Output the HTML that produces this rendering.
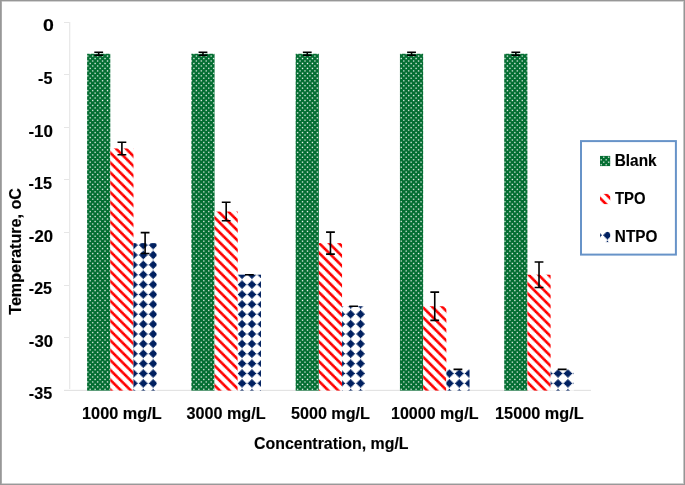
<!DOCTYPE html>
<html><head><meta charset="utf-8"><style>
html,body{margin:0;padding:0;background:#fff;width:685px;height:485px;overflow:hidden}
.f{position:absolute}
svg{position:absolute;left:0;top:0;will-change:transform}
.t{font-family:"Liberation Sans",sans-serif;font-weight:bold;font-size:16px;fill:#000;stroke:#000;stroke-width:0.15px}
</style></head><body>
<svg width="685" height="485" viewBox="0 0 685 485"><defs><pattern id="pd" patternUnits="userSpaceOnUse" width="79" height="79" x="138" y="369"><rect width="79" height="79" fill="#ffffff"/><path fill="#f4f6f8" d="M6 0h1v1h-1zM53 0h1v1h-1zM21 2h1v1h-1zM38 2h1v1h-1zM0 3h1v1h-1zM10 3h1v1h-1zM20 3h1v1h-1zM39 3h1v1h-1zM49 3h1v1h-1zM0 5h1v1h-1zM10 5h1v1h-1zM20 5h1v1h-1zM39 5h1v1h-1zM49 5h1v1h-1zM21 6h1v1h-1zM38 6h1v1h-1zM6 8h1v1h-1zM53 8h1v1h-1zM5 9h1v1h-1zM14 9h2v1h-2zM24 9h2v1h-2zM34 9h2v1h-2zM44 9h2v1h-2zM54 9h1v1h-1zM64 9h1v1h-1zM74 9h1v1h-1zM6 10h1v1h-1zM53 10h1v1h-1zM32 11h1v1h-1zM21 12h1v1h-1zM38 12h1v1h-1zM0 13h1v1h-1zM10 13h1v1h-1zM49 13h1v1h-1zM59 13h1v1h-1zM9 15h1v1h-1zM19 15h2v1h-2zM29 15h2v1h-2zM39 15h2v1h-2zM50 15h1v1h-1zM78 15h1v1h-1zM21 16h1v1h-1zM28 16h1v1h-1zM38 16h1v1h-1zM17 17h1v1h-1zM53 18h1v1h-1zM4 19h1v1h-1zM55 19h1v1h-1zM63 19h1v1h-1zM65 19h1v1h-1zM73 19h1v1h-1zM6 20h1v1h-1zM53 20h1v1h-1zM32 21h1v1h-1zM38 22h1v1h-1zM0 23h1v1h-1zM59 23h1v1h-1zM11 25h1v1h-1zM18 26h1v1h-1zM21 26h1v1h-1zM28 26h1v1h-1zM31 26h1v1h-1zM41 26h1v1h-1zM17 27h1v1h-1zM42 27h1v1h-1zM53 28h1v1h-1zM63 29h1v1h-1zM65 29h1v1h-1zM75 29h1v1h-1zM3 30h1v1h-1zM13 30h1v1h-1zM16 30h1v1h-1zM23 30h1v1h-1zM26 30h1v1h-1zM33 30h1v1h-1zM36 30h1v1h-1zM43 30h1v1h-1zM46 30h1v1h-1zM56 30h1v1h-1zM62 30h1v1h-1zM66 30h1v1h-1zM72 30h1v1h-1zM32 31h1v1h-1zM0 33h1v1h-1zM59 33h1v1h-1zM2 36h1v1h-1zM8 36h1v1h-1zM18 36h1v1h-1zM41 36h1v1h-1zM47 36h1v1h-1zM51 36h1v1h-1zM57 36h1v1h-1zM61 36h1v1h-1zM67 36h1v1h-1zM71 36h1v1h-1zM77 36h1v1h-1zM7 37h1v1h-1zM17 37h1v1h-1zM42 37h1v1h-1zM53 38h1v1h-1zM75 38h1v1h-1zM63 39h1v1h-1zM75 39h1v1h-1zM7 40h1v1h-1zM42 40h1v1h-1zM52 40h1v1h-1zM62 40h1v1h-1zM76 40h1v1h-1zM32 41h1v1h-1zM59 43h1v1h-1zM59 44h1v1h-1zM32 46h1v1h-1zM7 47h1v1h-1zM42 47h1v1h-1zM52 47h1v1h-1zM62 47h1v1h-1zM76 47h1v1h-1zM63 48h1v1h-1zM75 48h1v1h-1zM53 49h1v1h-1zM75 49h1v1h-1zM7 50h1v1h-1zM17 50h1v1h-1zM42 50h1v1h-1zM2 51h1v1h-1zM8 51h1v1h-1zM18 51h1v1h-1zM41 51h1v1h-1zM47 51h1v1h-1zM51 51h1v1h-1zM57 51h1v1h-1zM61 51h1v1h-1zM67 51h1v1h-1zM71 51h1v1h-1zM77 51h1v1h-1zM0 54h1v1h-1zM59 54h1v1h-1zM32 56h1v1h-1zM3 57h1v1h-1zM13 57h1v1h-1zM16 57h1v1h-1zM23 57h1v1h-1zM26 57h1v1h-1zM33 57h1v1h-1zM36 57h1v1h-1zM43 57h1v1h-1zM46 57h1v1h-1zM56 57h1v1h-1zM62 57h1v1h-1zM66 57h1v1h-1zM72 57h1v1h-1zM63 58h1v1h-1zM65 58h1v1h-1zM75 58h1v1h-1zM53 59h1v1h-1zM17 60h1v1h-1zM42 60h1v1h-1zM18 61h1v1h-1zM21 61h1v1h-1zM28 61h1v1h-1zM31 61h1v1h-1zM41 61h1v1h-1zM11 62h1v1h-1zM0 64h1v1h-1zM59 64h1v1h-1zM38 65h1v1h-1zM32 66h1v1h-1zM6 67h1v1h-1zM53 67h1v1h-1zM4 68h1v1h-1zM55 68h1v1h-1zM63 68h1v1h-1zM65 68h1v1h-1zM73 68h1v1h-1zM53 69h1v1h-1zM17 70h1v1h-1zM21 71h1v1h-1zM28 71h1v1h-1zM38 71h1v1h-1zM9 72h1v1h-1zM19 72h2v1h-2zM29 72h2v1h-2zM39 72h2v1h-2zM50 72h1v1h-1zM78 72h1v1h-1zM0 74h1v1h-1zM10 74h1v1h-1zM49 74h1v1h-1zM59 74h1v1h-1zM21 75h1v1h-1zM38 75h1v1h-1zM32 76h1v1h-1zM6 77h1v1h-1zM53 77h1v1h-1zM5 78h1v1h-1zM14 78h2v1h-2zM24 78h2v1h-2zM34 78h2v1h-2zM44 78h2v1h-2zM54 78h1v1h-1zM64 78h1v1h-1zM74 78h1v1h-1z"/><path fill="#eaecf2" d="M75 0h1v1h-1zM17 1h1v1h-1zM42 1h1v1h-1zM28 2h1v1h-1zM31 2h1v1h-1zM19 3h1v1h-1zM29 3h2v1h-2zM40 3h1v1h-1zM59 4h1v1h-1zM19 5h1v1h-1zM29 5h2v1h-2zM40 5h1v1h-1zM28 6h1v1h-1zM31 6h1v1h-1zM17 7h1v1h-1zM42 7h1v1h-1zM75 8h1v1h-1zM17 11h1v1h-1zM42 11h1v1h-1zM28 12h1v1h-1zM20 13h1v1h-1zM39 13h1v1h-1zM0 14h1v1h-1zM59 14h1v1h-1zM1 15h1v1h-1zM48 15h1v1h-1zM58 15h1v1h-1zM60 15h1v1h-1zM68 15h1v1h-1zM70 15h1v1h-1zM18 16h1v1h-1zM31 16h1v1h-1zM41 16h1v1h-1zM7 17h1v1h-1zM42 17h1v1h-1zM63 18h1v1h-1zM75 18h1v1h-1zM14 19h1v1h-1zM24 19h2v1h-2zM34 19h2v1h-2zM45 19h1v1h-1zM17 21h1v1h-1zM21 22h1v1h-1zM10 23h1v1h-1zM49 23h1v1h-1zM0 24h1v1h-1zM59 24h1v1h-1zM38 25h1v1h-1zM8 26h1v1h-1zM51 26h1v1h-1zM61 26h1v1h-1zM77 26h1v1h-1zM7 27h1v1h-1zM52 27h1v1h-1zM63 28h1v1h-1zM75 28h1v1h-1zM4 29h1v1h-1zM55 29h1v1h-1zM73 29h1v1h-1zM6 30h1v1h-1zM17 31h1v1h-1zM21 32h1v1h-1zM38 32h1v1h-1zM49 33h1v1h-1zM0 34h1v1h-1zM59 34h1v1h-1zM38 35h1v1h-1zM12 36h1v1h-1zM22 36h1v1h-1zM27 36h1v1h-1zM37 36h1v1h-1zM52 37h1v1h-1zM62 37h1v1h-1zM76 37h1v1h-1zM63 38h1v1h-1zM65 39h1v1h-1zM73 39h1v1h-1zM3 40h1v1h-1zM46 40h1v1h-1zM56 40h1v1h-1zM66 40h1v1h-1zM72 40h1v1h-1zM21 42h1v1h-1zM38 42h1v1h-1zM0 43h1v1h-1zM0 44h1v1h-1zM21 45h1v1h-1zM38 45h1v1h-1zM3 47h1v1h-1zM46 47h1v1h-1zM56 47h1v1h-1zM66 47h1v1h-1zM72 47h1v1h-1zM65 48h1v1h-1zM73 48h1v1h-1zM63 49h1v1h-1zM52 50h1v1h-1zM62 50h1v1h-1zM76 50h1v1h-1zM12 51h1v1h-1zM22 51h1v1h-1zM27 51h1v1h-1zM37 51h1v1h-1zM38 52h1v1h-1zM0 53h1v1h-1zM59 53h1v1h-1zM49 54h1v1h-1zM21 55h1v1h-1zM38 55h1v1h-1zM17 56h1v1h-1zM6 57h1v1h-1zM4 58h1v1h-1zM55 58h1v1h-1zM73 58h1v1h-1zM63 59h1v1h-1zM75 59h1v1h-1zM7 60h1v1h-1zM52 60h1v1h-1zM8 61h1v1h-1zM51 61h1v1h-1zM61 61h1v1h-1zM77 61h1v1h-1zM38 62h1v1h-1zM0 63h1v1h-1zM59 63h1v1h-1zM10 64h1v1h-1zM49 64h1v1h-1zM21 65h1v1h-1zM17 66h1v1h-1zM14 68h1v1h-1zM24 68h2v1h-2zM34 68h2v1h-2zM45 68h1v1h-1zM63 69h1v1h-1zM75 69h1v1h-1zM7 70h1v1h-1zM42 70h1v1h-1zM18 71h1v1h-1zM31 71h1v1h-1zM41 71h1v1h-1zM1 72h1v1h-1zM48 72h1v1h-1zM58 72h1v1h-1zM60 72h1v1h-1zM68 72h1v1h-1zM70 72h1v1h-1zM0 73h1v1h-1zM59 73h1v1h-1zM20 74h1v1h-1zM39 74h1v1h-1zM28 75h1v1h-1zM17 76h1v1h-1zM42 76h1v1h-1z"/><path fill="#dfe3eb" d="M63 0h1v1h-1zM7 1h1v1h-1zM52 1h1v1h-1zM18 2h1v1h-1zM41 2h1v1h-1zM9 3h1v1h-1zM50 3h1v1h-1zM60 3h1v1h-1zM78 3h1v1h-1zM0 4h1v1h-1zM9 5h1v1h-1zM50 5h1v1h-1zM60 5h1v1h-1zM78 5h1v1h-1zM18 6h1v1h-1zM41 6h1v1h-1zM7 7h1v1h-1zM52 7h1v1h-1zM63 8h1v1h-1zM63 10h1v1h-1zM75 10h1v1h-1zM31 12h1v1h-1zM19 13h1v1h-1zM29 13h2v1h-2zM11 15h1v1h-1zM8 16h1v1h-1zM51 16h1v1h-1zM77 16h1v1h-1zM52 17h1v1h-1zM5 19h1v1h-1zM15 19h1v1h-1zM44 19h1v1h-1zM54 19h1v1h-1zM64 19h1v1h-1zM74 19h1v1h-1zM63 20h1v1h-1zM75 20h1v1h-1zM42 21h1v1h-1zM28 22h1v1h-1zM31 22h1v1h-1zM20 23h1v1h-1zM39 23h1v1h-1zM21 25h1v1h-1zM2 26h1v1h-1zM47 26h1v1h-1zM57 26h1v1h-1zM67 26h1v1h-1zM71 26h1v1h-1zM62 27h1v1h-1zM76 27h1v1h-1zM65 28h1v1h-1zM73 28h1v1h-1zM14 29h1v1h-1zM24 29h1v1h-1zM35 29h1v1h-1zM45 29h1v1h-1zM53 30h1v1h-1zM42 31h1v1h-1zM28 32h1v1h-1zM10 33h1v1h-1zM39 33h1v1h-1zM49 34h1v1h-1zM21 35h1v1h-1zM32 36h1v1h-1zM3 37h1v1h-1zM56 37h1v1h-1zM66 37h1v1h-1zM72 37h1v1h-1zM65 38h1v1h-1zM73 38h1v1h-1zM4 39h1v1h-1zM55 39h1v1h-1zM13 40h1v1h-1zM23 40h1v1h-1zM26 40h1v1h-1zM33 40h1v1h-1zM36 40h1v1h-1zM17 41h1v1h-1zM42 41h1v1h-1zM10 43h1v1h-1zM49 43h1v1h-1zM10 44h1v1h-1zM49 44h1v1h-1zM17 46h1v1h-1zM42 46h1v1h-1zM13 47h1v1h-1zM23 47h1v1h-1zM26 47h1v1h-1zM33 47h1v1h-1zM36 47h1v1h-1zM4 48h1v1h-1zM55 48h1v1h-1zM65 49h1v1h-1zM73 49h1v1h-1zM3 50h1v1h-1zM56 50h1v1h-1zM66 50h1v1h-1zM72 50h1v1h-1zM32 51h1v1h-1zM21 52h1v1h-1zM49 53h1v1h-1zM10 54h1v1h-1zM39 54h1v1h-1zM28 55h1v1h-1zM42 56h1v1h-1zM53 57h1v1h-1zM14 58h1v1h-1zM24 58h1v1h-1zM35 58h1v1h-1zM45 58h1v1h-1zM65 59h1v1h-1zM73 59h1v1h-1zM62 60h1v1h-1zM76 60h1v1h-1zM2 61h1v1h-1zM47 61h1v1h-1zM57 61h1v1h-1zM67 61h1v1h-1zM71 61h1v1h-1zM21 62h1v1h-1zM20 64h1v1h-1zM39 64h1v1h-1zM28 65h1v1h-1zM31 65h1v1h-1zM42 66h1v1h-1zM63 67h1v1h-1zM75 67h1v1h-1zM5 68h1v1h-1zM15 68h1v1h-1zM44 68h1v1h-1zM54 68h1v1h-1zM74 68h1v1h-1zM52 70h1v1h-1zM8 71h1v1h-1zM51 71h1v1h-1zM77 71h1v1h-1zM11 72h1v1h-1zM19 74h1v1h-1zM29 74h2v1h-2zM31 75h1v1h-1zM63 77h1v1h-1zM75 77h1v1h-1z"/><path fill="#d4dae4" d="M65 0h1v1h-1zM76 1h1v1h-1zM8 2h1v1h-1zM51 2h1v1h-1zM1 3h1v1h-1zM58 3h1v1h-1zM68 3h1v1h-1zM70 3h1v1h-1zM1 5h1v1h-1zM58 5h1v1h-1zM68 5h1v1h-1zM70 5h1v1h-1zM8 6h1v1h-1zM51 6h1v1h-1zM76 7h1v1h-1zM65 8h1v1h-1zM7 11h1v1h-1zM52 11h1v1h-1zM18 12h1v1h-1zM41 12h1v1h-1zM9 13h1v1h-1zM40 13h1v1h-1zM50 13h1v1h-1zM49 14h1v1h-1zM38 15h1v1h-1zM61 16h1v1h-1zM67 16h1v1h-1zM71 16h1v1h-1zM62 17h1v1h-1zM76 17h1v1h-1zM65 18h1v1h-1zM73 18h1v1h-1zM7 21h1v1h-1zM52 21h1v1h-1zM18 22h1v1h-1zM29 23h2v1h-2zM10 24h1v1h-1zM49 24h1v1h-1zM12 26h1v1h-1zM22 26h1v1h-1zM37 26h1v1h-1zM66 27h1v1h-1zM72 27h1v1h-1zM55 28h1v1h-1zM15 29h1v1h-1zM25 29h1v1h-1zM34 29h1v1h-1zM75 30h1v1h-1zM31 32h1v1h-1zM20 33h1v1h-1zM10 34h1v1h-1zM28 35h1v1h-1zM17 36h1v1h-1zM13 37h1v1h-1zM46 37h1v1h-1zM4 38h1v1h-1zM55 38h1v1h-1zM14 39h1v1h-1zM45 39h1v1h-1zM16 40h1v1h-1zM43 40h1v1h-1zM28 42h1v1h-1zM31 42h1v1h-1zM20 43h1v1h-1zM39 43h1v1h-1zM20 44h1v1h-1zM39 44h1v1h-1zM28 45h1v1h-1zM31 45h1v1h-1zM16 47h1v1h-1zM43 47h1v1h-1zM14 48h1v1h-1zM45 48h1v1h-1zM4 49h1v1h-1zM55 49h1v1h-1zM13 50h1v1h-1zM46 50h1v1h-1zM17 51h1v1h-1zM28 52h1v1h-1zM10 53h1v1h-1zM20 54h1v1h-1zM31 55h1v1h-1zM75 57h1v1h-1zM15 58h1v1h-1zM25 58h1v1h-1zM34 58h1v1h-1zM55 59h1v1h-1zM66 60h1v1h-1zM72 60h1v1h-1zM12 61h1v1h-1zM22 61h1v1h-1zM37 61h1v1h-1zM10 63h1v1h-1zM49 63h1v1h-1zM29 64h2v1h-2zM18 65h1v1h-1zM7 66h1v1h-1zM52 66h1v1h-1zM64 68h1v1h-1zM65 69h1v1h-1zM73 69h1v1h-1zM62 70h1v1h-1zM76 70h1v1h-1zM61 71h1v1h-1zM67 71h1v1h-1zM71 71h1v1h-1zM38 72h1v1h-1zM49 73h1v1h-1zM9 74h1v1h-1zM40 74h1v1h-1zM50 74h1v1h-1zM18 75h1v1h-1zM41 75h1v1h-1zM7 76h1v1h-1zM52 76h1v1h-1z"/><path fill="#cad1de" d="M73 0h1v1h-1zM62 1h1v1h-1zM61 2h1v1h-1zM77 2h1v1h-1zM11 3h1v1h-1zM48 3h1v1h-1zM10 4h1v1h-1zM49 4h1v1h-1zM11 5h1v1h-1zM48 5h1v1h-1zM61 6h1v1h-1zM77 6h1v1h-1zM62 7h1v1h-1zM73 8h1v1h-1zM65 10h1v1h-1zM73 10h1v1h-1zM62 11h1v1h-1zM76 11h1v1h-1zM8 12h1v1h-1zM51 12h1v1h-1zM60 13h1v1h-1zM78 13h1v1h-1zM10 14h1v1h-1zM21 15h1v1h-1zM2 16h1v1h-1zM47 16h1v1h-1zM57 16h1v1h-1zM66 17h1v1h-1zM72 17h1v1h-1zM55 18h1v1h-1zM65 20h1v1h-1zM41 22h1v1h-1zM19 23h1v1h-1zM40 23h1v1h-1zM28 25h1v1h-1zM31 25h1v1h-1zM27 26h1v1h-1zM32 26h1v1h-1zM3 27h1v1h-1zM46 27h1v1h-1zM56 27h1v1h-1zM4 28h1v1h-1zM5 29h1v1h-1zM44 29h1v1h-1zM54 29h1v1h-1zM63 30h1v1h-1zM7 31h1v1h-1zM52 31h1v1h-1zM18 32h1v1h-1zM41 32h1v1h-1zM29 33h2v1h-2zM20 34h1v1h-1zM39 34h1v1h-1zM31 35h1v1h-1zM42 36h1v1h-1zM23 37h1v1h-1zM26 37h1v1h-1zM33 37h1v1h-1zM36 37h1v1h-1zM14 38h1v1h-1zM45 38h1v1h-1zM24 39h2v1h-2zM35 39h1v1h-1zM6 40h1v1h-1zM53 40h1v1h-1zM7 41h1v1h-1zM7 46h1v1h-1zM6 47h1v1h-1zM53 47h1v1h-1zM24 48h2v1h-2zM35 48h1v1h-1zM14 49h1v1h-1zM45 49h1v1h-1zM23 50h1v1h-1zM26 50h1v1h-1zM33 50h1v1h-1zM36 50h1v1h-1zM42 51h1v1h-1zM31 52h1v1h-1zM20 53h1v1h-1zM39 53h1v1h-1zM29 54h2v1h-2zM18 55h1v1h-1zM41 55h1v1h-1zM7 56h1v1h-1zM52 56h1v1h-1zM63 57h1v1h-1zM5 58h1v1h-1zM44 58h1v1h-1zM54 58h1v1h-1zM4 59h1v1h-1zM3 60h1v1h-1zM46 60h1v1h-1zM56 60h1v1h-1zM27 61h1v1h-1zM32 61h1v1h-1zM28 62h1v1h-1zM31 62h1v1h-1zM19 64h1v1h-1zM40 64h1v1h-1zM41 65h1v1h-1zM65 67h1v1h-1zM55 69h1v1h-1zM66 70h1v1h-1zM72 70h1v1h-1zM2 71h1v1h-1zM47 71h1v1h-1zM57 71h1v1h-1zM21 72h1v1h-1zM10 73h1v1h-1zM60 74h1v1h-1zM78 74h1v1h-1zM8 75h1v1h-1zM51 75h1v1h-1zM62 76h1v1h-1zM76 76h1v1h-1zM65 77h1v1h-1zM73 77h1v1h-1z"/><path fill="#bfc7d7" d="M4 0h1v1h-1zM55 0h1v1h-1zM66 1h1v1h-1zM72 1h1v1h-1zM57 2h1v1h-1zM67 2h1v1h-1zM71 2h1v1h-1zM57 6h1v1h-1zM67 6h1v1h-1zM71 6h1v1h-1zM66 7h1v1h-1zM72 7h1v1h-1zM4 8h1v1h-1zM55 8h1v1h-1zM61 12h1v1h-1zM77 12h1v1h-1zM1 13h1v1h-1zM58 13h1v1h-1zM68 13h1v1h-1zM70 13h1v1h-1zM39 14h1v1h-1zM12 16h1v1h-1zM22 16h1v1h-1zM37 16h1v1h-1zM3 17h1v1h-1zM56 17h1v1h-1zM4 18h1v1h-1zM73 20h1v1h-1zM62 21h1v1h-1zM76 21h1v1h-1zM8 22h1v1h-1zM51 22h1v1h-1zM9 23h1v1h-1zM50 23h1v1h-1zM20 24h1v1h-1zM39 24h1v1h-1zM13 27h1v1h-1zM36 27h1v1h-1zM14 28h1v1h-1zM45 28h1v1h-1zM64 29h1v1h-1zM74 29h1v1h-1zM19 33h1v1h-1zM40 33h1v1h-1zM16 37h1v1h-1zM43 37h1v1h-1zM24 38h1v1h-1zM35 38h1v1h-1zM15 39h1v1h-1zM34 39h1v1h-1zM44 39h1v1h-1zM52 41h1v1h-1zM18 42h1v1h-1zM41 42h1v1h-1zM29 43h2v1h-2zM29 44h2v1h-2zM18 45h1v1h-1zM41 45h1v1h-1zM52 46h1v1h-1zM15 48h1v1h-1zM34 48h1v1h-1zM44 48h1v1h-1zM24 49h1v1h-1zM35 49h1v1h-1zM16 50h1v1h-1zM43 50h1v1h-1zM19 54h1v1h-1zM40 54h1v1h-1zM64 58h1v1h-1zM74 58h1v1h-1zM14 59h1v1h-1zM45 59h1v1h-1zM13 60h1v1h-1zM36 60h1v1h-1zM20 63h1v1h-1zM39 63h1v1h-1zM9 64h1v1h-1zM50 64h1v1h-1zM8 65h1v1h-1zM51 65h1v1h-1zM62 66h1v1h-1zM76 66h1v1h-1zM73 67h1v1h-1zM4 69h1v1h-1zM3 70h1v1h-1zM56 70h1v1h-1zM12 71h1v1h-1zM22 71h1v1h-1zM37 71h1v1h-1zM39 73h1v1h-1zM1 74h1v1h-1zM58 74h1v1h-1zM68 74h1v1h-1zM70 74h1v1h-1zM61 75h1v1h-1zM77 75h1v1h-1z"/><path fill="#b5bed1" d="M3 1h1v1h-1zM56 1h1v1h-1zM2 2h1v1h-1zM47 2h1v1h-1zM21 3h1v1h-1zM38 3h1v1h-1zM39 4h1v1h-1zM21 5h1v1h-1zM38 5h1v1h-1zM2 6h1v1h-1zM47 6h1v1h-1zM3 7h1v1h-1zM56 7h1v1h-1zM4 10h1v1h-1zM55 10h1v1h-1zM66 11h1v1h-1zM72 11h1v1h-1zM67 12h1v1h-1zM71 12h1v1h-1zM11 13h1v1h-1zM48 13h1v1h-1zM20 14h1v1h-1zM28 15h1v1h-1zM31 15h1v1h-1zM27 16h1v1h-1zM32 16h1v1h-1zM13 17h1v1h-1zM46 17h1v1h-1zM14 18h1v1h-1zM45 18h1v1h-1zM61 22h1v1h-1zM77 22h1v1h-1zM60 23h1v1h-1zM78 23h1v1h-1zM18 25h1v1h-1zM17 26h1v1h-1zM42 26h1v1h-1zM23 27h1v1h-1zM26 27h1v1h-1zM33 27h1v1h-1zM24 28h1v1h-1zM35 28h1v1h-1zM65 30h1v1h-1zM73 30h1v1h-1zM62 31h1v1h-1zM76 31h1v1h-1zM8 32h1v1h-1zM51 32h1v1h-1zM9 33h1v1h-1zM50 33h1v1h-1zM29 34h2v1h-2zM18 35h1v1h-1zM41 35h1v1h-1zM7 36h1v1h-1zM52 36h1v1h-1zM6 37h1v1h-1zM53 37h1v1h-1zM25 38h1v1h-1zM34 38h1v1h-1zM5 39h1v1h-1zM54 39h1v1h-1zM63 40h1v1h-1zM75 40h1v1h-1zM76 41h1v1h-1zM19 43h1v1h-1zM40 43h1v1h-1zM19 44h1v1h-1zM40 44h1v1h-1zM76 46h1v1h-1zM63 47h1v1h-1zM75 47h1v1h-1zM5 48h1v1h-1zM54 48h1v1h-1zM25 49h1v1h-1zM34 49h1v1h-1zM6 50h1v1h-1zM53 50h1v1h-1zM7 51h1v1h-1zM52 51h1v1h-1zM18 52h1v1h-1zM41 52h1v1h-1zM29 53h2v1h-2zM9 54h1v1h-1zM50 54h1v1h-1zM8 55h1v1h-1zM51 55h1v1h-1zM62 56h1v1h-1zM76 56h1v1h-1zM65 57h1v1h-1zM73 57h1v1h-1zM24 59h1v1h-1zM35 59h1v1h-1zM23 60h1v1h-1zM26 60h1v1h-1zM33 60h1v1h-1zM17 61h1v1h-1zM42 61h1v1h-1zM18 62h1v1h-1zM60 64h1v1h-1zM78 64h1v1h-1zM61 65h1v1h-1zM77 65h1v1h-1zM14 69h1v1h-1zM45 69h1v1h-1zM13 70h1v1h-1zM46 70h1v1h-1zM27 71h1v1h-1zM32 71h1v1h-1zM28 72h1v1h-1zM31 72h1v1h-1zM20 73h1v1h-1zM11 74h1v1h-1zM48 74h1v1h-1zM67 75h1v1h-1zM71 75h1v1h-1zM66 76h1v1h-1zM72 76h1v1h-1zM4 77h1v1h-1zM55 77h1v1h-1z"/><path fill="#aab5ca" d="M14 0h1v1h-1zM45 0h1v1h-1zM12 2h1v1h-1zM37 2h1v1h-1zM20 4h1v1h-1zM12 6h1v1h-1zM37 6h1v1h-1zM14 8h1v1h-1zM45 8h1v1h-1zM56 11h1v1h-1zM2 12h1v1h-1zM57 12h1v1h-1zM23 17h1v1h-1zM36 17h1v1h-1zM35 18h1v1h-1zM4 20h1v1h-1zM55 20h1v1h-1zM66 21h1v1h-1zM72 21h1v1h-1zM58 23h1v1h-1zM68 23h1v1h-1zM70 23h1v1h-1zM29 24h2v1h-2zM41 25h1v1h-1zM16 27h1v1h-1zM43 27h1v1h-1zM77 32h1v1h-1zM78 33h1v1h-1zM19 34h1v1h-1zM15 38h1v1h-1zM44 38h1v1h-1zM64 39h1v1h-1zM74 39h1v1h-1zM62 41h1v1h-1zM8 42h1v1h-1zM51 42h1v1h-1zM8 45h1v1h-1zM51 45h1v1h-1zM62 46h1v1h-1zM64 48h1v1h-1zM74 48h1v1h-1zM15 49h1v1h-1zM44 49h1v1h-1zM19 53h1v1h-1zM78 54h1v1h-1zM77 55h1v1h-1zM25 59h1v1h-1zM16 60h1v1h-1zM43 60h1v1h-1zM41 62h1v1h-1zM29 63h2v1h-2zM58 64h1v1h-1zM68 64h1v1h-1zM70 64h1v1h-1zM66 66h1v1h-1zM72 66h1v1h-1zM4 67h1v1h-1zM55 67h1v1h-1zM35 69h1v1h-1zM23 70h1v1h-1zM36 70h1v1h-1zM2 75h1v1h-1zM57 75h1v1h-1zM56 76h1v1h-1z"/><path fill="#9fabc3" d="M13 1h1v1h-1zM46 1h1v1h-1zM22 2h1v1h-1zM27 2h1v1h-1zM28 3h1v1h-1zM31 3h1v1h-1zM29 4h1v1h-1zM28 5h1v1h-1zM31 5h1v1h-1zM22 6h1v1h-1zM27 6h1v1h-1zM13 7h1v1h-1zM46 7h1v1h-1zM14 10h1v1h-1zM45 10h1v1h-1zM3 11h1v1h-1zM47 12h1v1h-1zM21 13h1v1h-1zM38 13h1v1h-1zM29 14h2v1h-2zM18 15h1v1h-1zM41 15h1v1h-1zM17 16h1v1h-1zM42 16h1v1h-1zM26 17h1v1h-1zM24 18h1v1h-1zM67 22h1v1h-1zM71 22h1v1h-1zM1 23h1v1h-1zM48 23h1v1h-1zM7 26h1v1h-1zM52 26h1v1h-1zM6 27h1v1h-1zM25 28h1v1h-1zM34 28h1v1h-1zM4 30h1v1h-1zM55 30h1v1h-1zM66 31h1v1h-1zM72 31h1v1h-1zM61 32h1v1h-1zM60 33h1v1h-1zM68 33h1v1h-1zM40 34h1v1h-1zM8 35h1v1h-1zM51 35h1v1h-1zM62 36h1v1h-1zM76 36h1v1h-1zM63 37h1v1h-1zM75 37h1v1h-1zM5 38h1v1h-1zM54 38h1v1h-1zM65 40h1v1h-1zM73 40h1v1h-1zM9 43h1v1h-1zM50 43h1v1h-1zM9 44h1v1h-1zM50 44h1v1h-1zM65 47h1v1h-1zM73 47h1v1h-1zM5 49h1v1h-1zM54 49h1v1h-1zM63 50h1v1h-1zM75 50h1v1h-1zM62 51h1v1h-1zM76 51h1v1h-1zM8 52h1v1h-1zM51 52h1v1h-1zM40 53h1v1h-1zM60 54h1v1h-1zM68 54h1v1h-1zM61 55h1v1h-1zM66 56h1v1h-1zM72 56h1v1h-1zM4 57h1v1h-1zM55 57h1v1h-1zM34 59h1v1h-1zM6 60h1v1h-1zM7 61h1v1h-1zM52 61h1v1h-1zM19 63h1v1h-1zM1 64h1v1h-1zM48 64h1v1h-1zM67 65h1v1h-1zM71 65h1v1h-1zM24 69h1v1h-1zM26 70h1v1h-1zM33 70h1v1h-1zM17 71h1v1h-1zM42 71h1v1h-1zM18 72h1v1h-1zM41 72h1v1h-1zM29 73h2v1h-2zM21 74h1v1h-1zM38 74h1v1h-1zM47 75h1v1h-1zM3 76h1v1h-1zM14 77h1v1h-1zM45 77h1v1h-1z"/><path fill="#95a2bd" d="M24 0h1v1h-1zM35 0h1v1h-1zM23 1h1v1h-1zM36 1h1v1h-1zM32 2h1v1h-1zM30 4h1v1h-1zM32 6h1v1h-1zM23 7h1v1h-1zM36 7h1v1h-1zM24 8h1v1h-1zM35 8h1v1h-1zM13 11h1v1h-1zM46 11h1v1h-1zM12 12h1v1h-1zM28 13h1v1h-1zM7 16h1v1h-1zM16 17h1v1h-1zM33 17h1v1h-1zM25 18h1v1h-1zM34 18h1v1h-1zM14 20h1v1h-1zM45 20h1v1h-1zM3 21h1v1h-1zM56 21h1v1h-1zM2 22h1v1h-1zM57 22h1v1h-1zM11 23h1v1h-1zM19 24h1v1h-1zM40 24h1v1h-1zM8 25h1v1h-1zM51 25h1v1h-1zM53 27h1v1h-1zM15 28h1v1h-1zM44 28h1v1h-1zM67 32h1v1h-1zM71 32h1v1h-1zM70 33h1v1h-1zM9 34h1v1h-1zM50 34h1v1h-1zM65 37h1v1h-1zM64 38h1v1h-1zM74 38h1v1h-1zM66 41h1v1h-1zM72 41h1v1h-1zM61 42h1v1h-1zM77 42h1v1h-1zM60 43h1v1h-1zM78 43h1v1h-1zM60 44h1v1h-1zM78 44h1v1h-1zM61 45h1v1h-1zM77 45h1v1h-1zM66 46h1v1h-1zM72 46h1v1h-1zM64 49h1v1h-1zM74 49h1v1h-1zM65 50h1v1h-1zM9 53h1v1h-1zM50 53h1v1h-1zM70 54h1v1h-1zM67 55h1v1h-1zM71 55h1v1h-1zM15 59h1v1h-1zM44 59h1v1h-1zM53 60h1v1h-1zM8 62h1v1h-1zM51 62h1v1h-1zM40 63h1v1h-1zM11 64h1v1h-1zM2 65h1v1h-1zM57 65h1v1h-1zM3 66h1v1h-1zM56 66h1v1h-1zM14 67h1v1h-1zM45 67h1v1h-1zM25 69h1v1h-1zM34 69h1v1h-1zM16 70h1v1h-1zM7 71h1v1h-1zM28 74h1v1h-1zM12 75h1v1h-1zM13 76h1v1h-1zM46 76h1v1h-1z"/><path fill="#8a99b6" d="M26 1h1v1h-1zM17 2h1v1h-1zM42 2h1v1h-1zM18 3h1v1h-1zM41 3h1v1h-1zM18 5h1v1h-1zM41 5h1v1h-1zM17 6h1v1h-1zM42 6h1v1h-1zM26 7h1v1h-1zM24 10h1v1h-1zM35 10h1v1h-1zM22 12h1v1h-1zM37 12h1v1h-1zM31 13h1v1h-1zM19 14h1v1h-1zM40 14h1v1h-1zM8 15h1v1h-1zM51 15h1v1h-1zM52 16h1v1h-1zM43 17h1v1h-1zM47 22h1v1h-1zM21 23h1v1h-1zM38 23h1v1h-1zM9 24h1v1h-1zM62 26h1v1h-1zM76 26h1v1h-1zM63 27h1v1h-1zM75 27h1v1h-1zM5 28h1v1h-1zM54 28h1v1h-1zM45 30h1v1h-1zM3 31h1v1h-1zM56 31h1v1h-1zM1 33h1v1h-1zM58 33h1v1h-1zM61 35h1v1h-1zM77 35h1v1h-1zM66 36h1v1h-1zM73 37h1v1h-1zM4 40h1v1h-1zM55 40h1v1h-1zM67 42h1v1h-1zM68 43h1v1h-1zM68 44h1v1h-1zM4 47h1v1h-1zM55 47h1v1h-1zM73 50h1v1h-1zM66 51h1v1h-1zM61 52h1v1h-1zM77 52h1v1h-1zM1 54h1v1h-1zM58 54h1v1h-1zM3 56h1v1h-1zM56 56h1v1h-1zM45 57h1v1h-1zM5 59h1v1h-1zM54 59h1v1h-1zM63 60h1v1h-1zM75 60h1v1h-1zM62 61h1v1h-1zM76 61h1v1h-1zM9 63h1v1h-1zM21 64h1v1h-1zM38 64h1v1h-1zM47 65h1v1h-1zM43 70h1v1h-1zM52 71h1v1h-1zM8 72h1v1h-1zM51 72h1v1h-1zM19 73h1v1h-1zM40 73h1v1h-1zM31 74h1v1h-1zM22 75h1v1h-1zM37 75h1v1h-1zM24 77h1v1h-1zM35 77h1v1h-1z"/><path fill="#8090b0" d="M25 0h1v1h-1zM34 0h1v1h-1zM33 1h1v1h-1zM7 2h1v1h-1zM8 3h1v1h-1zM19 4h1v1h-1zM40 4h1v1h-1zM8 5h1v1h-1zM7 6h1v1h-1zM33 7h1v1h-1zM25 8h1v1h-1zM34 8h1v1h-1zM23 11h1v1h-1zM36 11h1v1h-1zM27 12h1v1h-1zM32 12h1v1h-1zM18 13h1v1h-1zM76 16h1v1h-1zM6 17h1v1h-1zM53 17h1v1h-1zM15 18h1v1h-1zM44 18h1v1h-1zM35 20h1v1h-1zM13 21h1v1h-1zM46 21h1v1h-1zM12 22h1v1h-1zM28 23h1v1h-1zM50 24h1v1h-1zM77 25h1v1h-1zM65 27h1v1h-1zM14 30h1v1h-1zM2 32h1v1h-1zM57 32h1v1h-1zM11 33h1v1h-1zM48 33h1v1h-1zM60 34h1v1h-1zM78 34h1v1h-1zM72 36h1v1h-1zM55 37h1v1h-1zM56 41h1v1h-1zM71 42h1v1h-1zM70 43h1v1h-1zM70 44h1v1h-1zM67 45h1v1h-1zM71 45h1v1h-1zM56 46h1v1h-1zM55 50h1v1h-1zM72 51h1v1h-1zM60 53h1v1h-1zM78 53h1v1h-1zM11 54h1v1h-1zM48 54h1v1h-1zM2 55h1v1h-1zM57 55h1v1h-1zM14 57h1v1h-1zM65 60h1v1h-1zM77 62h1v1h-1zM50 63h1v1h-1zM28 64h1v1h-1zM12 65h1v1h-1zM13 66h1v1h-1zM46 66h1v1h-1zM35 67h1v1h-1zM15 69h1v1h-1zM44 69h1v1h-1zM6 70h1v1h-1zM53 70h1v1h-1zM76 71h1v1h-1zM18 74h1v1h-1zM27 75h1v1h-1zM32 75h1v1h-1zM23 76h1v1h-1zM36 76h1v1h-1z"/><path fill="#7586a9" d="M15 0h1v1h-1zM16 1h1v1h-1zM43 1h1v1h-1zM52 2h1v1h-1zM51 3h1v1h-1zM51 5h1v1h-1zM52 6h1v1h-1zM16 7h1v1h-1zM43 7h1v1h-1zM15 8h1v1h-1zM25 10h1v1h-1zM26 11h1v1h-1zM17 12h1v1h-1zM42 12h1v1h-1zM41 13h1v1h-1zM9 14h1v1h-1zM50 14h1v1h-1zM77 15h1v1h-1zM62 16h1v1h-1zM63 17h1v1h-1zM75 17h1v1h-1zM5 18h1v1h-1zM24 20h1v1h-1zM36 21h1v1h-1zM22 22h1v1h-1zM37 22h1v1h-1zM31 23h1v1h-1zM78 24h1v1h-1zM61 25h1v1h-1zM66 26h1v1h-1zM72 26h1v1h-1zM73 27h1v1h-1zM64 28h1v1h-1zM74 28h1v1h-1zM13 31h1v1h-1zM46 31h1v1h-1zM47 32h1v1h-1zM21 33h1v1h-1zM38 33h1v1h-1zM68 34h1v1h-1zM67 35h1v1h-1zM71 35h1v1h-1zM56 36h1v1h-1zM4 37h1v1h-1zM14 40h1v1h-1zM45 40h1v1h-1zM3 41h1v1h-1zM57 42h1v1h-1zM1 43h1v1h-1zM58 43h1v1h-1zM1 44h1v1h-1zM58 44h1v1h-1zM57 45h1v1h-1zM3 46h1v1h-1zM14 47h1v1h-1zM45 47h1v1h-1zM4 50h1v1h-1zM56 51h1v1h-1zM67 52h1v1h-1zM71 52h1v1h-1zM68 53h1v1h-1zM21 54h1v1h-1zM38 54h1v1h-1zM47 55h1v1h-1zM13 56h1v1h-1zM46 56h1v1h-1zM64 59h1v1h-1zM74 59h1v1h-1zM73 60h1v1h-1zM66 61h1v1h-1zM72 61h1v1h-1zM61 62h1v1h-1zM78 63h1v1h-1zM31 64h1v1h-1zM22 65h1v1h-1zM37 65h1v1h-1zM36 66h1v1h-1zM24 67h1v1h-1zM5 69h1v1h-1zM63 70h1v1h-1zM75 70h1v1h-1zM62 71h1v1h-1zM77 72h1v1h-1zM9 73h1v1h-1zM50 73h1v1h-1zM41 74h1v1h-1zM17 75h1v1h-1zM42 75h1v1h-1zM26 76h1v1h-1zM25 77h1v1h-1z"/><path fill="#6a7da2" d="M44 0h1v1h-1zM6 1h1v1h-1zM53 1h1v1h-1zM62 2h1v1h-1zM76 2h1v1h-1zM77 3h1v1h-1zM9 4h1v1h-1zM77 5h1v1h-1zM62 6h1v1h-1zM76 6h1v1h-1zM6 7h1v1h-1zM53 7h1v1h-1zM44 8h1v1h-1zM34 10h1v1h-1zM33 11h1v1h-1zM7 12h1v1h-1zM8 13h1v1h-1zM51 13h1v1h-1zM61 15h1v1h-1zM66 16h1v1h-1zM72 16h1v1h-1zM65 17h1v1h-1zM73 17h1v1h-1zM54 18h1v1h-1zM23 21h1v1h-1zM27 22h1v1h-1zM32 22h1v1h-1zM18 23h1v1h-1zM41 23h1v1h-1zM60 24h1v1h-1zM67 25h1v1h-1zM4 27h1v1h-1zM55 27h1v1h-1zM24 30h1v1h-1zM35 30h1v1h-1zM12 32h1v1h-1zM28 33h1v1h-1zM70 34h1v1h-1zM3 36h1v1h-1zM14 37h1v1h-1zM45 37h1v1h-1zM2 42h1v1h-1zM11 43h1v1h-1zM48 43h1v1h-1zM48 44h1v1h-1zM2 45h1v1h-1zM14 50h1v1h-1zM45 50h1v1h-1zM3 51h1v1h-1zM70 53h1v1h-1zM28 54h1v1h-1zM12 55h1v1h-1zM24 57h1v1h-1zM35 57h1v1h-1zM4 60h1v1h-1zM55 60h1v1h-1zM67 62h1v1h-1zM60 63h1v1h-1zM18 64h1v1h-1zM41 64h1v1h-1zM27 65h1v1h-1zM32 65h1v1h-1zM23 66h1v1h-1zM54 69h1v1h-1zM65 70h1v1h-1zM73 70h1v1h-1zM66 71h1v1h-1zM72 71h1v1h-1zM61 72h1v1h-1zM8 74h1v1h-1zM51 74h1v1h-1zM7 75h1v1h-1zM33 76h1v1h-1zM34 77h1v1h-1z"/><path fill="#60749c" d="M5 0h1v1h-1zM63 1h1v1h-1zM75 1h1v1h-1zM66 2h1v1h-1zM61 3h1v1h-1zM50 4h1v1h-1zM61 5h1v1h-1zM66 6h1v1h-1zM63 7h1v1h-1zM75 7h1v1h-1zM5 8h1v1h-1zM15 10h1v1h-1zM16 11h1v1h-1zM43 11h1v1h-1zM52 12h1v1h-1zM78 14h1v1h-1zM67 15h1v1h-1zM55 17h1v1h-1zM64 18h1v1h-1zM74 18h1v1h-1zM25 20h1v1h-1zM34 20h1v1h-1zM26 21h1v1h-1zM17 22h1v1h-1zM42 22h1v1h-1zM8 23h1v1h-1zM68 24h1v1h-1zM71 25h1v1h-1zM3 26h1v1h-1zM56 26h1v1h-1zM45 27h1v1h-1zM36 31h1v1h-1zM22 32h1v1h-1zM37 32h1v1h-1zM31 33h1v1h-1zM1 34h1v1h-1zM58 34h1v1h-1zM57 35h1v1h-1zM24 40h1v1h-1zM35 40h1v1h-1zM13 41h1v1h-1zM46 41h1v1h-1zM47 42h1v1h-1zM21 43h1v1h-1zM38 43h1v1h-1zM11 44h1v1h-1zM21 44h1v1h-1zM38 44h1v1h-1zM47 45h1v1h-1zM13 46h1v1h-1zM46 46h1v1h-1zM24 47h1v1h-1zM35 47h1v1h-1zM57 52h1v1h-1zM1 53h1v1h-1zM58 53h1v1h-1zM31 54h1v1h-1zM22 55h1v1h-1zM37 55h1v1h-1zM36 56h1v1h-1zM45 60h1v1h-1zM3 61h1v1h-1zM56 61h1v1h-1zM71 62h1v1h-1zM68 63h1v1h-1zM8 64h1v1h-1zM17 65h1v1h-1zM42 65h1v1h-1zM26 66h1v1h-1zM25 67h1v1h-1zM34 67h1v1h-1zM64 69h1v1h-1zM74 69h1v1h-1zM55 70h1v1h-1zM67 72h1v1h-1zM60 73h1v1h-1zM78 73h1v1h-1zM52 75h1v1h-1zM16 76h1v1h-1zM43 76h1v1h-1zM15 77h1v1h-1z"/><path fill="#556a95" d="M54 0h1v1h-1zM65 1h1v1h-1zM73 1h1v1h-1zM72 2h1v1h-1zM67 3h1v1h-1zM67 5h1v1h-1zM72 6h1v1h-1zM65 7h1v1h-1zM73 7h1v1h-1zM54 8h1v1h-1zM44 10h1v1h-1zM6 11h1v1h-1zM53 11h1v1h-1zM62 12h1v1h-1zM76 12h1v1h-1zM61 13h1v1h-1zM77 13h1v1h-1zM60 14h1v1h-1zM71 15h1v1h-1zM3 16h1v1h-1zM56 16h1v1h-1zM4 17h1v1h-1zM33 21h1v1h-1zM7 22h1v1h-1zM52 22h1v1h-1zM51 23h1v1h-1zM70 24h1v1h-1zM14 27h1v1h-1zM25 30h1v1h-1zM34 30h1v1h-1zM23 31h1v1h-1zM18 33h1v1h-1zM41 33h1v1h-1zM2 35h1v1h-1zM13 36h1v1h-1zM46 36h1v1h-1zM24 37h1v1h-1zM35 37h1v1h-1zM12 42h1v1h-1zM28 43h1v1h-1zM31 43h1v1h-1zM28 44h1v1h-1zM31 44h1v1h-1zM12 45h1v1h-1zM24 50h1v1h-1zM35 50h1v1h-1zM13 51h1v1h-1zM46 51h1v1h-1zM2 52h1v1h-1zM18 54h1v1h-1zM41 54h1v1h-1zM23 56h1v1h-1zM25 57h1v1h-1zM34 57h1v1h-1zM14 60h1v1h-1zM70 63h1v1h-1zM51 64h1v1h-1zM7 65h1v1h-1zM52 65h1v1h-1zM33 66h1v1h-1zM4 70h1v1h-1zM3 71h1v1h-1zM56 71h1v1h-1zM71 72h1v1h-1zM61 74h1v1h-1zM77 74h1v1h-1zM62 75h1v1h-1zM76 75h1v1h-1zM6 76h1v1h-1zM53 76h1v1h-1zM44 77h1v1h-1z"/><path fill="#4a618e" d="M64 0h1v1h-1zM74 0h1v1h-1zM4 1h1v1h-1zM55 1h1v1h-1zM3 2h1v1h-1zM56 2h1v1h-1zM71 3h1v1h-1zM60 4h1v1h-1zM78 4h1v1h-1zM71 5h1v1h-1zM3 6h1v1h-1zM56 6h1v1h-1zM4 7h1v1h-1zM55 7h1v1h-1zM64 8h1v1h-1zM74 8h1v1h-1zM5 10h1v1h-1zM63 11h1v1h-1zM75 11h1v1h-1zM66 12h1v1h-1zM72 12h1v1h-1zM67 13h1v1h-1zM68 14h1v1h-1zM46 16h1v1h-1zM14 17h1v1h-1zM45 17h1v1h-1zM15 20h1v1h-1zM44 20h1v1h-1zM16 21h1v1h-1zM62 22h1v1h-1zM76 22h1v1h-1zM61 23h1v1h-1zM77 23h1v1h-1zM58 24h1v1h-1zM2 25h1v1h-1zM57 25h1v1h-1zM13 26h1v1h-1zM46 26h1v1h-1zM24 27h1v1h-1zM35 27h1v1h-1zM26 31h1v1h-1zM17 32h1v1h-1zM27 32h1v1h-1zM32 32h1v1h-1zM42 32h1v1h-1zM8 33h1v1h-1zM51 33h1v1h-1zM11 34h1v1h-1zM38 34h1v1h-1zM48 34h1v1h-1zM47 35h1v1h-1zM25 40h1v1h-1zM34 40h1v1h-1zM23 41h1v1h-1zM36 41h1v1h-1zM37 42h1v1h-1zM18 43h1v1h-1zM41 43h1v1h-1zM18 44h1v1h-1zM41 44h1v1h-1zM37 45h1v1h-1zM23 46h1v1h-1zM36 46h1v1h-1zM25 47h1v1h-1zM34 47h1v1h-1zM47 52h1v1h-1zM11 53h1v1h-1zM38 53h1v1h-1zM48 53h1v1h-1zM8 54h1v1h-1zM51 54h1v1h-1zM17 55h1v1h-1zM27 55h1v1h-1zM32 55h1v1h-1zM42 55h1v1h-1zM26 56h1v1h-1zM24 60h1v1h-1zM35 60h1v1h-1zM13 61h1v1h-1zM46 61h1v1h-1zM2 62h1v1h-1zM57 62h1v1h-1zM58 63h1v1h-1zM61 64h1v1h-1zM77 64h1v1h-1zM62 65h1v1h-1zM76 65h1v1h-1zM16 66h1v1h-1zM15 67h1v1h-1zM44 67h1v1h-1zM14 70h1v1h-1zM45 70h1v1h-1zM46 71h1v1h-1zM68 73h1v1h-1zM67 74h1v1h-1zM66 75h1v1h-1zM72 75h1v1h-1zM63 76h1v1h-1zM75 76h1v1h-1zM5 77h1v1h-1z"/><path fill="#405888" d="M14 1h1v1h-1zM45 1h1v1h-1zM46 2h1v1h-1zM57 3h1v1h-1zM57 5h1v1h-1zM46 6h1v1h-1zM14 7h1v1h-1zM45 7h1v1h-1zM54 10h1v1h-1zM65 11h1v1h-1zM73 11h1v1h-1zM3 12h1v1h-1zM56 12h1v1h-1zM71 13h1v1h-1zM70 14h1v1h-1zM2 15h1v1h-1zM57 15h1v1h-1zM13 16h1v1h-1zM24 17h1v1h-1zM35 17h1v1h-1zM43 21h1v1h-1zM66 22h1v1h-1zM72 22h1v1h-1zM67 23h1v1h-1zM1 24h1v1h-1zM25 27h1v1h-1zM15 30h1v1h-1zM33 31h1v1h-1zM7 32h1v1h-1zM52 32h1v1h-1zM61 33h1v1h-1zM77 33h1v1h-1zM21 34h1v1h-1zM28 34h1v1h-1zM31 34h1v1h-1zM12 35h1v1h-1zM23 36h1v1h-1zM36 36h1v1h-1zM25 37h1v1h-1zM34 37h1v1h-1zM22 42h1v1h-1zM8 43h1v1h-1zM51 43h1v1h-1zM8 44h1v1h-1zM51 44h1v1h-1zM22 45h1v1h-1zM25 50h1v1h-1zM34 50h1v1h-1zM23 51h1v1h-1zM36 51h1v1h-1zM12 52h1v1h-1zM21 53h1v1h-1zM28 53h1v1h-1zM31 53h1v1h-1zM61 54h1v1h-1zM77 54h1v1h-1zM7 55h1v1h-1zM52 55h1v1h-1zM33 56h1v1h-1zM15 57h1v1h-1zM25 60h1v1h-1zM1 63h1v1h-1zM67 64h1v1h-1zM66 65h1v1h-1zM72 65h1v1h-1zM43 66h1v1h-1zM24 70h1v1h-1zM35 70h1v1h-1zM13 71h1v1h-1zM2 72h1v1h-1zM57 72h1v1h-1zM70 73h1v1h-1zM71 74h1v1h-1zM3 75h1v1h-1zM56 75h1v1h-1zM65 76h1v1h-1zM73 76h1v1h-1zM54 77h1v1h-1z"/><path fill="#354e81" d="M24 1h1v1h-1zM35 1h1v1h-1zM13 2h1v1h-1zM2 3h1v1h-1zM68 4h1v1h-1zM2 5h1v1h-1zM13 6h1v1h-1zM24 7h1v1h-1zM35 7h1v1h-1zM74 10h1v1h-1zM4 11h1v1h-1zM55 11h1v1h-1zM46 12h1v1h-1zM2 13h1v1h-1zM57 13h1v1h-1zM58 14h1v1h-1zM36 16h1v1h-1zM25 17h1v1h-1zM5 20h1v1h-1zM6 21h1v1h-1zM53 21h1v1h-1zM63 21h1v1h-1zM75 21h1v1h-1zM3 22h1v1h-1zM56 22h1v1h-1zM71 23h1v1h-1zM11 24h1v1h-1zM48 24h1v1h-1zM47 25h1v1h-1zM23 26h1v1h-1zM36 26h1v1h-1zM34 27h1v1h-1zM44 30h1v1h-1zM16 31h1v1h-1zM62 32h1v1h-1zM76 32h1v1h-1zM67 33h1v1h-1zM18 34h1v1h-1zM41 34h1v1h-1zM37 35h1v1h-1zM15 37h1v1h-1zM15 40h1v1h-1zM44 40h1v1h-1zM26 41h1v1h-1zM17 42h1v1h-1zM27 42h1v1h-1zM32 42h1v1h-1zM61 43h1v1h-1zM77 43h1v1h-1zM61 44h1v1h-1zM77 44h1v1h-1zM17 45h1v1h-1zM27 45h1v1h-1zM32 45h1v1h-1zM26 46h1v1h-1zM15 47h1v1h-1zM44 47h1v1h-1zM15 50h1v1h-1zM37 52h1v1h-1zM18 53h1v1h-1zM41 53h1v1h-1zM67 54h1v1h-1zM62 55h1v1h-1zM76 55h1v1h-1zM16 56h1v1h-1zM44 57h1v1h-1zM34 60h1v1h-1zM23 61h1v1h-1zM36 61h1v1h-1zM47 62h1v1h-1zM11 63h1v1h-1zM48 63h1v1h-1zM71 64h1v1h-1zM3 65h1v1h-1zM56 65h1v1h-1zM6 66h1v1h-1zM53 66h1v1h-1zM63 66h1v1h-1zM75 66h1v1h-1zM5 67h1v1h-1zM25 70h1v1h-1zM36 71h1v1h-1zM58 73h1v1h-1zM2 74h1v1h-1zM57 74h1v1h-1zM46 75h1v1h-1zM4 76h1v1h-1zM55 76h1v1h-1zM74 77h1v1h-1z"/><path fill="#2a457a" d="M25 1h1v1h-1zM34 1h1v1h-1zM23 2h1v1h-1zM36 2h1v1h-1zM47 3h1v1h-1zM70 4h1v1h-1zM47 5h1v1h-1zM23 6h1v1h-1zM36 6h1v1h-1zM25 7h1v1h-1zM34 7h1v1h-1zM64 10h1v1h-1zM14 11h1v1h-1zM24 11h1v1h-1zM35 11h1v1h-1zM45 11h1v1h-1zM13 12h1v1h-1zM1 14h1v1h-1zM12 15h1v1h-1zM47 15h1v1h-1zM23 16h1v1h-1zM34 17h1v1h-1zM54 20h1v1h-1zM4 21h1v1h-1zM55 21h1v1h-1zM65 21h1v1h-1zM73 21h1v1h-1zM13 22h1v1h-1zM46 22h1v1h-1zM2 23h1v1h-1zM57 23h1v1h-1zM21 24h1v1h-1zM28 24h1v1h-1zM31 24h1v1h-1zM38 24h1v1h-1zM12 25h1v1h-1zM15 27h1v1h-1zM44 27h1v1h-1zM5 30h1v1h-1zM43 31h1v1h-1zM56 32h1v1h-1zM66 32h1v1h-1zM72 32h1v1h-1zM57 33h1v1h-1zM71 33h1v1h-1zM8 34h1v1h-1zM51 34h1v1h-1zM77 34h1v1h-1zM22 35h1v1h-1zM26 36h1v1h-1zM44 37h1v1h-1zM33 41h1v1h-1zM7 42h1v1h-1zM42 42h1v1h-1zM52 42h1v1h-1zM76 42h1v1h-1zM67 43h1v1h-1zM71 43h1v1h-1zM67 44h1v1h-1zM71 44h1v1h-1zM7 45h1v1h-1zM42 45h1v1h-1zM52 45h1v1h-1zM76 45h1v1h-1zM33 46h1v1h-1zM44 50h1v1h-1zM26 51h1v1h-1zM22 52h1v1h-1zM8 53h1v1h-1zM51 53h1v1h-1zM77 53h1v1h-1zM57 54h1v1h-1zM71 54h1v1h-1zM56 55h1v1h-1zM66 55h1v1h-1zM72 55h1v1h-1zM43 56h1v1h-1zM5 57h1v1h-1zM15 60h1v1h-1zM44 60h1v1h-1zM12 62h1v1h-1zM21 63h1v1h-1zM28 63h1v1h-1zM31 63h1v1h-1zM38 63h1v1h-1zM2 64h1v1h-1zM57 64h1v1h-1zM13 65h1v1h-1zM46 65h1v1h-1zM4 66h1v1h-1zM55 66h1v1h-1zM65 66h1v1h-1zM73 66h1v1h-1zM54 67h1v1h-1zM34 70h1v1h-1zM23 71h1v1h-1zM12 72h1v1h-1zM47 72h1v1h-1zM1 73h1v1h-1zM13 75h1v1h-1zM14 76h1v1h-1zM24 76h1v1h-1zM35 76h1v1h-1zM45 76h1v1h-1zM64 77h1v1h-1z"/><path fill="#203c74" d="M15 1h1v1h-1zM44 1h1v1h-1zM26 2h1v1h-1zM12 3h1v1h-1zM12 5h1v1h-1zM26 6h1v1h-1zM15 7h1v1h-1zM44 7h1v1h-1zM25 11h1v1h-1zM34 11h1v1h-1zM23 12h1v1h-1zM36 12h1v1h-1zM12 13h1v1h-1zM47 13h1v1h-1zM26 16h1v1h-1zM33 16h1v1h-1zM15 17h1v1h-1zM44 17h1v1h-1zM14 21h1v1h-1zM35 21h1v1h-1zM45 21h1v1h-1zM23 22h1v1h-1zM36 22h1v1h-1zM47 23h1v1h-1zM8 24h1v1h-1zM18 24h1v1h-1zM41 24h1v1h-1zM51 24h1v1h-1zM26 26h1v1h-1zM33 26h1v1h-1zM54 30h1v1h-1zM6 31h1v1h-1zM53 31h1v1h-1zM63 31h1v1h-1zM75 31h1v1h-1zM3 32h1v1h-1zM13 32h1v1h-1zM46 32h1v1h-1zM2 33h1v1h-1zM61 34h1v1h-1zM67 34h1v1h-1zM71 34h1v1h-1zM27 35h1v1h-1zM32 35h1v1h-1zM33 36h1v1h-1zM5 37h1v1h-1zM54 37h1v1h-1zM5 40h1v1h-1zM54 40h1v1h-1zM62 42h1v1h-1zM66 42h1v1h-1zM72 42h1v1h-1zM2 43h1v1h-1zM57 43h1v1h-1zM2 44h1v1h-1zM57 44h1v1h-1zM62 45h1v1h-1zM66 45h1v1h-1zM72 45h1v1h-1zM5 47h1v1h-1zM54 47h1v1h-1zM5 50h1v1h-1zM54 50h1v1h-1zM33 51h1v1h-1zM27 52h1v1h-1zM32 52h1v1h-1zM61 53h1v1h-1zM67 53h1v1h-1zM71 53h1v1h-1zM2 54h1v1h-1zM3 55h1v1h-1zM13 55h1v1h-1zM46 55h1v1h-1zM6 56h1v1h-1zM53 56h1v1h-1zM63 56h1v1h-1zM75 56h1v1h-1zM54 57h1v1h-1zM26 61h1v1h-1zM33 61h1v1h-1zM8 63h1v1h-1zM18 63h1v1h-1zM41 63h1v1h-1zM51 63h1v1h-1zM47 64h1v1h-1zM23 65h1v1h-1zM36 65h1v1h-1zM14 66h1v1h-1zM35 66h1v1h-1zM45 66h1v1h-1zM15 70h1v1h-1zM44 70h1v1h-1zM26 71h1v1h-1zM33 71h1v1h-1zM12 74h1v1h-1zM47 74h1v1h-1zM23 75h1v1h-1zM36 75h1v1h-1zM25 76h1v1h-1zM34 76h1v1h-1z"/><path fill="#15336d" d="M5 1h1v1h-1zM33 2h1v1h-1zM37 3h1v1h-1zM1 4h1v1h-1zM58 4h1v1h-1zM37 5h1v1h-1zM33 6h1v1h-1zM5 7h1v1h-1zM15 11h1v1h-1zM44 11h1v1h-1zM26 12h1v1h-1zM33 12h1v1h-1zM11 14h1v1h-1zM18 14h1v1h-1zM21 14h1v1h-1zM28 14h1v1h-1zM31 14h1v1h-1zM38 14h1v1h-1zM41 14h1v1h-1zM48 14h1v1h-1zM37 15h1v1h-1zM5 17h1v1h-1zM54 17h1v1h-1zM64 20h1v1h-1zM74 20h1v1h-1zM24 21h2v1h-2zM34 21h1v1h-1zM26 22h1v1h-1zM33 22h1v1h-1zM12 23h1v1h-1zM61 24h1v1h-1zM67 24h1v1h-1zM71 24h1v1h-1zM77 24h1v1h-1zM22 25h1v1h-1zM37 25h1v1h-1zM5 27h1v1h-1zM54 27h1v1h-1zM4 31h1v1h-1zM14 31h1v1h-1zM45 31h1v1h-1zM55 31h1v1h-1zM65 31h1v1h-1zM73 31h1v1h-1zM23 32h1v1h-1zM36 32h1v1h-1zM12 33h1v1h-1zM47 33h1v1h-1zM2 34h1v1h-1zM57 34h1v1h-1zM7 35h1v1h-1zM17 35h1v1h-1zM42 35h1v1h-1zM52 35h1v1h-1zM62 35h1v1h-1zM66 35h1v1h-1zM72 35h1v1h-1zM76 35h1v1h-1zM16 36h1v1h-1zM16 41h1v1h-1zM43 41h1v1h-1zM3 42h1v1h-1zM13 42h1v1h-1zM46 42h1v1h-1zM56 42h1v1h-1zM12 43h1v1h-1zM47 43h1v1h-1zM12 44h1v1h-1zM47 44h1v1h-1zM3 45h1v1h-1zM13 45h1v1h-1zM46 45h1v1h-1zM56 45h1v1h-1zM16 46h1v1h-1zM43 46h1v1h-1zM16 51h1v1h-1zM7 52h1v1h-1zM17 52h1v1h-1zM42 52h1v1h-1zM52 52h1v1h-1zM62 52h1v1h-1zM66 52h1v1h-1zM72 52h1v1h-1zM76 52h1v1h-1zM2 53h1v1h-1zM57 53h1v1h-1zM12 54h1v1h-1zM47 54h1v1h-1zM23 55h1v1h-1zM36 55h1v1h-1zM4 56h1v1h-1zM14 56h1v1h-1zM45 56h1v1h-1zM55 56h1v1h-1zM65 56h1v1h-1zM73 56h1v1h-1zM5 60h1v1h-1zM54 60h1v1h-1zM22 62h1v1h-1zM37 62h1v1h-1zM61 63h1v1h-1zM67 63h1v1h-1zM71 63h1v1h-1zM77 63h1v1h-1zM12 64h1v1h-1zM26 65h1v1h-1zM33 65h1v1h-1zM24 66h2v1h-2zM34 66h1v1h-1zM64 67h1v1h-1zM74 67h1v1h-1zM5 70h1v1h-1zM54 70h1v1h-1zM37 72h1v1h-1zM11 73h1v1h-1zM18 73h1v1h-1zM21 73h1v1h-1zM28 73h1v1h-1zM31 73h1v1h-1zM38 73h1v1h-1zM41 73h1v1h-1zM48 73h1v1h-1zM26 75h1v1h-1zM33 75h1v1h-1zM15 76h1v1h-1zM44 76h1v1h-1z"/><path fill="#0b2967" d="M54 1h1v1h-1zM74 1h1v1h-1zM16 2h1v1h-1zM43 2h1v1h-1zM22 3h1v1h-1zM22 5h1v1h-1zM16 6h1v1h-1zM43 6h1v1h-1zM54 7h1v1h-1zM74 7h1v1h-1zM5 11h1v1h-1zM54 11h1v1h-1zM16 12h1v1h-1zM43 12h1v1h-1zM22 13h1v1h-1zM37 13h1v1h-1zM2 14h1v1h-1zM8 14h1v1h-1zM51 14h1v1h-1zM57 14h1v1h-1zM61 14h1v1h-1zM67 14h1v1h-1zM71 14h1v1h-1zM77 14h1v1h-1zM22 15h1v1h-1zM16 16h1v1h-1zM43 16h1v1h-1zM64 17h1v1h-1zM74 17h1v1h-1zM5 21h1v1h-1zM15 21h1v1h-1zM44 21h1v1h-1zM54 21h1v1h-1zM16 22h1v1h-1zM43 22h1v1h-1zM22 23h1v1h-1zM37 23h1v1h-1zM2 24h1v1h-1zM12 24h1v1h-1zM47 24h1v1h-1zM57 24h1v1h-1zM16 26h1v1h-1zM43 26h1v1h-1zM64 27h1v1h-1zM74 27h1v1h-1zM64 30h1v1h-1zM74 30h1v1h-1zM15 31h1v1h-1zM24 31h2v1h-2zM34 31h2v1h-2zM44 31h1v1h-1zM16 32h1v1h-1zM26 32h1v1h-1zM33 32h1v1h-1zM22 33h1v1h-1zM37 33h1v1h-1zM12 34h1v1h-1zM37 34h1v1h-1zM47 34h1v1h-1zM3 35h1v1h-1zM13 35h1v1h-1zM23 35h1v1h-1zM36 35h1v1h-1zM46 35h1v1h-1zM56 35h1v1h-1zM43 36h1v1h-1zM64 37h1v1h-1zM74 37h1v1h-1zM64 40h1v1h-1zM74 40h1v1h-1zM6 41h1v1h-1zM53 41h1v1h-1zM63 41h1v1h-1zM75 41h1v1h-1zM23 42h1v1h-1zM26 42h1v1h-1zM33 42h1v1h-1zM36 42h1v1h-1zM22 43h1v1h-1zM37 43h1v1h-1zM22 44h1v1h-1zM37 44h1v1h-1zM23 45h1v1h-1zM26 45h1v1h-1zM33 45h1v1h-1zM36 45h1v1h-1zM6 46h1v1h-1zM53 46h1v1h-1zM63 46h1v1h-1zM75 46h1v1h-1zM64 47h1v1h-1zM74 47h1v1h-1zM64 50h1v1h-1zM74 50h1v1h-1zM43 51h1v1h-1zM3 52h1v1h-1zM13 52h1v1h-1zM23 52h1v1h-1zM36 52h1v1h-1zM46 52h1v1h-1zM56 52h1v1h-1zM12 53h1v1h-1zM37 53h1v1h-1zM47 53h1v1h-1zM22 54h1v1h-1zM37 54h1v1h-1zM16 55h1v1h-1zM26 55h1v1h-1zM33 55h1v1h-1zM15 56h1v1h-1zM24 56h2v1h-2zM34 56h2v1h-2zM44 56h1v1h-1zM64 57h1v1h-1zM74 57h1v1h-1zM64 60h1v1h-1zM74 60h1v1h-1zM16 61h1v1h-1zM43 61h1v1h-1zM2 63h1v1h-1zM12 63h1v1h-1zM47 63h1v1h-1zM57 63h1v1h-1zM22 64h1v1h-1zM37 64h1v1h-1zM16 65h1v1h-1zM43 65h1v1h-1zM5 66h1v1h-1zM15 66h1v1h-1zM44 66h1v1h-1zM54 66h1v1h-1zM64 70h1v1h-1zM74 70h1v1h-1zM16 71h1v1h-1zM43 71h1v1h-1zM22 72h1v1h-1zM2 73h1v1h-1zM8 73h1v1h-1zM51 73h1v1h-1zM57 73h1v1h-1zM61 73h1v1h-1zM67 73h1v1h-1zM71 73h1v1h-1zM77 73h1v1h-1zM22 74h1v1h-1zM37 74h1v1h-1zM16 75h1v1h-1zM43 75h1v1h-1zM5 76h1v1h-1zM54 76h1v1h-1z"/><path fill="#002060" d="M64 1h1v1h-1zM4 2h3v1h-3zM14 2h2v1h-2zM24 2h2v1h-2zM34 2h2v1h-2zM44 2h2v1h-2zM53 2h3v1h-3zM63 2h3v1h-3zM73 2h3v1h-3zM3 3h5v1h-5zM13 3h5v1h-5zM23 3h5v1h-5zM32 3h5v1h-5zM42 3h5v1h-5zM52 3h5v1h-5zM62 3h5v1h-5zM72 3h5v1h-5zM2 4h7v1h-7zM11 4h8v1h-8zM21 4h8v1h-8zM31 4h8v1h-8zM41 4h8v1h-8zM51 4h7v1h-7zM61 4h7v1h-7zM71 4h7v1h-7zM3 5h5v1h-5zM13 5h5v1h-5zM23 5h5v1h-5zM32 5h5v1h-5zM42 5h5v1h-5zM52 5h5v1h-5zM62 5h5v1h-5zM72 5h5v1h-5zM4 6h3v1h-3zM14 6h2v1h-2zM24 6h2v1h-2zM34 6h2v1h-2zM44 6h2v1h-2zM53 6h3v1h-3zM63 6h3v1h-3zM73 6h3v1h-3zM64 7h1v1h-1zM64 11h1v1h-1zM74 11h1v1h-1zM4 12h3v1h-3zM14 12h2v1h-2zM24 12h2v1h-2zM34 12h2v1h-2zM44 12h2v1h-2zM53 12h3v1h-3zM63 12h3v1h-3zM73 12h3v1h-3zM3 13h5v1h-5zM13 13h5v1h-5zM23 13h5v1h-5zM32 13h5v1h-5zM42 13h5v1h-5zM52 13h5v1h-5zM62 13h5v1h-5zM72 13h5v1h-5zM3 14h5v1h-5zM12 14h6v1h-6zM22 14h6v1h-6zM32 14h6v1h-6zM42 14h6v1h-6zM52 14h5v1h-5zM62 14h5v1h-5zM72 14h5v1h-5zM3 15h5v1h-5zM13 15h5v1h-5zM23 15h5v1h-5zM32 15h5v1h-5zM42 15h5v1h-5zM52 15h5v1h-5zM62 15h5v1h-5zM72 15h5v1h-5zM4 16h3v1h-3zM14 16h2v1h-2zM24 16h2v1h-2zM34 16h2v1h-2zM44 16h2v1h-2zM53 16h3v1h-3zM63 16h3v1h-3zM73 16h3v1h-3zM64 21h1v1h-1zM74 21h1v1h-1zM4 22h3v1h-3zM14 22h2v1h-2zM24 22h2v1h-2zM34 22h2v1h-2zM44 22h2v1h-2zM53 22h3v1h-3zM63 22h3v1h-3zM73 22h3v1h-3zM3 23h5v1h-5zM13 23h5v1h-5zM23 23h5v1h-5zM32 23h5v1h-5zM42 23h5v1h-5zM52 23h5v1h-5zM62 23h5v1h-5zM72 23h5v1h-5zM3 24h5v1h-5zM13 24h5v1h-5zM22 24h6v1h-6zM32 24h6v1h-6zM42 24h5v1h-5zM52 24h5v1h-5zM62 24h5v1h-5zM72 24h5v1h-5zM3 25h5v1h-5zM13 25h5v1h-5zM23 25h5v1h-5zM32 25h5v1h-5zM42 25h5v1h-5zM52 25h5v1h-5zM62 25h5v1h-5zM72 25h5v1h-5zM4 26h3v1h-3zM14 26h2v1h-2zM24 26h2v1h-2zM34 26h2v1h-2zM44 26h2v1h-2zM53 26h3v1h-3zM63 26h3v1h-3zM73 26h3v1h-3zM5 31h1v1h-1zM54 31h1v1h-1zM64 31h1v1h-1zM74 31h1v1h-1zM4 32h3v1h-3zM14 32h2v1h-2zM24 32h2v1h-2zM34 32h2v1h-2zM43 32h3v1h-3zM53 32h3v1h-3zM63 32h3v1h-3zM73 32h3v1h-3zM3 33h5v1h-5zM13 33h5v1h-5zM23 33h5v1h-5zM32 33h5v1h-5zM42 33h5v1h-5zM52 33h5v1h-5zM62 33h5v1h-5zM72 33h5v1h-5zM3 34h5v1h-5zM13 34h5v1h-5zM22 34h6v1h-6zM32 34h5v1h-5zM42 34h5v1h-5zM52 34h5v1h-5zM62 34h5v1h-5zM72 34h5v1h-5zM4 35h3v1h-3zM14 35h3v1h-3zM24 35h3v1h-3zM33 35h3v1h-3zM43 35h3v1h-3zM53 35h3v1h-3zM63 35h3v1h-3zM73 35h3v1h-3zM4 36h3v1h-3zM14 36h2v1h-2zM24 36h2v1h-2zM34 36h2v1h-2zM44 36h2v1h-2zM53 36h3v1h-3zM63 36h3v1h-3zM73 36h3v1h-3zM4 41h2v1h-2zM14 41h2v1h-2zM24 41h2v1h-2zM34 41h2v1h-2zM44 41h2v1h-2zM54 41h2v1h-2zM64 41h2v1h-2zM73 41h2v1h-2zM4 42h3v1h-3zM14 42h3v1h-3zM24 42h2v1h-2zM34 42h2v1h-2zM43 42h3v1h-3zM53 42h3v1h-3zM63 42h3v1h-3zM73 42h3v1h-3zM3 43h5v1h-5zM13 43h5v1h-5zM23 43h5v1h-5zM32 43h5v1h-5zM42 43h5v1h-5zM52 43h5v1h-5zM62 43h5v1h-5zM72 43h5v1h-5zM3 44h5v1h-5zM13 44h5v1h-5zM23 44h5v1h-5zM32 44h5v1h-5zM42 44h5v1h-5zM52 44h5v1h-5zM62 44h5v1h-5zM72 44h5v1h-5zM4 45h3v1h-3zM14 45h3v1h-3zM24 45h2v1h-2zM34 45h2v1h-2zM43 45h3v1h-3zM53 45h3v1h-3zM63 45h3v1h-3zM73 45h3v1h-3zM4 46h2v1h-2zM14 46h2v1h-2zM24 46h2v1h-2zM34 46h2v1h-2zM44 46h2v1h-2zM54 46h2v1h-2zM64 46h2v1h-2zM73 46h2v1h-2zM4 51h3v1h-3zM14 51h2v1h-2zM24 51h2v1h-2zM34 51h2v1h-2zM44 51h2v1h-2zM53 51h3v1h-3zM63 51h3v1h-3zM73 51h3v1h-3zM4 52h3v1h-3zM14 52h3v1h-3zM24 52h3v1h-3zM33 52h3v1h-3zM43 52h3v1h-3zM53 52h3v1h-3zM63 52h3v1h-3zM73 52h3v1h-3zM3 53h5v1h-5zM13 53h5v1h-5zM22 53h6v1h-6zM32 53h5v1h-5zM42 53h5v1h-5zM52 53h5v1h-5zM62 53h5v1h-5zM72 53h5v1h-5zM3 54h5v1h-5zM13 54h5v1h-5zM23 54h5v1h-5zM32 54h5v1h-5zM42 54h5v1h-5zM52 54h5v1h-5zM62 54h5v1h-5zM72 54h5v1h-5zM4 55h3v1h-3zM14 55h2v1h-2zM24 55h2v1h-2zM34 55h2v1h-2zM43 55h3v1h-3zM53 55h3v1h-3zM63 55h3v1h-3zM73 55h3v1h-3zM5 56h1v1h-1zM54 56h1v1h-1zM64 56h1v1h-1zM74 56h1v1h-1zM4 61h3v1h-3zM14 61h2v1h-2zM24 61h2v1h-2zM34 61h2v1h-2zM44 61h2v1h-2zM53 61h3v1h-3zM63 61h3v1h-3zM73 61h3v1h-3zM3 62h5v1h-5zM13 62h5v1h-5zM23 62h5v1h-5zM32 62h5v1h-5zM42 62h5v1h-5zM52 62h5v1h-5zM62 62h5v1h-5zM72 62h5v1h-5zM3 63h5v1h-5zM13 63h5v1h-5zM22 63h6v1h-6zM32 63h6v1h-6zM42 63h5v1h-5zM52 63h5v1h-5zM62 63h5v1h-5zM72 63h5v1h-5zM3 64h5v1h-5zM13 64h5v1h-5zM23 64h5v1h-5zM32 64h5v1h-5zM42 64h5v1h-5zM52 64h5v1h-5zM62 64h5v1h-5zM72 64h5v1h-5zM4 65h3v1h-3zM14 65h2v1h-2zM24 65h2v1h-2zM34 65h2v1h-2zM44 65h2v1h-2zM53 65h3v1h-3zM63 65h3v1h-3zM73 65h3v1h-3zM64 66h1v1h-1zM74 66h1v1h-1zM4 71h3v1h-3zM14 71h2v1h-2zM24 71h2v1h-2zM34 71h2v1h-2zM44 71h2v1h-2zM53 71h3v1h-3zM63 71h3v1h-3zM73 71h3v1h-3zM3 72h5v1h-5zM13 72h5v1h-5zM23 72h5v1h-5zM32 72h5v1h-5zM42 72h5v1h-5zM52 72h5v1h-5zM62 72h5v1h-5zM72 72h5v1h-5zM3 73h5v1h-5zM12 73h6v1h-6zM22 73h6v1h-6zM32 73h6v1h-6zM42 73h6v1h-6zM52 73h5v1h-5zM62 73h5v1h-5zM72 73h5v1h-5zM3 74h5v1h-5zM13 74h5v1h-5zM23 74h5v1h-5zM32 74h5v1h-5zM42 74h5v1h-5zM52 74h5v1h-5zM62 74h5v1h-5zM72 74h5v1h-5zM4 75h3v1h-3zM14 75h2v1h-2zM24 75h2v1h-2zM34 75h2v1h-2zM44 75h2v1h-2zM53 75h3v1h-3zM63 75h3v1h-3zM73 75h3v1h-3zM64 76h1v1h-1zM74 76h1v1h-1z"/></pattern><pattern id="ps" patternUnits="userSpaceOnUse" width="79" height="79" x="138" y="368"><rect width="79" height="79" fill="#ffffff"/><path fill="#fff4f4" d="M3 0h1v1h-1zM7 0h1v1h-1zM4 1h1v1h-1zM14 1h1v1h-1zM24 1h1v1h-1zM29 2h1v1h-1zM34 2h1v1h-1zM39 2h1v1h-1zM49 3h1v1h-1zM55 3h1v1h-1zM59 3h1v1h-1zM70 4h1v1h-1zM8 5h1v1h-1zM19 6h1v1h-1zM23 6h1v1h-1zM39 7h1v1h-1zM44 7h1v1h-1zM49 7h1v1h-1zM54 8h1v1h-1zM64 8h1v1h-1zM74 8h1v1h-1zM65 9h1v1h-1zM71 9h1v1h-1zM75 9h1v1h-1zM7 10h1v1h-1zM13 10h1v1h-1zM24 11h1v1h-1zM5 12h1v1h-1zM15 12h1v1h-1zM25 12h1v1h-1zM64 12h1v1h-1zM74 12h1v1h-1zM0 13h1v1h-1zM10 13h1v1h-1zM55 13h1v1h-1zM59 13h1v1h-1zM69 13h1v1h-1zM70 14h1v1h-1zM8 15h1v1h-1zM19 16h1v1h-1zM23 16h1v1h-1zM29 16h1v1h-1zM10 17h1v1h-1zM20 17h1v1h-1zM30 17h1v1h-1zM40 17h1v1h-1zM44 17h1v1h-1zM5 18h1v1h-1zM15 18h1v1h-1zM25 18h1v1h-1zM35 18h1v1h-1zM45 18h1v1h-1zM55 18h1v1h-1zM74 18h1v1h-1zM71 19h1v1h-1zM75 19h1v1h-1zM7 20h1v1h-1zM13 20h1v1h-1zM24 21h1v1h-1zM28 21h1v1h-1zM25 22h1v1h-1zM35 22h1v1h-1zM45 22h1v1h-1zM55 23h1v1h-1zM60 23h1v1h-1zM1 24h1v1h-1zM70 24h1v1h-1zM12 25h1v1h-1zM23 26h1v1h-1zM29 26h1v1h-1zM40 27h1v1h-1zM44 27h1v1h-1zM1 28h1v1h-1zM11 28h1v1h-1zM21 28h1v1h-1zM60 28h1v1h-1zM70 28h1v1h-1zM6 29h1v1h-1zM16 29h1v1h-1zM71 29h1v1h-1zM75 29h1v1h-1zM7 30h1v1h-1zM13 30h1v1h-1zM28 31h1v1h-1zM34 31h1v1h-1zM45 32h1v1h-1zM16 33h1v1h-1zM26 33h1v1h-1zM36 33h1v1h-1zM46 33h1v1h-1zM1 34h1v1h-1zM11 34h1v1h-1zM21 34h1v1h-1zM31 34h1v1h-1zM12 35h1v1h-1zM23 36h1v1h-1zM29 36h1v1h-1zM40 37h1v1h-1zM44 37h1v1h-1zM50 37h1v1h-1zM41 38h1v1h-1zM51 38h1v1h-1zM61 38h1v1h-1zM65 38h1v1h-1zM26 39h1v1h-1zM36 39h1v1h-1zM46 39h1v1h-1zM56 39h1v1h-1zM66 39h1v1h-1zM76 39h1v1h-1zM13 40h1v1h-1zM17 40h1v1h-1zM28 41h1v1h-1zM34 41h1v1h-1zM45 42h1v1h-1zM46 43h1v1h-1zM56 43h1v1h-1zM66 43h1v1h-1zM2 44h1v1h-1zM12 45h1v1h-1zM22 45h1v1h-1zM29 46h1v1h-1zM33 46h1v1h-1zM44 47h1v1h-1zM50 47h1v1h-1zM61 48h1v1h-1zM65 48h1v1h-1zM2 49h1v1h-1zM12 49h1v1h-1zM22 49h1v1h-1zM32 49h1v1h-1zM42 49h1v1h-1zM52 49h1v1h-1zM13 50h1v1h-1zM17 50h1v1h-1zM27 50h1v1h-1zM37 50h1v1h-1zM28 51h1v1h-1zM34 51h1v1h-1zM49 52h1v1h-1zM66 53h1v1h-1zM2 54h1v1h-1zM37 54h1v1h-1zM47 54h1v1h-1zM57 54h1v1h-1zM67 54h1v1h-1zM77 54h1v1h-1zM32 55h1v1h-1zM42 55h1v1h-1zM52 55h1v1h-1zM62 55h1v1h-1zM33 56h1v1h-1zM44 57h1v1h-1zM50 57h1v1h-1zM61 58h1v1h-1zM65 58h1v1h-1zM71 58h1v1h-1zM3 59h1v1h-1zM62 59h1v1h-1zM72 59h1v1h-1zM8 60h1v1h-1zM13 60h1v1h-1zM18 60h1v1h-1zM57 60h1v1h-1zM67 60h1v1h-1zM77 60h1v1h-1zM28 61h1v1h-1zM34 61h1v1h-1zM38 61h1v1h-1zM49 62h1v1h-1zM66 63h1v1h-1zM2 64h1v1h-1zM8 64h1v1h-1zM77 64h1v1h-1zM23 65h1v1h-1zM33 66h1v1h-1zM43 66h1v1h-1zM53 66h1v1h-1zM50 67h1v1h-1zM54 67h1v1h-1zM65 68h1v1h-1zM71 68h1v1h-1zM3 69h1v1h-1zM7 69h1v1h-1zM4 70h1v1h-1zM23 70h1v1h-1zM33 70h1v1h-1zM43 70h1v1h-1zM53 70h1v1h-1zM63 70h1v1h-1zM73 70h1v1h-1zM34 71h1v1h-1zM38 71h1v1h-1zM48 71h1v1h-1zM58 71h1v1h-1zM49 72h1v1h-1zM55 72h1v1h-1zM66 73h1v1h-1zM70 73h1v1h-1zM2 74h1v1h-1zM8 74h1v1h-1zM9 75h1v1h-1zM19 75h1v1h-1zM23 75h1v1h-1zM68 75h1v1h-1zM78 75h1v1h-1zM4 76h1v1h-1zM14 76h1v1h-1zM53 76h1v1h-1zM63 76h1v1h-1zM73 76h1v1h-1zM50 77h1v1h-1zM54 77h1v1h-1zM65 78h1v1h-1zM71 78h1v1h-1z"/><path fill="#ffeaea" d="M72 0h1v1h-1zM28 1h1v1h-1zM63 1h1v1h-1zM73 1h1v1h-1zM0 3h1v1h-1zM69 3h1v1h-1zM1 4h1v1h-1zM66 4h1v1h-1zM12 5h1v1h-1zM77 5h1v1h-1zM9 6h1v1h-1zM78 6h1v1h-1zM5 8h1v1h-1zM15 8h1v1h-1zM50 8h1v1h-1zM6 9h1v1h-1zM3 10h1v1h-1zM17 10h1v1h-1zM4 11h1v1h-1zM14 11h1v1h-1zM28 11h1v1h-1zM44 12h1v1h-1zM49 12h1v1h-1zM54 12h1v1h-1zM20 13h1v1h-1zM30 13h1v1h-1zM40 13h1v1h-1zM1 14h1v1h-1zM11 14h1v1h-1zM66 14h1v1h-1zM12 15h1v1h-1zM9 16h1v1h-1zM33 16h1v1h-1zM0 17h1v1h-1zM59 17h1v1h-1zM69 17h1v1h-1zM50 18h1v1h-1zM6 19h1v1h-1zM16 19h1v1h-1zM3 20h1v1h-1zM17 20h1v1h-1zM14 21h1v1h-1zM5 22h1v1h-1zM15 22h1v1h-1zM49 22h1v1h-1zM11 24h1v1h-1zM21 24h1v1h-1zM66 24h1v1h-1zM8 25h1v1h-1zM22 25h1v1h-1zM19 26h1v1h-1zM33 26h1v1h-1zM20 27h1v1h-1zM30 27h1v1h-1zM65 28h1v1h-1zM26 29h1v1h-1zM36 29h1v1h-1zM46 29h1v1h-1zM17 30h1v1h-1zM27 30h1v1h-1zM24 31h1v1h-1zM38 31h1v1h-1zM25 32h1v1h-1zM35 32h1v1h-1zM49 32h1v1h-1zM6 33h1v1h-1zM65 33h1v1h-1zM75 33h1v1h-1zM41 34h1v1h-1zM51 34h1v1h-1zM61 34h1v1h-1zM71 34h1v1h-1zM8 35h1v1h-1zM22 35h1v1h-1zM32 35h1v1h-1zM19 36h1v1h-1zM33 36h1v1h-1zM30 37h1v1h-1zM11 38h1v1h-1zM21 38h1v1h-1zM31 38h1v1h-1zM71 39h1v1h-1zM27 40h1v1h-1zM37 40h1v1h-1zM24 41h1v1h-1zM38 41h1v1h-1zM35 42h1v1h-1zM49 42h1v1h-1zM26 43h1v1h-1zM36 43h1v1h-1zM70 43h1v1h-1zM8 45h1v1h-1zM32 45h1v1h-1zM42 45h1v1h-1zM52 45h1v1h-1zM43 46h1v1h-1zM40 47h1v1h-1zM54 47h1v1h-1zM41 48h1v1h-1zM51 48h1v1h-1zM7 49h1v1h-1zM47 50h1v1h-1zM57 50h1v1h-1zM67 50h1v1h-1zM24 51h1v1h-1zM38 51h1v1h-1zM48 51h1v1h-1zM45 52h1v1h-1zM46 53h1v1h-1zM56 53h1v1h-1zM70 53h1v1h-1zM7 54h1v1h-1zM17 54h1v1h-1zM27 54h1v1h-1zM3 55h1v1h-1zM8 55h1v1h-1zM13 55h1v1h-1zM72 55h1v1h-1zM29 56h1v1h-1zM43 56h1v1h-1zM53 56h1v1h-1zM40 57h1v1h-1zM54 57h1v1h-1zM51 58h1v1h-1zM7 59h1v1h-1zM32 59h1v1h-1zM42 59h1v1h-1zM52 59h1v1h-1zM48 61h1v1h-1zM58 61h1v1h-1zM45 62h1v1h-1zM59 62h1v1h-1zM56 63h1v1h-1zM70 63h1v1h-1zM47 64h1v1h-1zM57 64h1v1h-1zM67 64h1v1h-1zM29 66h1v1h-1zM63 66h1v1h-1zM73 66h1v1h-1zM64 67h1v1h-1zM61 68h1v1h-1zM75 68h1v1h-1zM62 69h1v1h-1zM72 69h1v1h-1zM28 70h1v1h-1zM9 71h1v1h-1zM19 71h1v1h-1zM68 71h1v1h-1zM78 71h1v1h-1zM45 72h1v1h-1zM59 72h1v1h-1zM69 72h1v1h-1zM12 74h1v1h-1zM67 74h1v1h-1zM77 74h1v1h-1zM28 75h1v1h-1zM38 75h1v1h-1zM48 75h1v1h-1zM58 75h1v1h-1zM24 76h1v1h-1zM29 76h1v1h-1zM34 76h1v1h-1zM64 77h1v1h-1zM74 77h1v1h-1zM61 78h1v1h-1zM75 78h1v1h-1z"/><path fill="#ffdfdf" d="M17 0h1v1h-1zM62 0h1v1h-1zM33 1h1v1h-1zM43 1h1v1h-1zM53 1h1v1h-1zM24 2h1v1h-1zM49 2h1v1h-1zM10 3h1v1h-1zM20 3h1v1h-1zM45 3h1v1h-1zM11 4h1v1h-1zM56 4h1v1h-1zM22 5h1v1h-1zM67 5h1v1h-1zM33 6h1v1h-1zM58 6h1v1h-1zM68 6h1v1h-1zM29 7h1v1h-1zM25 8h1v1h-1zM35 8h1v1h-1zM45 8h1v1h-1zM16 9h1v1h-1zM61 9h1v1h-1zM72 10h1v1h-1zM38 11h1v1h-1zM73 11h1v1h-1zM34 12h1v1h-1zM45 13h1v1h-1zM50 13h1v1h-1zM60 13h1v1h-1zM21 14h1v1h-1zM22 15h1v1h-1zM77 15h1v1h-1zM78 16h1v1h-1zM39 17h1v1h-1zM49 17h1v1h-1zM54 17h1v1h-1zM65 18h1v1h-1zM26 19h1v1h-1zM36 19h1v1h-1zM61 19h1v1h-1zM27 20h1v1h-1zM72 20h1v1h-1zM4 21h1v1h-1zM38 21h1v1h-1zM64 22h1v1h-1zM74 22h1v1h-1zM45 23h1v1h-1zM70 23h1v1h-1zM31 24h1v1h-1zM41 24h1v1h-1zM32 25h1v1h-1zM77 25h1v1h-1zM9 26h1v1h-1zM43 26h1v1h-1zM0 27h1v1h-1zM10 27h1v1h-1zM54 27h1v1h-1zM50 28h1v1h-1zM56 29h1v1h-1zM61 29h1v1h-1zM66 29h1v1h-1zM3 30h1v1h-1zM37 30h1v1h-1zM14 31h1v1h-1zM15 32h1v1h-1zM55 33h1v1h-1zM70 33h1v1h-1zM2 34h1v1h-1zM66 34h1v1h-1zM42 35h1v1h-1zM43 36h1v1h-1zM20 37h1v1h-1zM54 37h1v1h-1zM1 38h1v1h-1zM60 38h1v1h-1zM70 38h1v1h-1zM7 39h1v1h-1zM3 40h1v1h-1zM47 40h1v1h-1zM57 40h1v1h-1zM14 41h1v1h-1zM48 41h1v1h-1zM25 42h1v1h-1zM59 42h1v1h-1zM6 43h1v1h-1zM16 43h1v1h-1zM12 44h1v1h-1zM66 44h1v1h-1zM62 45h1v1h-1zM72 45h1v1h-1zM19 46h1v1h-1zM53 46h1v1h-1zM30 47h1v1h-1zM21 48h1v1h-1zM31 48h1v1h-1zM75 48h1v1h-1zM71 49h1v1h-1zM3 50h1v1h-1zM8 50h1v1h-1zM18 50h1v1h-1zM77 50h1v1h-1zM58 51h1v1h-1zM35 52h1v1h-1zM59 52h1v1h-1zM36 53h1v1h-1zM12 54h1v1h-1zM76 54h1v1h-1zM23 55h1v1h-1zM19 56h1v1h-1zM63 56h1v1h-1zM64 57h1v1h-1zM41 58h1v1h-1zM75 58h1v1h-1zM12 59h1v1h-1zM22 59h1v1h-1zM28 60h1v1h-1zM24 61h1v1h-1zM68 61h1v1h-1zM78 61h1v1h-1zM35 62h1v1h-1zM69 62h1v1h-1zM1 63h1v1h-1zM46 63h1v1h-1zM12 64h1v1h-1zM27 64h1v1h-1zM37 64h1v1h-1zM8 65h1v1h-1zM33 65h1v1h-1zM4 66h1v1h-1zM14 66h1v1h-1zM40 67h1v1h-1zM74 67h1v1h-1zM51 68h1v1h-1zM17 69h1v1h-1zM42 69h1v1h-1zM52 69h1v1h-1zM13 70h1v1h-1zM24 71h1v1h-1zM29 71h1v1h-1zM39 71h1v1h-1zM0 72h1v1h-1zM1 73h1v1h-1zM56 73h1v1h-1zM57 74h1v1h-1zM18 75h1v1h-1zM33 75h1v1h-1zM44 76h1v1h-1zM5 77h1v1h-1zM40 77h1v1h-1zM6 78h1v1h-1z"/><path fill="#ffd4d4" d="M27 0h1v1h-1zM52 0h1v1h-1zM23 1h1v1h-1zM38 1h1v1h-1zM30 3h1v1h-1zM35 3h1v1h-1zM40 3h1v1h-1zM21 4h1v1h-1zM57 5h1v1h-1zM38 6h1v1h-1zM48 6h1v1h-1zM54 7h1v1h-1zM40 8h1v1h-1zM55 8h1v1h-1zM26 9h1v1h-1zM51 9h1v1h-1zM27 10h1v1h-1zM62 10h1v1h-1zM53 11h1v1h-1zM63 11h1v1h-1zM31 14h1v1h-1zM56 14h1v1h-1zM32 15h1v1h-1zM67 15h1v1h-1zM43 16h1v1h-1zM68 16h1v1h-1zM40 18h1v1h-1zM46 19h1v1h-1zM37 20h1v1h-1zM73 21h1v1h-1zM44 22h1v1h-1zM54 22h1v1h-1zM59 22h1v1h-1zM51 24h1v1h-1zM56 24h1v1h-1zM61 24h1v1h-1zM42 25h1v1h-1zM78 26h1v1h-1zM59 27h1v1h-1zM69 27h1v1h-1zM75 28h1v1h-1zM76 29h1v1h-1zM47 30h1v1h-1zM72 30h1v1h-1zM4 31h1v1h-1zM48 31h1v1h-1zM5 32h1v1h-1zM59 32h1v1h-1zM74 32h1v1h-1zM52 35h1v1h-1zM62 35h1v1h-1zM77 35h1v1h-1zM9 36h1v1h-1zM53 36h1v1h-1zM10 37h1v1h-1zM64 37h1v1h-1zM75 38h1v1h-1zM61 39h1v1h-1zM67 40h1v1h-1zM58 41h1v1h-1zM15 42h1v1h-1zM1 43h1v1h-1zM65 43h1v1h-1zM75 43h1v1h-1zM3 45h1v1h-1zM13 45h1v1h-1zM77 45h1v1h-1zM9 46h1v1h-1zM63 46h1v1h-1zM20 47h1v1h-1zM64 47h1v1h-1zM1 48h1v1h-1zM11 48h1v1h-1zM17 49h1v1h-1zM14 51h1v1h-1zM68 51h1v1h-1zM25 52h1v1h-1zM69 52h1v1h-1zM1 53h1v1h-1zM16 53h1v1h-1zM26 53h1v1h-1zM4 56h1v1h-1zM73 56h1v1h-1zM30 57h1v1h-1zM74 57h1v1h-1zM6 58h1v1h-1zM31 58h1v1h-1zM2 59h1v1h-1zM17 59h1v1h-1zM3 60h1v1h-1zM9 61h1v1h-1zM19 61h1v1h-1zM0 62h1v1h-1zM36 63h1v1h-1zM7 64h1v1h-1zM17 64h1v1h-1zM22 64h1v1h-1zM19 66h1v1h-1zM24 66h1v1h-1zM34 66h1v1h-1zM5 67h1v1h-1zM30 67h1v1h-1zM6 68h1v1h-1zM41 68h1v1h-1zM32 69h1v1h-1zM38 70h1v1h-1zM10 72h1v1h-1zM35 72h1v1h-1zM11 73h1v1h-1zM46 73h1v1h-1zM22 74h1v1h-1zM37 74h1v1h-1zM47 74h1v1h-1zM19 76h1v1h-1zM15 77h1v1h-1zM25 77h1v1h-1zM16 78h1v1h-1zM51 78h1v1h-1z"/><path fill="#ffcaca" d="M42 0h1v1h-1zM13 1h1v1h-1zM59 2h1v1h-1zM50 3h1v1h-1zM31 4h1v1h-1zM46 4h1v1h-1zM32 5h1v1h-1zM47 5h1v1h-1zM18 6h1v1h-1zM28 6h1v1h-1zM43 6h1v1h-1zM19 7h1v1h-1zM65 8h1v1h-1zM36 9h1v1h-1zM37 10h1v1h-1zM52 10h1v1h-1zM33 11h1v1h-1zM43 11h1v1h-1zM48 11h1v1h-1zM24 12h1v1h-1zM59 12h1v1h-1zM35 13h1v1h-1zM70 13h1v1h-1zM41 14h1v1h-1zM46 14h1v1h-1zM51 14h1v1h-1zM42 15h1v1h-1zM57 15h1v1h-1zM48 16h1v1h-1zM58 16h1v1h-1zM29 17h1v1h-1zM64 17h1v1h-1zM75 18h1v1h-1zM51 19h1v1h-1zM56 19h1v1h-1zM66 19h1v1h-1zM47 20h1v1h-1zM62 20h1v1h-1zM48 21h1v1h-1zM63 21h1v1h-1zM34 22h1v1h-1zM2 24h1v1h-1zM71 24h1v1h-1zM52 25h1v1h-1zM67 25h1v1h-1zM53 26h1v1h-1zM68 26h1v1h-1zM39 27h1v1h-1zM49 27h1v1h-1zM64 27h1v1h-1zM40 28h1v1h-1zM7 29h1v1h-1zM57 30h1v1h-1zM58 31h1v1h-1zM73 31h1v1h-1zM64 32h1v1h-1zM69 32h1v1h-1zM1 33h1v1h-1zM45 33h1v1h-1zM12 34h1v1h-1zM56 34h1v1h-1zM67 35h1v1h-1zM72 35h1v1h-1zM63 36h1v1h-1zM78 36h1v1h-1zM0 37h1v1h-1zM69 37h1v1h-1zM50 38h1v1h-1zM17 39h1v1h-1zM8 40h1v1h-1zM72 40h1v1h-1zM77 40h1v1h-1zM4 41h1v1h-1zM68 41h1v1h-1zM5 42h1v1h-1zM69 42h1v1h-1zM55 43h1v1h-1zM56 44h1v1h-1zM23 45h1v1h-1zM73 46h1v1h-1zM10 47h1v1h-1zM74 47h1v1h-1zM6 48h1v1h-1zM70 48h1v1h-1zM61 49h1v1h-1zM28 50h1v1h-1zM72 50h1v1h-1zM78 51h1v1h-1zM0 52h1v1h-1zM15 52h1v1h-1zM6 53h1v1h-1zM11 53h1v1h-1zM22 54h1v1h-1zM66 54h1v1h-1zM33 55h1v1h-1zM77 55h1v1h-1zM9 56h1v1h-1zM14 56h1v1h-1zM5 57h1v1h-1zM20 57h1v1h-1zM21 58h1v1h-1zM71 59h1v1h-1zM38 60h1v1h-1zM14 61h1v1h-1zM29 61h1v1h-1zM10 62h1v1h-1zM25 62h1v1h-1zM11 63h1v1h-1zM26 63h1v1h-1zM76 64h1v1h-1zM77 65h1v1h-1zM44 66h1v1h-1zM15 67h1v1h-1zM16 68h1v1h-1zM31 68h1v1h-1zM12 69h1v1h-1zM22 69h1v1h-1zM27 69h1v1h-1zM3 70h1v1h-1zM14 71h1v1h-1zM49 71h1v1h-1zM20 72h1v1h-1zM30 72h1v1h-1zM21 73h1v1h-1zM36 73h1v1h-1zM27 74h1v1h-1zM8 75h1v1h-1zM43 75h1v1h-1zM54 76h1v1h-1zM30 77h1v1h-1zM35 77h1v1h-1zM26 78h1v1h-1zM41 78h1v1h-1z"/><path fill="#ffbfbf" d="M32 0h1v1h-1zM37 0h1v1h-1zM48 1h1v1h-1zM14 2h1v1h-1zM25 3h1v1h-1zM60 3h1v1h-1zM36 4h1v1h-1zM41 4h1v1h-1zM37 5h1v1h-1zM42 5h1v1h-1zM64 7h1v1h-1zM30 8h1v1h-1zM41 9h1v1h-1zM46 9h1v1h-1zM42 10h1v1h-1zM47 10h1v1h-1zM23 11h1v1h-1zM61 14h1v1h-1zM47 15h1v1h-1zM52 15h1v1h-1zM38 16h1v1h-1zM53 16h1v1h-1zM30 18h1v1h-1zM76 19h1v1h-1zM52 20h1v1h-1zM57 20h1v1h-1zM53 21h1v1h-1zM58 21h1v1h-1zM69 22h1v1h-1zM1 23h1v1h-1zM35 23h1v1h-1zM46 24h1v1h-1zM57 25h1v1h-1zM62 25h1v1h-1zM58 26h1v1h-1zM63 26h1v1h-1zM6 28h1v1h-1zM51 29h1v1h-1zM62 30h1v1h-1zM67 30h1v1h-1zM77 30h1v1h-1zM63 31h1v1h-1zM68 31h1v1h-1zM44 32h1v1h-1zM54 32h1v1h-1zM3 35h1v1h-1zM68 36h1v1h-1zM73 36h1v1h-1zM59 37h1v1h-1zM74 37h1v1h-1zM6 38h1v1h-1zM51 39h1v1h-1zM18 40h1v1h-1zM73 41h1v1h-1zM78 41h1v1h-1zM0 42h1v1h-1zM74 42h1v1h-1zM11 43h1v1h-1zM22 44h1v1h-1zM67 45h1v1h-1zM4 46h1v1h-1zM78 46h1v1h-1zM0 47h1v1h-1zM5 47h1v1h-1zM60 48h1v1h-1zM27 49h1v1h-1zM4 51h1v1h-1zM9 51h1v1h-1zM19 51h1v1h-1zM5 52h1v1h-1zM10 52h1v1h-1zM65 53h1v1h-1zM75 53h1v1h-1zM24 56h1v1h-1zM34 56h1v1h-1zM10 57h1v1h-1zM15 57h1v1h-1zM1 58h1v1h-1zM11 58h1v1h-1zM16 58h1v1h-1zM27 59h1v1h-1zM72 60h1v1h-1zM4 61h1v1h-1zM39 61h1v1h-1zM15 62h1v1h-1zM20 62h1v1h-1zM16 63h1v1h-1zM21 63h1v1h-1zM32 64h1v1h-1zM43 65h1v1h-1zM9 66h1v1h-1zM20 67h1v1h-1zM25 67h1v1h-1zM21 68h1v1h-1zM26 68h1v1h-1zM2 69h1v1h-1zM25 72h1v1h-1zM40 72h1v1h-1zM26 73h1v1h-1zM31 73h1v1h-1zM17 74h1v1h-1zM32 74h1v1h-1zM45 77h1v1h-1zM55 77h1v1h-1zM31 78h1v1h-1zM36 78h1v1h-1z"/><path fill="#ffb5b5" d="M12 0h1v1h-1zM22 0h1v1h-1zM3 1h1v1h-1zM70 3h1v1h-1zM51 4h1v1h-1zM27 5h1v1h-1zM8 6h1v1h-1zM53 6h1v1h-1zM75 8h1v1h-1zM31 9h1v1h-1zM56 9h1v1h-1zM66 9h1v1h-1zM32 10h1v1h-1zM13 11h1v1h-1zM58 11h1v1h-1zM14 12h1v1h-1zM69 12h1v1h-1zM1 13h1v1h-1zM25 13h1v1h-1zM36 14h1v1h-1zM71 14h1v1h-1zM37 15h1v1h-1zM28 16h1v1h-1zM63 16h1v1h-1zM19 17h1v1h-1zM41 19h1v1h-1zM67 20h1v1h-1zM43 21h1v1h-1zM24 22h1v1h-1zM12 24h1v1h-1zM47 25h1v1h-1zM72 25h1v1h-1zM48 26h1v1h-1zM29 27h1v1h-1zM74 27h1v1h-1zM30 28h1v1h-1zM17 29h1v1h-1zM8 30h1v1h-1zM52 30h1v1h-1zM53 31h1v1h-1zM0 32h1v1h-1zM34 32h1v1h-1zM11 33h1v1h-1zM35 33h1v1h-1zM22 34h1v1h-1zM46 34h1v1h-1zM13 35h1v1h-1zM57 35h1v1h-1zM58 36h1v1h-1zM5 37h1v1h-1zM49 37h1v1h-1zM40 38h1v1h-1zM28 40h1v1h-1zM62 40h1v1h-1zM9 41h1v1h-1zM64 42h1v1h-1zM45 43h1v1h-1zM33 45h1v1h-1zM14 46h1v1h-1zM68 46h1v1h-1zM69 47h1v1h-1zM16 48h1v1h-1zM50 48h1v1h-1zM51 49h1v1h-1zM38 50h1v1h-1zM62 50h1v1h-1zM29 51h1v1h-1zM73 51h1v1h-1zM74 52h1v1h-1zM21 53h1v1h-1zM32 54h1v1h-1zM56 54h1v1h-1zM67 55h1v1h-1zM78 56h1v1h-1zM25 57h1v1h-1zM26 58h1v1h-1zM70 58h1v1h-1zM61 59h1v1h-1zM49 61h1v1h-1zM30 62h1v1h-1zM6 63h1v1h-1zM66 64h1v1h-1zM54 66h1v1h-1zM10 67h1v1h-1zM35 67h1v1h-1zM11 68h1v1h-1zM37 69h1v1h-1zM71 69h1v1h-1zM48 70h1v1h-1zM72 70h1v1h-1zM4 71h1v1h-1zM59 71h1v1h-1zM15 72h1v1h-1zM50 72h1v1h-1zM16 73h1v1h-1zM7 74h1v1h-1zM42 74h1v1h-1zM53 75h1v1h-1zM77 75h1v1h-1zM9 76h1v1h-1zM20 77h1v1h-1zM46 78h1v1h-1z"/><path fill="#ffaaaa" d="M2 0h1v1h-1zM47 0h1v1h-1zM58 1h1v1h-1zM4 2h1v1h-1zM69 2h1v1h-1zM15 3h1v1h-1zM26 4h1v1h-1zM61 4h1v1h-1zM17 5h1v1h-1zM52 5h1v1h-1zM63 6h1v1h-1zM9 7h1v1h-1zM74 7h1v1h-1zM20 8h1v1h-1zM76 9h1v1h-1zM22 10h1v1h-1zM57 10h1v1h-1zM2 14h1v1h-1zM62 15h1v1h-1zM18 16h1v1h-1zM74 17h1v1h-1zM6 18h1v1h-1zM7 19h1v1h-1zM42 20h1v1h-1zM77 20h1v1h-1zM23 21h1v1h-1zM33 21h1v1h-1zM68 21h1v1h-1zM0 22h1v1h-1zM11 23h1v1h-1zM25 23h1v1h-1zM36 24h1v1h-1zM3 25h1v1h-1zM38 26h1v1h-1zM73 26h1v1h-1zM41 29h1v1h-1zM18 30h1v1h-1zM43 31h1v1h-1zM78 31h1v1h-1zM23 35h1v1h-1zM4 36h1v1h-1zM39 37h1v1h-1zM16 38h1v1h-1zM27 39h1v1h-1zM52 40h1v1h-1zM19 41h1v1h-1zM63 41h1v1h-1zM10 42h1v1h-1zM54 42h1v1h-1zM21 43h1v1h-1zM32 44h1v1h-1zM46 44h1v1h-1zM57 45h1v1h-1zM24 46h1v1h-1zM15 47h1v1h-1zM59 47h1v1h-1zM39 51h1v1h-1zM20 52h1v1h-1zM55 53h1v1h-1zM43 55h1v1h-1zM44 56h1v1h-1zM0 57h1v1h-1zM60 58h1v1h-1zM37 59h1v1h-1zM48 60h1v1h-1zM62 60h1v1h-1zM73 61h1v1h-1zM5 62h1v1h-1zM40 62h1v1h-1zM31 63h1v1h-1zM75 63h1v1h-1zM42 64h1v1h-1zM53 65h1v1h-1zM67 65h1v1h-1zM78 66h1v1h-1zM45 67h1v1h-1zM1 68h1v1h-1zM36 68h1v1h-1zM60 72h1v1h-1zM41 73h1v1h-1zM76 74h1v1h-1zM64 76h1v1h-1zM65 77h1v1h-1zM21 78h1v1h-1z"/><path fill="#ff9f9f" d="M57 0h1v1h-1zM72 1h1v1h-1zM1 3h1v1h-1zM16 4h1v1h-1zM71 4h1v1h-1zM7 5h1v1h-1zM62 5h1v1h-1zM77 6h1v1h-1zM6 8h1v1h-1zM21 9h1v1h-1zM12 10h1v1h-1zM67 10h1v1h-1zM3 11h1v1h-1zM68 11h1v1h-1zM0 12h1v1h-1zM15 13h1v1h-1zM26 14h1v1h-1zM27 15h1v1h-1zM72 15h1v1h-1zM8 16h1v1h-1zM73 16h1v1h-1zM9 17h1v1h-1zM20 18h1v1h-1zM17 19h1v1h-1zM31 19h1v1h-1zM8 20h1v1h-1zM32 20h1v1h-1zM78 21h1v1h-1zM14 22h1v1h-1zM22 24h1v1h-1zM13 25h1v1h-1zM37 25h1v1h-1zM4 26h1v1h-1zM28 26h1v1h-1zM5 27h1v1h-1zM19 27h1v1h-1zM16 28h1v1h-1zM27 29h1v1h-1zM42 30h1v1h-1zM9 31h1v1h-1zM10 32h1v1h-1zM24 32h1v1h-1zM21 33h1v1h-1zM25 33h1v1h-1zM36 34h1v1h-1zM33 35h1v1h-1zM47 35h1v1h-1zM14 36h1v1h-1zM48 36h1v1h-1zM15 37h1v1h-1zM29 37h1v1h-1zM30 38h1v1h-1zM41 39h1v1h-1zM38 40h1v1h-1zM29 41h1v1h-1zM53 41h1v1h-1zM20 42h1v1h-1zM44 42h1v1h-1zM35 43h1v1h-1zM43 45h1v1h-1zM34 46h1v1h-1zM58 46h1v1h-1zM25 47h1v1h-1zM49 47h1v1h-1zM26 48h1v1h-1zM40 48h1v1h-1zM37 49h1v1h-1zM48 50h1v1h-1zM63 51h1v1h-1zM30 52h1v1h-1zM64 52h1v1h-1zM31 53h1v1h-1zM45 53h1v1h-1zM42 54h1v1h-1zM46 54h1v1h-1zM57 55h1v1h-1zM54 56h1v1h-1zM68 56h1v1h-1zM35 57h1v1h-1zM69 57h1v1h-1zM36 58h1v1h-1zM51 59h1v1h-1zM59 61h1v1h-1zM50 62h1v1h-1zM74 62h1v1h-1zM41 63h1v1h-1zM65 63h1v1h-1zM56 64h1v1h-1zM64 66h1v1h-1zM0 67h1v1h-1zM55 67h1v1h-1zM46 68h1v1h-1zM70 68h1v1h-1zM47 69h1v1h-1zM61 69h1v1h-1zM58 70h1v1h-1zM73 71h1v1h-1zM5 72h1v1h-1zM6 73h1v1h-1zM51 73h1v1h-1zM52 74h1v1h-1zM66 74h1v1h-1zM67 75h1v1h-1zM78 76h1v1h-1zM10 77h1v1h-1zM75 77h1v1h-1zM11 78h1v1h-1zM56 78h1v1h-1z"/><path fill="#ff9595" d="M71 0h1v1h-1zM68 1h1v1h-1zM0 2h1v1h-1zM5 3h1v1h-1zM2 4h1v1h-1zM6 4h1v1h-1zM76 5h1v1h-1zM73 6h1v1h-1zM78 7h1v1h-1zM10 8h1v1h-1zM7 9h1v1h-1zM11 9h1v1h-1zM77 10h1v1h-1zM4 12h1v1h-1zM11 13h1v1h-1zM12 14h1v1h-1zM16 14h1v1h-1zM3 15h1v1h-1zM17 15h1v1h-1zM5 17h1v1h-1zM16 18h1v1h-1zM21 19h1v1h-1zM22 20h1v1h-1zM13 21h1v1h-1zM10 22h1v1h-1zM15 23h1v1h-1zM21 23h1v1h-1zM26 24h1v1h-1zM23 25h1v1h-1zM27 25h1v1h-1zM18 26h1v1h-1zM15 27h1v1h-1zM20 28h1v1h-1zM31 29h1v1h-1zM28 30h1v1h-1zM19 31h1v1h-1zM33 31h1v1h-1zM32 34h1v1h-1zM37 35h1v1h-1zM24 36h1v1h-1zM38 36h1v1h-1zM26 38h1v1h-1zM37 39h1v1h-1zM42 40h1v1h-1zM39 41h1v1h-1zM43 41h1v1h-1zM34 42h1v1h-1zM31 43h1v1h-1zM36 44h1v1h-1zM42 44h1v1h-1zM47 45h1v1h-1zM44 46h1v1h-1zM48 46h1v1h-1zM35 47h1v1h-1zM39 47h1v1h-1zM36 48h1v1h-1zM41 49h1v1h-1zM52 50h1v1h-1zM49 51h1v1h-1zM40 52h1v1h-1zM54 52h1v1h-1zM53 55h1v1h-1zM58 56h1v1h-1zM45 57h1v1h-1zM59 57h1v1h-1zM50 58h1v1h-1zM47 59h1v1h-1zM58 60h1v1h-1zM63 61h1v1h-1zM60 62h1v1h-1zM64 62h1v1h-1zM55 63h1v1h-1zM52 64h1v1h-1zM57 65h1v1h-1zM68 66h1v1h-1zM65 67h1v1h-1zM69 67h1v1h-1zM56 68h1v1h-1zM60 68h1v1h-1zM62 70h1v1h-1zM69 71h1v1h-1zM70 72h1v1h-1zM74 72h1v1h-1zM61 73h1v1h-1zM75 73h1v1h-1zM63 75h1v1h-1zM74 76h1v1h-1zM0 77h1v1h-1zM1 78h1v1h-1zM66 78h1v1h-1z"/><path fill="#ff8a8a" d="M61 0h1v1h-1zM67 0h1v1h-1zM62 1h1v1h-1zM73 2h1v1h-1zM11 3h1v1h-1zM66 5h1v1h-1zM72 5h1v1h-1zM67 6h1v1h-1zM5 7h1v1h-1zM16 8h1v1h-1zM17 9h1v1h-1zM2 10h1v1h-1zM72 11h1v1h-1zM78 11h1v1h-1zM10 12h1v1h-1zM5 13h1v1h-1zM22 14h1v1h-1zM7 15h1v1h-1zM13 15h1v1h-1zM4 16h1v1h-1zM77 16h1v1h-1zM78 17h1v1h-1zM10 18h1v1h-1zM27 19h1v1h-1zM18 20h1v1h-1zM3 21h1v1h-1zM9 21h1v1h-1zM4 22h1v1h-1zM32 24h1v1h-1zM14 26h1v1h-1zM9 27h1v1h-1zM26 28h1v1h-1zM37 29h1v1h-1zM32 30h1v1h-1zM38 30h1v1h-1zM23 31h1v1h-1zM14 32h1v1h-1zM20 32h1v1h-1zM31 33h1v1h-1zM26 34h1v1h-1zM43 35h1v1h-1zM28 36h1v1h-1zM34 36h1v1h-1zM19 37h1v1h-1zM25 37h1v1h-1zM20 38h1v1h-1zM31 39h1v1h-1zM48 40h1v1h-1zM24 42h1v1h-1zM30 42h1v1h-1zM25 43h1v1h-1zM53 45h1v1h-1zM54 46h1v1h-1zM30 48h1v1h-1zM47 49h1v1h-1zM53 51h1v1h-1zM59 51h1v1h-1zM44 52h1v1h-1zM50 52h1v1h-1zM35 53h1v1h-1zM41 53h1v1h-1zM47 55h1v1h-1zM64 56h1v1h-1zM49 57h1v1h-1zM55 57h1v1h-1zM40 58h1v1h-1zM46 58h1v1h-1zM41 59h1v1h-1zM52 60h1v1h-1zM69 61h1v1h-1zM45 63h1v1h-1zM51 63h1v1h-1zM46 64h1v1h-1zM63 65h1v1h-1zM74 66h1v1h-1zM75 67h1v1h-1zM51 69h1v1h-1zM57 69h1v1h-1zM68 70h1v1h-1zM1 72h1v1h-1zM65 73h1v1h-1zM71 73h1v1h-1zM56 74h1v1h-1zM62 74h1v1h-1zM57 75h1v1h-1zM68 76h1v1h-1zM6 77h1v1h-1zM70 78h1v1h-1zM76 78h1v1h-1z"/><path fill="#ff8080" d="M77 0h1v1h-1zM78 1h1v1h-1zM74 3h1v1h-1zM12 4h1v1h-1zM75 4h1v1h-1zM3 5h1v1h-1zM4 6h1v1h-1zM68 7h1v1h-1zM0 8h1v1h-1zM1 9h1v1h-1zM8 10h1v1h-1zM71 10h1v1h-1zM9 11h1v1h-1zM73 12h1v1h-1zM21 13h1v1h-1zM6 14h1v1h-1zM23 15h1v1h-1zM76 15h1v1h-1zM14 16h1v1h-1zM15 17h1v1h-1zM26 18h1v1h-1zM11 19h1v1h-1zM12 20h1v1h-1zM28 20h1v1h-1zM19 21h1v1h-1zM20 22h1v1h-1zM16 24h1v1h-1zM17 25h1v1h-1zM33 25h1v1h-1zM8 26h1v1h-1zM24 26h1v1h-1zM25 27h1v1h-1zM10 28h1v1h-1zM21 29h1v1h-1zM22 30h1v1h-1zM13 31h1v1h-1zM29 31h1v1h-1zM30 32h1v1h-1zM15 33h1v1h-1zM42 34h1v1h-1zM27 35h1v1h-1zM44 36h1v1h-1zM35 37h1v1h-1zM36 38h1v1h-1zM47 39h1v1h-1zM32 40h1v1h-1zM33 41h1v1h-1zM49 41h1v1h-1zM40 42h1v1h-1zM41 43h1v1h-1zM37 45h1v1h-1zM38 46h1v1h-1zM29 47h1v1h-1zM45 47h1v1h-1zM46 48h1v1h-1zM31 49h1v1h-1zM42 50h1v1h-1zM58 50h1v1h-1zM43 51h1v1h-1zM34 52h1v1h-1zM51 53h1v1h-1zM36 54h1v1h-1zM52 54h1v1h-1zM63 55h1v1h-1zM48 56h1v1h-1zM65 57h1v1h-1zM56 58h1v1h-1zM57 59h1v1h-1zM68 60h1v1h-1zM53 61h1v1h-1zM54 62h1v1h-1zM70 62h1v1h-1zM61 63h1v1h-1zM62 64h1v1h-1zM47 65h1v1h-1zM58 66h1v1h-1zM59 67h1v1h-1zM50 68h1v1h-1zM66 68h1v1h-1zM67 69h1v1h-1zM52 70h1v1h-1zM0 71h1v1h-1zM63 71h1v1h-1zM64 72h1v1h-1zM55 73h1v1h-1zM72 74h1v1h-1zM73 75h1v1h-1zM5 76h1v1h-1zM69 77h1v1h-1zM7 78h1v1h-1z"/><path fill="#ff7575" d="M51 0h1v1h-1zM52 1h1v1h-1zM10 2h1v1h-1zM63 2h1v1h-1zM21 3h1v1h-1zM22 4h1v1h-1zM65 4h1v1h-1zM13 5h1v1h-1zM56 5h1v1h-1zM57 6h1v1h-1zM15 7h1v1h-1zM26 8h1v1h-1zM27 9h1v1h-1zM18 10h1v1h-1zM61 10h1v1h-1zM62 11h1v1h-1zM32 14h1v1h-1zM67 16h1v1h-1zM0 18h1v1h-1zM37 19h1v1h-1zM2 20h1v1h-1zM38 20h1v1h-1zM72 21h1v1h-1zM73 22h1v1h-1zM5 23h1v1h-1zM31 23h1v1h-1zM42 24h1v1h-1zM7 25h1v1h-1zM43 25h1v1h-1zM34 26h1v1h-1zM77 26h1v1h-1zM78 27h1v1h-1zM36 28h1v1h-1zM48 30h1v1h-1zM3 31h1v1h-1zM39 31h1v1h-1zM4 32h1v1h-1zM53 35h1v1h-1zM18 36h1v1h-1zM9 37h1v1h-1zM10 38h1v1h-1zM21 39h1v1h-1zM58 40h1v1h-1zM23 41h1v1h-1zM59 41h1v1h-1zM14 42h1v1h-1zM15 43h1v1h-1zM26 44h1v1h-1zM52 44h1v1h-1zM63 45h1v1h-1zM28 46h1v1h-1zM64 46h1v1h-1zM19 47h1v1h-1zM55 47h1v1h-1zM20 48h1v1h-1zM57 49h1v1h-1zM69 51h1v1h-1zM24 52h1v1h-1zM60 52h1v1h-1zM25 53h1v1h-1zM37 55h1v1h-1zM74 56h1v1h-1zM39 57h1v1h-1zM75 57h1v1h-1zM30 58h1v1h-1zM31 59h1v1h-1zM42 60h1v1h-1zM0 61h1v1h-1zM1 62h1v1h-1zM44 62h1v1h-1zM35 63h1v1h-1zM36 64h1v1h-1zM73 65h1v1h-1zM5 66h1v1h-1zM6 67h1v1h-1zM40 68h1v1h-1zM76 68h1v1h-1zM41 69h1v1h-1zM11 72h1v1h-1zM2 73h1v1h-1zM45 73h1v1h-1zM46 74h1v1h-1zM58 76h1v1h-1zM16 77h1v1h-1zM17 78h1v1h-1zM60 78h1v1h-1z"/><path fill="#ff6a6a" d="M8 0h1v1h-1zM41 0h1v1h-1zM9 1h1v1h-1zM64 3h1v1h-1zM46 5h1v1h-1zM14 6h1v1h-1zM69 8h1v1h-1zM37 9h1v1h-1zM70 9h1v1h-1zM28 10h1v1h-1zM51 10h1v1h-1zM19 11h1v1h-1zM20 12h1v1h-1zM63 12h1v1h-1zM31 13h1v1h-1zM74 13h1v1h-1zM75 14h1v1h-1zM33 15h1v1h-1zM66 15h1v1h-1zM24 16h1v1h-1zM57 16h1v1h-1zM25 17h1v1h-1zM68 17h1v1h-1zM36 18h1v1h-1zM1 19h1v1h-1zM71 20h1v1h-1zM29 21h1v1h-1zM62 21h1v1h-1zM30 22h1v1h-1zM6 24h1v1h-1zM53 25h1v1h-1zM67 26h1v1h-1zM35 27h1v1h-1zM11 29h1v1h-1zM47 29h1v1h-1zM12 30h1v1h-1zM58 30h1v1h-1zM49 31h1v1h-1zM40 32h1v1h-1zM73 32h1v1h-1zM5 33h1v1h-1zM41 33h1v1h-1zM16 34h1v1h-1zM52 34h1v1h-1zM17 35h1v1h-1zM8 36h1v1h-1zM54 36h1v1h-1zM45 37h1v1h-1zM78 37h1v1h-1zM46 38h1v1h-1zM22 40h1v1h-1zM13 41h1v1h-1zM4 42h1v1h-1zM50 42h1v1h-1zM51 43h1v1h-1zM27 45h1v1h-1zM74 46h1v1h-1zM9 47h1v1h-1zM65 47h1v1h-1zM56 48h1v1h-1zM21 49h1v1h-1zM32 50h1v1h-1zM68 50h1v1h-1zM33 51h1v1h-1zM70 52h1v1h-1zM15 53h1v1h-1zM61 53h1v1h-1zM26 54h1v1h-1zM62 54h1v1h-1zM73 55h1v1h-1zM38 56h1v1h-1zM29 57h1v1h-1zM20 58h1v1h-1zM66 58h1v1h-1zM67 59h1v1h-1zM43 61h1v1h-1zM34 62h1v1h-1zM25 63h1v1h-1zM71 63h1v1h-1zM72 64h1v1h-1zM48 66h1v1h-1zM16 67h1v1h-1zM49 67h1v1h-1zM7 68h1v1h-1zM30 68h1v1h-1zM77 69h1v1h-1zM42 70h1v1h-1zM78 70h1v1h-1zM10 71h1v1h-1zM53 71h1v1h-1zM54 72h1v1h-1zM12 73h1v1h-1zM3 74h1v1h-1zM36 74h1v1h-1zM4 75h1v1h-1zM47 75h1v1h-1zM15 76h1v1h-1zM59 77h1v1h-1zM50 78h1v1h-1z"/><path fill="#ff6060" d="M18 0h1v1h-1zM42 1h1v1h-1zM20 2h1v1h-1zM53 2h1v1h-1zM31 3h1v1h-1zM32 4h1v1h-1zM55 4h1v1h-1zM23 5h1v1h-1zM47 6h1v1h-1zM58 7h1v1h-1zM36 8h1v1h-1zM60 9h1v1h-1zM38 10h1v1h-1zM52 11h1v1h-1zM42 14h1v1h-1zM43 15h1v1h-1zM56 15h1v1h-1zM47 19h1v1h-1zM48 20h1v1h-1zM61 20h1v1h-1zM39 21h1v1h-1zM63 22h1v1h-1zM41 23h1v1h-1zM74 23h1v1h-1zM52 24h1v1h-1zM76 25h1v1h-1zM44 26h1v1h-1zM68 27h1v1h-1zM0 28h1v1h-1zM2 30h1v1h-1zM59 31h1v1h-1zM72 31h1v1h-1zM63 35h1v1h-1zM64 36h1v1h-1zM77 36h1v1h-1zM11 39h1v1h-1zM57 39h1v1h-1zM68 40h1v1h-1zM3 41h1v1h-1zM69 41h1v1h-1zM60 42h1v1h-1zM5 43h1v1h-1zM16 44h1v1h-1zM62 44h1v1h-1zM73 45h1v1h-1zM18 46h1v1h-1zM75 47h1v1h-1zM10 48h1v1h-1zM0 51h1v1h-1zM23 51h1v1h-1zM1 52h1v1h-1zM14 52h1v1h-1zM5 56h1v1h-1zM6 57h1v1h-1zM19 57h1v1h-1zM76 58h1v1h-1zM21 59h1v1h-1zM32 60h1v1h-1zM78 60h1v1h-1zM10 61h1v1h-1zM11 62h1v1h-1zM24 62h1v1h-1zM2 63h1v1h-1zM26 64h1v1h-1zM4 65h1v1h-1zM37 65h1v1h-1zM15 66h1v1h-1zM39 67h1v1h-1zM17 68h1v1h-1zM31 69h1v1h-1zM21 72h1v1h-1zM44 72h1v1h-1zM22 73h1v1h-1zM35 73h1v1h-1zM26 77h1v1h-1zM27 78h1v1h-1zM40 78h1v1h-1z"/><path fill="#ff5555" d="M28 0h1v1h-1zM31 0h1v1h-1zM19 1h1v1h-1zM54 3h1v1h-1zM42 4h1v1h-1zM45 4h1v1h-1zM33 5h1v1h-1zM36 5h1v1h-1zM24 6h1v1h-1zM25 7h1v1h-1zM59 8h1v1h-1zM47 9h1v1h-1zM50 9h1v1h-1zM41 10h1v1h-1zM48 10h1v1h-1zM29 11h1v1h-1zM42 11h1v1h-1zM30 12h1v1h-1zM53 12h1v1h-1zM41 13h1v1h-1zM64 13h1v1h-1zM52 14h1v1h-1zM65 14h1v1h-1zM46 15h1v1h-1zM53 15h1v1h-1zM34 16h1v1h-1zM47 16h1v1h-1zM35 17h1v1h-1zM58 17h1v1h-1zM69 18h1v1h-1zM70 19h1v1h-1zM51 20h1v1h-1zM58 20h1v1h-1zM49 21h1v1h-1zM52 21h1v1h-1zM40 22h1v1h-1zM75 24h1v1h-1zM63 25h1v1h-1zM66 25h1v1h-1zM54 26h1v1h-1zM57 26h1v1h-1zM45 27h1v1h-1zM46 28h1v1h-1zM1 29h1v1h-1zM57 29h1v1h-1zM68 30h1v1h-1zM71 30h1v1h-1zM62 31h1v1h-1zM69 31h1v1h-1zM50 32h1v1h-1zM63 32h1v1h-1zM51 33h1v1h-1zM74 33h1v1h-1zM6 34h1v1h-1zM62 34h1v1h-1zM7 35h1v1h-1zM73 35h1v1h-1zM67 36h1v1h-1zM74 36h1v1h-1zM55 37h1v1h-1zM68 37h1v1h-1zM0 38h1v1h-1zM56 38h1v1h-1zM12 40h1v1h-1zM0 41h1v1h-1zM72 41h1v1h-1zM70 42h1v1h-1zM73 42h1v1h-1zM61 43h1v1h-1zM17 45h1v1h-1zM5 46h1v1h-1zM8 46h1v1h-1zM6 47h1v1h-1zM78 47h1v1h-1zM66 48h1v1h-1zM67 49h1v1h-1zM22 50h1v1h-1zM78 50h1v1h-1zM10 51h1v1h-1zM4 52h1v1h-1zM11 52h1v1h-1zM5 53h1v1h-1zM71 53h1v1h-1zM16 54h1v1h-1zM72 54h1v1h-1zM4 55h1v1h-1zM27 55h1v1h-1zM15 56h1v1h-1zM28 56h1v1h-1zM9 57h1v1h-1zM16 57h1v1h-1zM7 58h1v1h-1zM10 58h1v1h-1zM77 59h1v1h-1zM33 61h1v1h-1zM14 62h1v1h-1zM21 62h1v1h-1zM12 63h1v1h-1zM15 63h1v1h-1zM3 64h1v1h-1zM38 66h1v1h-1zM26 67h1v1h-1zM29 67h1v1h-1zM20 68h1v1h-1zM27 68h1v1h-1zM8 69h1v1h-1zM21 69h1v1h-1zM9 70h1v1h-1zM32 70h1v1h-1zM20 71h1v1h-1zM43 71h1v1h-1zM31 72h1v1h-1zM25 73h1v1h-1zM32 73h1v1h-1zM13 74h1v1h-1zM26 74h1v1h-1zM14 75h1v1h-1zM37 75h1v1h-1zM48 76h1v1h-1zM49 77h1v1h-1zM30 78h1v1h-1zM37 78h1v1h-1z"/><path fill="#ff4a4a" d="M21 0h1v1h-1zM38 0h1v1h-1zM32 1h1v1h-1zM30 2h1v1h-1zM41 3h1v1h-1zM35 4h1v1h-1zM52 4h1v1h-1zM26 5h1v1h-1zM43 5h1v1h-1zM37 6h1v1h-1zM48 7h1v1h-1zM40 9h1v1h-1zM31 10h1v1h-1zM58 10h1v1h-1zM55 14h1v1h-1zM36 15h1v1h-1zM63 15h1v1h-1zM44 16h1v1h-1zM46 18h1v1h-1zM57 19h1v1h-1zM41 20h1v1h-1zM68 20h1v1h-1zM42 21h1v1h-1zM59 21h1v1h-1zM53 22h1v1h-1zM62 24h1v1h-1zM56 25h1v1h-1zM73 25h1v1h-1zM47 26h1v1h-1zM64 26h1v1h-1zM58 27h1v1h-1zM69 28h1v1h-1zM61 30h1v1h-1zM0 31h1v1h-1zM52 31h1v1h-1zM60 32h1v1h-1zM76 35h1v1h-1zM5 36h1v1h-1zM57 36h1v1h-1zM65 37h1v1h-1zM75 37h1v1h-1zM67 39h1v1h-1zM78 40h1v1h-1zM10 41h1v1h-1zM62 41h1v1h-1zM1 42h1v1h-1zM63 42h1v1h-1zM74 43h1v1h-1zM6 44h1v1h-1zM4 45h1v1h-1zM15 46h1v1h-1zM77 46h1v1h-1zM68 47h1v1h-1zM0 48h1v1h-1zM11 49h1v1h-1zM3 51h1v1h-1zM13 51h1v1h-1zM21 52h1v1h-1zM73 52h1v1h-1zM2 53h1v1h-1zM18 56h1v1h-1zM26 57h1v1h-1zM78 57h1v1h-1zM17 58h1v1h-1zM11 59h1v1h-1zM9 60h1v1h-1zM20 61h1v1h-1zM4 62h1v1h-1zM31 62h1v1h-1zM5 63h1v1h-1zM22 63h1v1h-1zM16 64h1v1h-1zM27 65h1v1h-1zM25 66h1v1h-1zM19 67h1v1h-1zM10 68h1v1h-1zM37 68h1v1h-1zM34 72h1v1h-1zM15 73h1v1h-1zM42 73h1v1h-1zM23 74h1v1h-1zM25 76h1v1h-1zM36 77h1v1h-1zM20 78h1v1h-1zM47 78h1v1h-1z"/><path fill="#ff4040" d="M48 0h1v1h-1zM29 1h1v1h-1zM43 2h1v1h-1zM44 3h1v1h-1zM25 4h1v1h-1zM53 5h1v1h-1zM34 6h1v1h-1zM35 7h1v1h-1zM46 8h1v1h-1zM49 8h1v1h-1zM30 9h1v1h-1zM57 9h1v1h-1zM21 10h1v1h-1zM32 11h1v1h-1zM39 11h1v1h-1zM49 11h1v1h-1zM40 12h1v1h-1zM51 13h1v1h-1zM54 13h1v1h-1zM35 14h1v1h-1zM45 14h1v1h-1zM62 14h1v1h-1zM26 15h1v1h-1zM37 16h1v1h-1zM54 16h1v1h-1zM64 16h1v1h-1zM45 17h1v1h-1zM48 17h1v1h-1zM59 18h1v1h-1zM50 19h1v1h-1zM60 19h1v1h-1zM67 19h1v1h-1zM31 20h1v1h-1zM69 21h1v1h-1zM50 22h1v1h-1zM51 23h1v1h-1zM64 23h1v1h-1zM65 24h1v1h-1zM46 25h1v1h-1zM74 26h1v1h-1zM48 27h1v1h-1zM55 27h1v1h-1zM56 28h1v1h-1zM67 29h1v1h-1zM70 29h1v1h-1zM51 30h1v1h-1zM78 30h1v1h-1zM42 31h1v1h-1zM53 32h1v1h-1zM70 32h1v1h-1zM61 33h1v1h-1zM64 33h1v1h-1zM72 34h1v1h-1zM75 34h1v1h-1zM4 35h1v1h-1zM66 35h1v1h-1zM47 36h1v1h-1zM6 37h1v1h-1zM58 37h1v1h-1zM66 38h1v1h-1zM69 38h1v1h-1zM1 39h1v1h-1zM2 40h1v1h-1zM52 41h1v1h-1zM11 42h1v1h-1zM71 43h1v1h-1zM72 44h1v1h-1zM7 45h1v1h-1zM67 46h1v1h-1zM16 47h1v1h-1zM69 48h1v1h-1zM76 48h1v1h-1zM77 49h1v1h-1zM9 50h1v1h-1zM12 50h1v1h-1zM20 51h1v1h-1zM72 51h1v1h-1zM63 52h1v1h-1zM12 53h1v1h-1zM74 53h1v1h-1zM3 54h1v1h-1zM6 54h1v1h-1zM17 55h1v1h-1zM8 56h1v1h-1zM25 56h1v1h-1zM68 57h1v1h-1zM0 58h1v1h-1zM27 58h1v1h-1zM8 59h1v1h-1zM22 60h1v1h-1zM23 61h1v1h-1zM73 62h1v1h-1zM32 63h1v1h-1zM13 64h1v1h-1zM14 65h1v1h-1zM28 66h1v1h-1zM9 67h1v1h-1zM36 67h1v1h-1zM11 69h1v1h-1zM18 69h1v1h-1zM19 70h1v1h-1zM30 71h1v1h-1zM33 71h1v1h-1zM14 72h1v1h-1zM24 72h1v1h-1zM41 72h1v1h-1zM5 73h1v1h-1zM16 74h1v1h-1zM33 74h1v1h-1zM24 75h1v1h-1zM27 75h1v1h-1zM38 76h1v1h-1zM29 77h1v1h-1zM39 77h1v1h-1zM46 77h1v1h-1zM10 78h1v1h-1z"/><path fill="#ff3535" d="M11 0h1v1h-1zM58 0h1v1h-1zM22 1h1v1h-1zM34 3h1v1h-1zM51 3h1v1h-1zM15 4h1v1h-1zM62 4h1v1h-1zM16 5h1v1h-1zM63 5h1v1h-1zM27 6h1v1h-1zM44 6h1v1h-1zM38 7h1v1h-1zM20 9h1v1h-1zM67 9h1v1h-1zM68 10h1v1h-1zM59 11h1v1h-1zM43 12h1v1h-1zM25 14h1v1h-1zM73 15h1v1h-1zM27 16h1v1h-1zM74 16h1v1h-1zM56 18h1v1h-1zM40 19h1v1h-1zM21 20h1v1h-1zM78 20h1v1h-1zM0 21h1v1h-1zM32 21h1v1h-1zM43 22h1v1h-1zM55 24h1v1h-1zM72 24h1v1h-1zM4 25h1v1h-1zM36 25h1v1h-1zM5 26h1v1h-1zM37 26h1v1h-1zM65 27h1v1h-1zM75 27h1v1h-1zM59 28h1v1h-1zM9 30h1v1h-1zM41 30h1v1h-1zM10 31h1v1h-1zM1 32h1v1h-1zM11 32h1v1h-1zM46 35h1v1h-1zM56 35h1v1h-1zM15 36h1v1h-1zM16 37h1v1h-1zM48 37h1v1h-1zM77 39h1v1h-1zM9 40h1v1h-1zM61 40h1v1h-1zM71 40h1v1h-1zM20 41h1v1h-1zM42 41h1v1h-1zM21 42h1v1h-1zM53 42h1v1h-1zM64 43h1v1h-1zM14 45h1v1h-1zM25 46h1v1h-1zM57 46h1v1h-1zM26 47h1v1h-1zM58 47h1v1h-1zM7 48h1v1h-1zM17 48h1v1h-1zM1 49h1v1h-1zM30 51h1v1h-1zM62 51h1v1h-1zM31 52h1v1h-1zM22 53h1v1h-1zM32 53h1v1h-1zM14 55h1v1h-1zM67 56h1v1h-1zM77 56h1v1h-1zM36 57h1v1h-1zM37 58h1v1h-1zM69 58h1v1h-1zM19 60h1v1h-1zM3 61h1v1h-1zM13 61h1v1h-1zM30 61h1v1h-1zM41 62h1v1h-1zM63 62h1v1h-1zM42 63h1v1h-1zM74 63h1v1h-1zM6 64h1v1h-1zM23 64h1v1h-1zM35 66h1v1h-1zM46 67h1v1h-1zM78 67h1v1h-1zM0 68h1v1h-1zM47 68h1v1h-1zM28 69h1v1h-1zM38 69h1v1h-1zM22 70h1v1h-1zM4 72h1v1h-1zM52 73h1v1h-1zM6 74h1v1h-1zM43 74h1v1h-1zM53 74h1v1h-1zM35 76h1v1h-1zM19 77h1v1h-1zM57 78h1v1h-1z"/><path fill="#ff2a2a" d="M68 0h1v1h-1zM39 1h1v1h-1zM49 1h1v1h-1zM33 2h1v1h-1zM40 2h1v1h-1zM14 3h1v1h-1zM24 3h1v1h-1zM5 4h1v1h-1zM72 4h1v1h-1zM74 4h1v1h-1zM6 5h1v1h-1zM73 5h1v1h-1zM54 6h1v1h-1zM64 6h1v1h-1zM45 7h1v1h-1zM29 8h1v1h-1zM39 8h1v1h-1zM56 8h1v1h-1zM10 9h1v1h-1zM11 10h1v1h-1zM78 10h1v1h-1zM0 11h1v1h-1zM22 11h1v1h-1zM69 11h1v1h-1zM50 12h1v1h-1zM44 13h1v1h-1zM61 13h1v1h-1zM15 14h1v1h-1zM72 14h1v1h-1zM4 15h1v1h-1zM16 15h1v1h-1zM5 16h1v1h-1zM38 17h1v1h-1zM55 17h1v1h-1zM49 18h1v1h-1zM20 19h1v1h-1zM30 19h1v1h-1zM77 19h1v1h-1zM9 20h1v1h-1zM10 21h1v1h-1zM22 21h1v1h-1zM60 22h1v1h-1zM70 22h1v1h-1zM54 23h1v1h-1zM61 23h1v1h-1zM35 24h1v1h-1zM45 24h1v1h-1zM14 25h1v1h-1zM16 25h1v1h-1zM26 25h1v1h-1zM15 26h1v1h-1zM27 26h1v1h-1zM6 27h1v1h-1zM38 27h1v1h-1zM66 28h1v1h-1zM60 29h1v1h-1zM77 29h1v1h-1zM31 30h1v1h-1zM20 31h1v1h-1zM32 31h1v1h-1zM21 32h1v1h-1zM43 32h1v1h-1zM71 33h1v1h-1zM65 34h1v1h-1zM14 35h1v1h-1zM36 35h1v1h-1zM25 36h1v1h-1zM37 36h1v1h-1zM26 37h1v1h-1zM59 38h1v1h-1zM76 38h1v1h-1zM70 39h1v1h-1zM19 40h1v1h-1zM41 40h1v1h-1zM51 40h1v1h-1zM30 41h1v1h-1zM31 42h1v1h-1zM43 42h1v1h-1zM2 43h1v1h-1zM12 43h1v1h-1zM3 44h1v1h-1zM75 44h1v1h-1zM56 45h1v1h-1zM66 45h1v1h-1zM76 45h1v1h-1zM37 46h1v1h-1zM47 46h1v1h-1zM36 47h1v1h-1zM48 47h1v1h-1zM27 48h1v1h-1zM37 48h1v1h-1zM59 48h1v1h-1zM8 49h1v1h-1zM2 50h1v1h-1zM19 50h1v1h-1zM52 51h1v1h-1zM41 52h1v1h-1zM53 52h1v1h-1zM42 53h1v1h-1zM64 53h1v1h-1zM13 54h1v1h-1zM75 54h1v1h-1zM7 55h1v1h-1zM35 56h1v1h-1zM57 56h1v1h-1zM46 57h1v1h-1zM58 57h1v1h-1zM47 58h1v1h-1zM1 59h1v1h-1zM18 59h1v1h-1zM12 60h1v1h-1zM72 61h1v1h-1zM51 62h1v1h-1zM52 63h1v1h-1zM64 63h1v1h-1zM33 64h1v1h-1zM43 64h1v1h-1zM17 65h1v1h-1zM24 65h1v1h-1zM8 66h1v1h-1zM18 66h1v1h-1zM58 67h1v1h-1zM68 67h1v1h-1zM57 68h1v1h-1zM69 68h1v1h-1zM1 69h1v1h-1zM48 69h1v1h-1zM58 69h1v1h-1zM29 70h1v1h-1zM23 71h1v1h-1zM40 71h1v1h-1zM51 72h1v1h-1zM73 72h1v1h-1zM62 73h1v1h-1zM74 73h1v1h-1zM63 74h1v1h-1zM17 75h1v1h-1zM34 75h1v1h-1zM28 76h1v1h-1zM9 77h1v1h-1zM56 77h1v1h-1zM78 77h1v1h-1zM0 78h1v1h-1zM67 78h1v1h-1z"/><path fill="#ff2020" d="M1 0h1v1h-1zM9 0h1v1h-1zM78 0h1v1h-1zM12 1h1v1h-1zM59 1h1v1h-1zM69 1h1v1h-1zM4 3h1v1h-1zM61 3h1v1h-1zM73 3h1v1h-1zM64 4h1v1h-1zM4 5h1v1h-1zM5 6h1v1h-1zM17 6h1v1h-1zM74 6h1v1h-1zM9 8h1v1h-1zM19 8h1v1h-1zM0 9h1v1h-1zM69 9h1v1h-1zM77 9h1v1h-1zM1 10h1v1h-1zM9 10h1v1h-1zM10 11h1v1h-1zM33 12h1v1h-1zM34 13h1v1h-1zM3 14h1v1h-1zM5 14h1v1h-1zM74 14h1v1h-1zM6 15h1v1h-1zM14 15h1v1h-1zM15 16h1v1h-1zM17 16h1v1h-1zM25 16h1v1h-1zM65 17h1v1h-1zM75 17h1v1h-1zM66 18h1v1h-1zM10 19h1v1h-1zM11 20h1v1h-1zM19 20h1v1h-1zM20 21h1v1h-1zM30 21h1v1h-1zM1 22h1v1h-1zM11 22h1v1h-1zM33 22h1v1h-1zM3 24h1v1h-1zM15 24h1v1h-1zM25 24h1v1h-1zM6 25h1v1h-1zM17 26h1v1h-1zM25 26h1v1h-1zM16 27h1v1h-1zM26 27h1v1h-1zM30 29h1v1h-1zM40 29h1v1h-1zM50 29h1v1h-1zM11 30h1v1h-1zM19 30h1v1h-1zM21 30h1v1h-1zM22 31h1v1h-1zM30 31h1v1h-1zM31 32h1v1h-1zM33 32h1v1h-1zM54 33h1v1h-1zM3 34h1v1h-1zM16 35h1v1h-1zM26 35h1v1h-1zM27 36h1v1h-1zM35 36h1v1h-1zM36 37h1v1h-1zM38 37h1v1h-1zM46 37h1v1h-1zM7 38h1v1h-1zM17 38h1v1h-1zM31 40h1v1h-1zM32 41h1v1h-1zM40 41h1v1h-1zM41 42h1v1h-1zM22 43h1v1h-1zM32 43h1v1h-1zM42 43h1v1h-1zM54 43h1v1h-1zM24 45h1v1h-1zM36 45h1v1h-1zM46 45h1v1h-1zM27 46h1v1h-1zM35 46h1v1h-1zM38 47h1v1h-1zM46 47h1v1h-1zM47 48h1v1h-1zM70 49h1v1h-1zM61 50h1v1h-1zM71 50h1v1h-1zM32 51h1v1h-1zM40 51h1v1h-1zM42 51h1v1h-1zM43 52h1v1h-1zM51 52h1v1h-1zM52 53h1v1h-1zM54 53h1v1h-1zM62 53h1v1h-1zM24 55h1v1h-1zM37 56h1v1h-1zM47 56h1v1h-1zM48 57h1v1h-1zM56 57h1v1h-1zM57 58h1v1h-1zM59 58h1v1h-1zM67 58h1v1h-1zM28 59h1v1h-1zM38 59h1v1h-1zM48 59h1v1h-1zM40 61h1v1h-1zM52 61h1v1h-1zM62 61h1v1h-1zM53 62h1v1h-1zM62 63h1v1h-1zM53 64h1v1h-1zM63 64h1v1h-1zM75 64h1v1h-1zM45 66h1v1h-1zM57 66h1v1h-1zM67 66h1v1h-1zM77 66h1v1h-1zM48 67h1v1h-1zM56 67h1v1h-1zM59 68h1v1h-1zM67 68h1v1h-1zM68 69h1v1h-1zM12 70h1v1h-1zM3 71h1v1h-1zM13 71h1v1h-1zM53 72h1v1h-1zM61 72h1v1h-1zM63 72h1v1h-1zM64 73h1v1h-1zM72 73h1v1h-1zM4 74h1v1h-1zM73 74h1v1h-1zM75 74h1v1h-1zM44 75h1v1h-1zM45 76h1v1h-1zM58 77h1v1h-1zM68 77h1v1h-1zM69 78h1v1h-1zM77 78h1v1h-1z"/><path fill="#ff1515" d="M19 0h1v1h-1zM70 0h1v1h-1zM0 1h1v1h-1zM10 1h1v1h-1zM20 1h1v1h-1zM23 2h1v1h-1zM50 2h1v1h-1zM53 3h1v1h-1zM63 3h1v1h-1zM3 4h1v1h-1zM54 4h1v1h-1zM14 5h1v1h-1zM75 5h1v1h-1zM7 6h1v1h-1zM15 6h1v1h-1zM25 6h1v1h-1zM28 7h1v1h-1zM58 8h1v1h-1zM66 8h1v1h-1zM68 8h1v1h-1zM78 8h1v1h-1zM8 9h1v1h-1zM59 9h1v1h-1zM19 10h1v1h-1zM70 10h1v1h-1zM12 11h1v1h-1zM20 11h1v1h-1zM30 11h1v1h-1zM60 12h1v1h-1zM70 12h1v1h-1zM4 13h1v1h-1zM14 13h1v1h-1zM24 13h1v1h-1zM73 13h1v1h-1zM64 14h1v1h-1zM24 15h1v1h-1zM75 15h1v1h-1zM35 16h1v1h-1zM6 17h1v1h-1zM16 17h1v1h-1zM26 17h1v1h-1zM28 17h1v1h-1zM39 18h1v1h-1zM0 19h1v1h-1zM8 19h1v1h-1zM69 19h1v1h-1zM1 20h1v1h-1zM12 21h1v1h-1zM40 21h1v1h-1zM21 22h1v1h-1zM31 22h1v1h-1zM41 22h1v1h-1zM44 23h1v1h-1zM71 23h1v1h-1zM5 24h1v1h-1zM74 24h1v1h-1zM24 25h1v1h-1zM75 25h1v1h-1zM35 26h1v1h-1zM28 27h1v1h-1zM36 27h1v1h-1zM46 27h1v1h-1zM49 28h1v1h-1zM0 29h1v1h-1zM8 29h1v1h-1zM10 29h1v1h-1zM20 29h1v1h-1zM1 30h1v1h-1zM29 30h1v1h-1zM12 31h1v1h-1zM40 31h1v1h-1zM41 32h1v1h-1zM51 32h1v1h-1zM2 33h1v1h-1zM12 33h1v1h-1zM22 33h1v1h-1zM25 34h1v1h-1zM35 34h1v1h-1zM45 34h1v1h-1zM55 34h1v1h-1zM6 35h1v1h-1zM24 35h1v1h-1zM17 36h1v1h-1zM45 36h1v1h-1zM28 37h1v1h-1zM56 37h1v1h-1zM27 38h1v1h-1zM37 38h1v1h-1zM47 38h1v1h-1zM49 38h1v1h-1zM8 39h1v1h-1zM60 39h1v1h-1zM11 40h1v1h-1zM21 40h1v1h-1zM29 40h1v1h-1zM22 41h1v1h-1zM33 42h1v1h-1zM51 42h1v1h-1zM61 42h1v1h-1zM52 43h1v1h-1zM62 43h1v1h-1zM65 44h1v1h-1zM16 45h1v1h-1zM26 45h1v1h-1zM17 46h1v1h-1zM45 46h1v1h-1zM56 47h1v1h-1zM49 48h1v1h-1zM57 48h1v1h-1zM67 48h1v1h-1zM29 50h1v1h-1zM31 50h1v1h-1zM41 50h1v1h-1zM51 50h1v1h-1zM22 51h1v1h-1zM33 52h1v1h-1zM61 52h1v1h-1zM72 53h1v1h-1zM23 54h1v1h-1zM33 54h1v1h-1zM43 54h1v1h-1zM53 54h1v1h-1zM56 55h1v1h-1zM66 55h1v1h-1zM76 55h1v1h-1zM27 56h1v1h-1zM45 56h1v1h-1zM38 57h1v1h-1zM66 57h1v1h-1zM49 58h1v1h-1zM77 58h1v1h-1zM58 59h1v1h-1zM68 59h1v1h-1zM70 59h1v1h-1zM2 60h1v1h-1zM29 60h1v1h-1zM32 61h1v1h-1zM42 61h1v1h-1zM50 61h1v1h-1zM43 62h1v1h-1zM61 62h1v1h-1zM54 63h1v1h-1zM72 63h1v1h-1zM4 64h1v1h-1zM73 64h1v1h-1zM7 65h1v1h-1zM37 66h1v1h-1zM47 66h1v1h-1zM38 67h1v1h-1zM66 67h1v1h-1zM77 68h1v1h-1zM9 69h1v1h-1zM70 69h1v1h-1zM78 69h1v1h-1zM39 70h1v1h-1zM50 71h1v1h-1zM52 71h1v1h-1zM62 71h1v1h-1zM72 71h1v1h-1zM43 72h1v1h-1zM3 73h1v1h-1zM54 73h1v1h-1zM14 74h1v1h-1zM7 75h1v1h-1zM54 75h1v1h-1zM64 75h1v1h-1zM74 75h1v1h-1zM8 76h1v1h-1zM18 76h1v1h-1zM48 77h1v1h-1zM66 77h1v1h-1zM59 78h1v1h-1z"/><path fill="#ff0b0b" d="M29 0h1v1h-1zM2 1h1v1h-1zM30 1h1v1h-1zM40 1h1v1h-1zM3 2h1v1h-1zM13 2h1v1h-1zM33 3h1v1h-1zM43 3h1v1h-1zM71 3h1v1h-1zM13 4h1v1h-1zM44 4h1v1h-1zM24 5h1v1h-1zM65 5h1v1h-1zM35 6h1v1h-1zM45 6h1v1h-1zM55 7h1v1h-1zM65 7h1v1h-1zM38 8h1v1h-1zM48 8h1v1h-1zM49 9h1v1h-1zM29 10h1v1h-1zM2 11h1v1h-1zM40 11h1v1h-1zM50 11h1v1h-1zM1 12h1v1h-1zM11 12h1v1h-1zM21 12h1v1h-1zM23 12h1v1h-1zM31 12h1v1h-1zM41 12h1v1h-1zM43 13h1v1h-1zM53 13h1v1h-1zM63 13h1v1h-1zM71 13h1v1h-1zM13 14h1v1h-1zM54 14h1v1h-1zM34 15h1v1h-1zM65 15h1v1h-1zM7 16h1v1h-1zM45 16h1v1h-1zM36 17h1v1h-1zM46 17h1v1h-1zM56 17h1v1h-1zM9 18h1v1h-1zM19 18h1v1h-1zM29 18h1v1h-1zM58 18h1v1h-1zM68 18h1v1h-1zM78 18h1v1h-1zM49 19h1v1h-1zM59 19h1v1h-1zM29 20h1v1h-1zM70 20h1v1h-1zM50 21h1v1h-1zM23 22h1v1h-1zM51 22h1v1h-1zM61 22h1v1h-1zM13 24h1v1h-1zM54 24h1v1h-1zM64 24h1v1h-1zM34 25h1v1h-1zM65 25h1v1h-1zM7 26h1v1h-1zM45 26h1v1h-1zM56 27h1v1h-1zM66 27h1v1h-1zM7 28h1v1h-1zM17 28h1v1h-1zM27 28h1v1h-1zM37 28h1v1h-1zM76 28h1v1h-1zM59 29h1v1h-1zM69 29h1v1h-1zM70 30h1v1h-1zM50 31h1v1h-1zM23 32h1v1h-1zM61 32h1v1h-1zM32 33h1v1h-1zM42 33h1v1h-1zM44 33h1v1h-1zM52 33h1v1h-1zM62 33h1v1h-1zM72 33h1v1h-1zM5 34h1v1h-1zM13 34h1v1h-1zM15 34h1v1h-1zM64 34h1v1h-1zM74 34h1v1h-1zM34 35h1v1h-1zM75 35h1v1h-1zM7 36h1v1h-1zM66 37h1v1h-1zM57 38h1v1h-1zM67 38h1v1h-1zM77 38h1v1h-1zM0 39h1v1h-1zM10 39h1v1h-1zM20 39h1v1h-1zM30 39h1v1h-1zM40 39h1v1h-1zM50 39h1v1h-1zM1 40h1v1h-1zM70 40h1v1h-1zM12 41h1v1h-1zM50 41h1v1h-1zM23 42h1v1h-1zM71 42h1v1h-1zM3 43h1v1h-1zM44 43h1v1h-1zM72 43h1v1h-1zM13 44h1v1h-1zM6 45h1v1h-1zM34 45h1v1h-1zM75 45h1v1h-1zM7 46h1v1h-1zM28 47h1v1h-1zM66 47h1v1h-1zM8 48h1v1h-1zM77 48h1v1h-1zM18 49h1v1h-1zM28 49h1v1h-1zM38 49h1v1h-1zM48 49h1v1h-1zM58 49h1v1h-1zM68 49h1v1h-1zM1 50h1v1h-1zM11 50h1v1h-1zM21 50h1v1h-1zM12 51h1v1h-1zM50 51h1v1h-1zM23 52h1v1h-1zM71 52h1v1h-1zM3 53h1v1h-1zM44 53h1v1h-1zM4 54h1v1h-1zM14 54h1v1h-1zM63 54h1v1h-1zM65 54h1v1h-1zM73 54h1v1h-1zM6 55h1v1h-1zM16 55h1v1h-1zM26 55h1v1h-1zM34 55h1v1h-1zM36 55h1v1h-1zM46 55h1v1h-1zM7 56h1v1h-1zM17 56h1v1h-1zM55 56h1v1h-1zM28 57h1v1h-1zM8 58h1v1h-1zM9 59h1v1h-1zM19 59h1v1h-1zM78 59h1v1h-1zM41 60h1v1h-1zM51 60h1v1h-1zM61 60h1v1h-1zM71 60h1v1h-1zM12 61h1v1h-1zM22 61h1v1h-1zM33 62h1v1h-1zM71 62h1v1h-1zM3 63h1v1h-1zM13 63h1v1h-1zM44 63h1v1h-1zM14 64h1v1h-1zM24 64h1v1h-1zM65 64h1v1h-1zM34 65h1v1h-1zM17 66h1v1h-1zM27 66h1v1h-1zM55 66h1v1h-1zM28 67h1v1h-1zM8 68h1v1h-1zM49 68h1v1h-1zM19 69h1v1h-1zM29 69h1v1h-1zM0 70h1v1h-1zM2 70h1v1h-1zM10 70h1v1h-1zM20 70h1v1h-1zM49 70h1v1h-1zM59 70h1v1h-1zM69 70h1v1h-1zM22 71h1v1h-1zM32 71h1v1h-1zM42 71h1v1h-1zM33 72h1v1h-1zM71 72h1v1h-1zM13 73h1v1h-1zM44 73h1v1h-1zM24 74h1v1h-1zM65 74h1v1h-1zM5 75h1v1h-1zM15 75h1v1h-1zM25 75h1v1h-1zM35 75h1v1h-1zM27 76h1v1h-1zM37 76h1v1h-1zM47 76h1v1h-1zM55 76h1v1h-1zM57 76h1v1h-1zM67 76h1v1h-1zM77 76h1v1h-1zM28 77h1v1h-1zM38 77h1v1h-1zM8 78h1v1h-1zM49 78h1v1h-1z"/><path fill="#ff0000" d="M0 0h1v1h-1zM10 0h1v1h-1zM20 0h1v1h-1zM30 0h1v1h-1zM39 0h2v1h-2zM49 0h2v1h-2zM59 0h2v1h-2zM69 0h1v1h-1zM1 1h1v1h-1zM11 1h1v1h-1zM21 1h1v1h-1zM31 1h1v1h-1zM41 1h1v1h-1zM50 1h2v1h-2zM60 1h2v1h-2zM70 1h2v1h-2zM1 2h2v1h-2zM11 2h2v1h-2zM21 2h2v1h-2zM31 2h2v1h-2zM41 2h2v1h-2zM51 2h2v1h-2zM60 2h3v1h-3zM70 2h3v1h-3zM2 3h2v1h-2zM12 3h2v1h-2zM22 3h2v1h-2zM32 3h1v1h-1zM42 3h1v1h-1zM52 3h1v1h-1zM62 3h1v1h-1zM72 3h1v1h-1zM4 4h1v1h-1zM14 4h1v1h-1zM23 4h2v1h-2zM33 4h2v1h-2zM43 4h1v1h-1zM53 4h1v1h-1zM63 4h1v1h-1zM73 4h1v1h-1zM5 5h1v1h-1zM15 5h1v1h-1zM25 5h1v1h-1zM34 5h2v1h-2zM44 5h2v1h-2zM54 5h2v1h-2zM64 5h1v1h-1zM74 5h1v1h-1zM6 6h1v1h-1zM16 6h1v1h-1zM26 6h1v1h-1zM36 6h1v1h-1zM46 6h1v1h-1zM55 6h2v1h-2zM65 6h2v1h-2zM75 6h2v1h-2zM6 7h3v1h-3zM16 7h3v1h-3zM26 7h2v1h-2zM36 7h2v1h-2zM46 7h2v1h-2zM56 7h2v1h-2zM66 7h2v1h-2zM75 7h3v1h-3zM7 8h2v1h-2zM17 8h2v1h-2zM27 8h2v1h-2zM37 8h1v1h-1zM47 8h1v1h-1zM57 8h1v1h-1zM67 8h1v1h-1zM76 8h2v1h-2zM9 9h1v1h-1zM18 9h2v1h-2zM28 9h2v1h-2zM38 9h2v1h-2zM48 9h1v1h-1zM58 9h1v1h-1zM68 9h1v1h-1zM78 9h1v1h-1zM0 10h1v1h-1zM10 10h1v1h-1zM20 10h1v1h-1zM30 10h1v1h-1zM39 10h2v1h-2zM49 10h2v1h-2zM59 10h2v1h-2zM69 10h1v1h-1zM1 11h1v1h-1zM11 11h1v1h-1zM21 11h1v1h-1zM31 11h1v1h-1zM41 11h1v1h-1zM51 11h1v1h-1zM60 11h2v1h-2zM70 11h2v1h-2zM2 12h2v1h-2zM12 12h2v1h-2zM22 12h1v1h-1zM32 12h1v1h-1zM42 12h1v1h-1zM51 12h2v1h-2zM61 12h2v1h-2zM71 12h2v1h-2zM2 13h2v1h-2zM12 13h2v1h-2zM22 13h2v1h-2zM32 13h2v1h-2zM42 13h1v1h-1zM52 13h1v1h-1zM62 13h1v1h-1zM72 13h1v1h-1zM4 14h1v1h-1zM14 14h1v1h-1zM23 14h2v1h-2zM33 14h2v1h-2zM43 14h2v1h-2zM53 14h1v1h-1zM63 14h1v1h-1zM73 14h1v1h-1zM5 15h1v1h-1zM15 15h1v1h-1zM25 15h1v1h-1zM35 15h1v1h-1zM44 15h2v1h-2zM54 15h2v1h-2zM64 15h1v1h-1zM74 15h1v1h-1zM6 16h1v1h-1zM16 16h1v1h-1zM26 16h1v1h-1zM36 16h1v1h-1zM46 16h1v1h-1zM55 16h2v1h-2zM65 16h2v1h-2zM75 16h2v1h-2zM7 17h2v1h-2zM17 17h2v1h-2zM27 17h1v1h-1zM37 17h1v1h-1zM47 17h1v1h-1zM57 17h1v1h-1zM66 17h2v1h-2zM76 17h2v1h-2zM7 18h2v1h-2zM17 18h2v1h-2zM27 18h2v1h-2zM37 18h2v1h-2zM47 18h2v1h-2zM57 18h1v1h-1zM67 18h1v1h-1zM76 18h2v1h-2zM9 19h1v1h-1zM18 19h2v1h-2zM28 19h2v1h-2zM38 19h2v1h-2zM48 19h1v1h-1zM58 19h1v1h-1zM68 19h1v1h-1zM78 19h1v1h-1zM0 20h1v1h-1zM10 20h1v1h-1zM20 20h1v1h-1zM30 20h1v1h-1zM39 20h2v1h-2zM49 20h2v1h-2zM59 20h2v1h-2zM69 20h1v1h-1zM1 21h2v1h-2zM11 21h1v1h-1zM21 21h1v1h-1zM31 21h1v1h-1zM41 21h1v1h-1zM51 21h1v1h-1zM60 21h2v1h-2zM70 21h2v1h-2zM2 22h2v1h-2zM12 22h2v1h-2zM22 22h1v1h-1zM32 22h1v1h-1zM42 22h1v1h-1zM52 22h1v1h-1zM62 22h1v1h-1zM71 22h2v1h-2zM2 23h3v1h-3zM12 23h3v1h-3zM22 23h3v1h-3zM32 23h3v1h-3zM42 23h2v1h-2zM52 23h2v1h-2zM62 23h2v1h-2zM72 23h2v1h-2zM4 24h1v1h-1zM14 24h1v1h-1zM23 24h2v1h-2zM33 24h2v1h-2zM43 24h2v1h-2zM53 24h1v1h-1zM63 24h1v1h-1zM73 24h1v1h-1zM5 25h1v1h-1zM15 25h1v1h-1zM25 25h1v1h-1zM35 25h1v1h-1zM44 25h2v1h-2zM54 25h2v1h-2zM64 25h1v1h-1zM74 25h1v1h-1zM6 26h1v1h-1zM16 26h1v1h-1zM26 26h1v1h-1zM36 26h1v1h-1zM46 26h1v1h-1zM55 26h2v1h-2zM65 26h2v1h-2zM75 26h2v1h-2zM7 27h2v1h-2zM17 27h2v1h-2zM27 27h1v1h-1zM37 27h1v1h-1zM47 27h1v1h-1zM57 27h1v1h-1zM67 27h1v1h-1zM76 27h2v1h-2zM8 28h2v1h-2zM18 28h2v1h-2zM28 28h2v1h-2zM38 28h2v1h-2zM47 28h2v1h-2zM57 28h2v1h-2zM67 28h2v1h-2zM77 28h2v1h-2zM9 29h1v1h-1zM18 29h2v1h-2zM28 29h2v1h-2zM38 29h2v1h-2zM48 29h2v1h-2zM58 29h1v1h-1zM68 29h1v1h-1zM78 29h1v1h-1zM0 30h1v1h-1zM10 30h1v1h-1zM20 30h1v1h-1zM30 30h1v1h-1zM39 30h2v1h-2zM49 30h2v1h-2zM59 30h2v1h-2zM69 30h1v1h-1zM1 31h2v1h-2zM11 31h1v1h-1zM21 31h1v1h-1zM31 31h1v1h-1zM41 31h1v1h-1zM51 31h1v1h-1zM60 31h2v1h-2zM70 31h2v1h-2zM2 32h2v1h-2zM12 32h2v1h-2zM22 32h1v1h-1zM32 32h1v1h-1zM42 32h1v1h-1zM52 32h1v1h-1zM62 32h1v1h-1zM71 32h2v1h-2zM3 33h2v1h-2zM13 33h2v1h-2zM23 33h2v1h-2zM33 33h2v1h-2zM43 33h1v1h-1zM53 33h1v1h-1zM63 33h1v1h-1zM73 33h1v1h-1zM4 34h1v1h-1zM14 34h1v1h-1zM23 34h2v1h-2zM33 34h2v1h-2zM43 34h2v1h-2zM53 34h2v1h-2zM63 34h1v1h-1zM73 34h1v1h-1zM5 35h1v1h-1zM15 35h1v1h-1zM25 35h1v1h-1zM35 35h1v1h-1zM44 35h2v1h-2zM54 35h2v1h-2zM64 35h2v1h-2zM74 35h1v1h-1zM6 36h1v1h-1zM16 36h1v1h-1zM26 36h1v1h-1zM36 36h1v1h-1zM46 36h1v1h-1zM55 36h2v1h-2zM65 36h2v1h-2zM75 36h2v1h-2zM7 37h2v1h-2zM17 37h2v1h-2zM27 37h1v1h-1zM37 37h1v1h-1zM47 37h1v1h-1zM57 37h1v1h-1zM67 37h1v1h-1zM76 37h2v1h-2zM8 38h2v1h-2zM18 38h2v1h-2zM28 38h2v1h-2zM38 38h2v1h-2zM48 38h1v1h-1zM58 38h1v1h-1zM68 38h1v1h-1zM78 38h1v1h-1zM9 39h1v1h-1zM18 39h2v1h-2zM28 39h2v1h-2zM38 39h2v1h-2zM48 39h2v1h-2zM58 39h2v1h-2zM68 39h2v1h-2zM78 39h1v1h-1zM0 40h1v1h-1zM10 40h1v1h-1zM20 40h1v1h-1zM30 40h1v1h-1zM39 40h2v1h-2zM49 40h2v1h-2zM59 40h2v1h-2zM69 40h1v1h-1zM1 41h2v1h-2zM11 41h1v1h-1zM21 41h1v1h-1zM31 41h1v1h-1zM41 41h1v1h-1zM51 41h1v1h-1zM60 41h2v1h-2zM70 41h2v1h-2zM2 42h2v1h-2zM12 42h2v1h-2zM22 42h1v1h-1zM32 42h1v1h-1zM42 42h1v1h-1zM52 42h1v1h-1zM62 42h1v1h-1zM72 42h1v1h-1zM4 43h1v1h-1zM13 43h2v1h-2zM23 43h2v1h-2zM33 43h2v1h-2zM43 43h1v1h-1zM53 43h1v1h-1zM63 43h1v1h-1zM73 43h1v1h-1zM4 44h2v1h-2zM14 44h2v1h-2zM23 44h3v1h-3zM33 44h3v1h-3zM43 44h3v1h-3zM53 44h3v1h-3zM63 44h2v1h-2zM73 44h2v1h-2zM5 45h1v1h-1zM15 45h1v1h-1zM25 45h1v1h-1zM35 45h1v1h-1zM44 45h2v1h-2zM54 45h2v1h-2zM64 45h2v1h-2zM74 45h1v1h-1zM6 46h1v1h-1zM16 46h1v1h-1zM26 46h1v1h-1zM36 46h1v1h-1zM46 46h1v1h-1zM55 46h2v1h-2zM65 46h2v1h-2zM75 46h2v1h-2zM7 47h2v1h-2zM17 47h2v1h-2zM27 47h1v1h-1zM37 47h1v1h-1zM47 47h1v1h-1zM57 47h1v1h-1zM67 47h1v1h-1zM76 47h2v1h-2zM9 48h1v1h-1zM18 48h2v1h-2zM28 48h2v1h-2zM38 48h2v1h-2zM48 48h1v1h-1zM58 48h1v1h-1zM68 48h1v1h-1zM78 48h1v1h-1zM0 49h1v1h-1zM9 49h2v1h-2zM19 49h2v1h-2zM29 49h2v1h-2zM39 49h2v1h-2zM49 49h2v1h-2zM59 49h2v1h-2zM69 49h1v1h-1zM78 49h1v1h-1zM0 50h1v1h-1zM10 50h1v1h-1zM20 50h1v1h-1zM30 50h1v1h-1zM39 50h2v1h-2zM49 50h2v1h-2zM59 50h2v1h-2zM69 50h2v1h-2zM1 51h2v1h-2zM11 51h1v1h-1zM21 51h1v1h-1zM31 51h1v1h-1zM41 51h1v1h-1zM51 51h1v1h-1zM60 51h2v1h-2zM70 51h2v1h-2zM2 52h2v1h-2zM12 52h2v1h-2zM22 52h1v1h-1zM32 52h1v1h-1zM42 52h1v1h-1zM52 52h1v1h-1zM62 52h1v1h-1zM72 52h1v1h-1zM4 53h1v1h-1zM13 53h2v1h-2zM23 53h2v1h-2zM33 53h2v1h-2zM43 53h1v1h-1zM53 53h1v1h-1zM63 53h1v1h-1zM73 53h1v1h-1zM5 54h1v1h-1zM15 54h1v1h-1zM24 54h2v1h-2zM34 54h2v1h-2zM44 54h2v1h-2zM54 54h2v1h-2zM64 54h1v1h-1zM74 54h1v1h-1zM5 55h1v1h-1zM15 55h1v1h-1zM25 55h1v1h-1zM35 55h1v1h-1zM44 55h2v1h-2zM54 55h2v1h-2zM64 55h2v1h-2zM74 55h2v1h-2zM6 56h1v1h-1zM16 56h1v1h-1zM26 56h1v1h-1zM36 56h1v1h-1zM46 56h1v1h-1zM56 56h1v1h-1zM65 56h2v1h-2zM75 56h2v1h-2zM7 57h2v1h-2zM17 57h2v1h-2zM27 57h1v1h-1zM37 57h1v1h-1zM47 57h1v1h-1zM57 57h1v1h-1zM67 57h1v1h-1zM76 57h2v1h-2zM9 58h1v1h-1zM18 58h2v1h-2zM28 58h2v1h-2zM38 58h2v1h-2zM48 58h1v1h-1zM58 58h1v1h-1zM68 58h1v1h-1zM78 58h1v1h-1zM0 59h1v1h-1zM10 59h1v1h-1zM20 59h1v1h-1zM29 59h2v1h-2zM39 59h2v1h-2zM49 59h2v1h-2zM59 59h2v1h-2zM69 59h1v1h-1zM0 60h2v1h-2zM10 60h2v1h-2zM20 60h2v1h-2zM30 60h2v1h-2zM39 60h2v1h-2zM49 60h2v1h-2zM59 60h2v1h-2zM69 60h2v1h-2zM1 61h2v1h-2zM11 61h1v1h-1zM21 61h1v1h-1zM31 61h1v1h-1zM41 61h1v1h-1zM51 61h1v1h-1zM60 61h2v1h-2zM70 61h2v1h-2zM2 62h2v1h-2zM12 62h2v1h-2zM22 62h2v1h-2zM32 62h1v1h-1zM42 62h1v1h-1zM52 62h1v1h-1zM62 62h1v1h-1zM72 62h1v1h-1zM4 63h1v1h-1zM14 63h1v1h-1zM23 63h2v1h-2zM33 63h2v1h-2zM43 63h1v1h-1zM53 63h1v1h-1zM63 63h1v1h-1zM73 63h1v1h-1zM5 64h1v1h-1zM15 64h1v1h-1zM25 64h1v1h-1zM34 64h2v1h-2zM44 64h2v1h-2zM54 64h2v1h-2zM64 64h1v1h-1zM74 64h1v1h-1zM5 65h2v1h-2zM15 65h2v1h-2zM25 65h2v1h-2zM35 65h2v1h-2zM44 65h3v1h-3zM54 65h3v1h-3zM64 65h3v1h-3zM74 65h3v1h-3zM6 66h2v1h-2zM16 66h1v1h-1zM26 66h1v1h-1zM36 66h1v1h-1zM46 66h1v1h-1zM56 66h1v1h-1zM65 66h2v1h-2zM75 66h2v1h-2zM7 67h2v1h-2zM17 67h2v1h-2zM27 67h1v1h-1zM37 67h1v1h-1zM47 67h1v1h-1zM57 67h1v1h-1zM67 67h1v1h-1zM76 67h2v1h-2zM9 68h1v1h-1zM18 68h2v1h-2zM28 68h2v1h-2zM38 68h2v1h-2zM48 68h1v1h-1zM58 68h1v1h-1zM68 68h1v1h-1zM78 68h1v1h-1zM0 69h1v1h-1zM10 69h1v1h-1zM20 69h1v1h-1zM30 69h1v1h-1zM39 69h2v1h-2zM49 69h2v1h-2zM59 69h2v1h-2zM69 69h1v1h-1zM1 70h1v1h-1zM11 70h1v1h-1zM21 70h1v1h-1zM30 70h2v1h-2zM40 70h2v1h-2zM50 70h2v1h-2zM60 70h2v1h-2zM70 70h2v1h-2zM1 71h2v1h-2zM11 71h2v1h-2zM21 71h1v1h-1zM31 71h1v1h-1zM41 71h1v1h-1zM51 71h1v1h-1zM60 71h2v1h-2zM70 71h2v1h-2zM2 72h2v1h-2zM12 72h2v1h-2zM22 72h2v1h-2zM32 72h1v1h-1zM42 72h1v1h-1zM52 72h1v1h-1zM62 72h1v1h-1zM72 72h1v1h-1zM4 73h1v1h-1zM14 73h1v1h-1zM23 73h2v1h-2zM33 73h2v1h-2zM43 73h1v1h-1zM53 73h1v1h-1zM63 73h1v1h-1zM73 73h1v1h-1zM5 74h1v1h-1zM15 74h1v1h-1zM25 74h1v1h-1zM34 74h2v1h-2zM44 74h2v1h-2zM54 74h2v1h-2zM64 74h1v1h-1zM74 74h1v1h-1zM6 75h1v1h-1zM16 75h1v1h-1zM26 75h1v1h-1zM36 75h1v1h-1zM45 75h2v1h-2zM55 75h2v1h-2zM65 75h2v1h-2zM75 75h2v1h-2zM6 76h2v1h-2zM16 76h2v1h-2zM26 76h1v1h-1zM36 76h1v1h-1zM46 76h1v1h-1zM56 76h1v1h-1zM65 76h2v1h-2zM75 76h2v1h-2zM7 77h2v1h-2zM17 77h2v1h-2zM27 77h1v1h-1zM37 77h1v1h-1zM47 77h1v1h-1zM57 77h1v1h-1zM67 77h1v1h-1zM76 77h2v1h-2zM9 78h1v1h-1zM18 78h2v1h-2zM28 78h2v1h-2zM38 78h2v1h-2zM48 78h1v1h-1zM58 78h1v1h-1zM68 78h1v1h-1zM78 78h1v1h-1z"/></pattern><pattern id="pg" patternUnits="userSpaceOnUse" width="79" height="79" x="138" y="368"><rect width="79" height="79" fill="#046e32"/><path fill="#0e743b" d="M2 0h1v1h-1zM7 0h1v1h-1zM10 0h1v1h-1zM15 0h1v1h-1zM20 0h1v1h-1zM25 0h1v1h-1zM30 0h1v1h-1zM35 0h1v1h-1zM40 0h1v1h-1zM56 0h1v1h-1zM61 0h1v1h-1zM66 0h1v1h-1zM71 0h1v1h-1zM76 0h1v1h-1zM22 1h1v1h-1zM74 1h1v1h-1zM0 2h1v1h-1zM5 2h1v1h-1zM7 2h1v1h-1zM10 2h1v1h-1zM12 2h1v1h-1zM17 2h1v1h-1zM37 3h1v1h-1zM59 3h1v1h-1zM64 3h1v1h-1zM32 4h1v1h-1zM37 4h1v1h-1zM59 4h1v1h-1zM64 4h1v1h-1zM2 5h1v1h-1zM5 5h1v1h-1zM7 5h1v1h-1zM10 5h1v1h-1zM12 5h1v1h-1zM15 5h1v1h-1zM20 5h1v1h-1zM25 5h1v1h-1zM71 5h1v1h-1zM76 5h1v1h-1zM74 6h1v1h-1zM0 7h1v1h-1zM2 7h1v1h-1zM5 7h1v1h-1zM7 7h1v1h-1zM10 7h1v1h-1zM12 7h1v1h-1zM15 7h1v1h-1zM17 7h1v1h-1zM32 8h1v1h-1zM37 8h1v1h-1zM59 8h1v1h-1zM64 8h1v1h-1zM32 9h1v1h-1zM37 9h1v1h-1zM59 9h1v1h-1zM64 9h1v1h-1zM0 10h1v1h-1zM2 10h1v1h-1zM5 10h1v1h-1zM7 10h1v1h-1zM10 10h1v1h-1zM12 10h1v1h-1zM15 10h1v1h-1zM17 10h1v1h-1zM74 11h1v1h-1zM2 12h1v1h-1zM5 12h1v1h-1zM7 12h1v1h-1zM10 12h1v1h-1zM12 12h1v1h-1zM15 12h1v1h-1zM20 12h1v1h-1zM25 12h1v1h-1zM71 12h1v1h-1zM76 12h1v1h-1zM32 13h1v1h-1zM37 13h1v1h-1zM59 13h1v1h-1zM64 13h1v1h-1zM37 14h1v1h-1zM59 14h1v1h-1zM64 14h1v1h-1zM0 15h1v1h-1zM5 15h1v1h-1zM7 15h1v1h-1zM10 15h1v1h-1zM12 15h1v1h-1zM17 15h1v1h-1zM22 16h1v1h-1zM74 16h1v1h-1zM2 17h1v1h-1zM7 17h1v1h-1zM10 17h1v1h-1zM15 17h1v1h-1zM20 17h1v1h-1zM25 17h1v1h-1zM30 17h1v1h-1zM35 17h1v1h-1zM40 17h1v1h-1zM56 17h1v1h-1zM61 17h1v1h-1zM66 17h1v1h-1zM71 17h1v1h-1zM76 17h1v1h-1zM32 18h1v1h-1zM37 18h1v1h-1zM64 18h1v1h-1zM37 19h1v1h-1zM59 19h1v1h-1zM0 20h1v1h-1zM5 20h1v1h-1zM12 20h1v1h-1zM17 20h1v1h-1zM22 21h1v1h-1zM74 21h1v1h-1zM1 22h1v1h-1zM16 22h1v1h-1zM21 22h1v1h-1zM25 22h2v1h-2zM30 22h2v1h-2zM35 22h2v1h-2zM40 22h2v1h-2zM45 22h2v1h-2zM50 22h2v1h-2zM55 22h2v1h-2zM60 22h2v1h-2zM65 22h2v1h-2zM70 22h2v1h-2zM75 22h2v1h-2zM32 23h1v1h-1zM64 23h1v1h-1zM37 24h1v1h-1zM42 24h1v1h-1zM59 24h1v1h-1zM0 25h1v1h-1zM5 25h1v1h-1zM12 25h1v1h-1zM17 25h1v1h-1zM22 25h1v1h-1zM74 25h1v1h-1zM22 26h1v1h-1zM74 26h1v1h-1zM32 28h1v1h-1zM64 28h1v1h-1zM37 29h1v1h-1zM42 29h1v1h-1zM54 29h1v1h-1zM59 29h1v1h-1zM0 30h1v1h-1zM17 30h1v1h-1zM22 30h1v1h-1zM74 30h1v1h-1zM22 31h1v1h-1zM74 31h1v1h-1zM4 32h1v1h-1zM8 32h2v1h-2zM13 32h1v1h-1zM18 32h1v1h-1zM23 32h1v1h-1zM28 32h1v1h-1zM33 32h1v1h-1zM38 32h1v1h-1zM43 32h1v1h-1zM48 32h1v1h-1zM53 32h1v1h-1zM58 32h1v1h-1zM63 32h1v1h-1zM68 32h1v1h-1zM73 32h1v1h-1zM78 32h1v1h-1zM32 33h1v1h-1zM64 33h1v1h-1zM37 34h1v1h-1zM42 34h1v1h-1zM54 34h1v1h-1zM59 34h1v1h-1zM0 35h1v1h-1zM17 35h1v1h-1zM22 35h1v1h-1zM74 35h1v1h-1zM22 36h1v1h-1zM74 36h1v1h-1zM3 37h2v1h-2zM8 37h2v1h-2zM13 37h2v1h-2zM18 37h2v1h-2zM24 37h1v1h-1zM29 37h1v1h-1zM34 37h1v1h-1zM39 37h1v1h-1zM44 37h1v1h-1zM57 37h1v1h-1zM62 37h1v1h-1zM67 37h1v1h-1zM72 37h1v1h-1zM77 37h2v1h-2zM32 38h1v1h-1zM64 38h1v1h-1zM37 39h1v1h-1zM42 39h1v1h-1zM47 39h1v1h-1zM49 39h1v1h-1zM54 39h1v1h-1zM59 39h1v1h-1zM0 40h1v1h-1zM17 40h1v1h-1zM22 40h1v1h-1zM74 40h1v1h-1zM22 41h1v1h-1zM74 41h1v1h-1zM24 42h1v1h-1zM29 42h1v1h-1zM34 42h1v1h-1zM39 42h1v1h-1zM44 42h1v1h-1zM47 42h1v1h-1zM49 42h1v1h-1zM52 42h1v1h-1zM57 42h1v1h-1zM62 42h1v1h-1zM67 42h1v1h-1zM72 42h1v1h-1zM32 43h1v1h-1zM64 43h1v1h-1zM37 44h1v1h-1zM42 44h1v1h-1zM44 44h1v1h-1zM47 44h1v1h-1zM49 44h1v1h-1zM52 44h1v1h-1zM54 44h1v1h-1zM59 44h1v1h-1zM22 45h1v1h-1zM74 45h1v1h-1zM22 46h1v1h-1zM74 46h1v1h-1zM39 47h1v1h-1zM42 47h1v1h-1zM44 47h1v1h-1zM47 47h1v1h-1zM49 47h1v1h-1zM52 47h1v1h-1zM54 47h1v1h-1zM57 47h1v1h-1zM32 48h1v1h-1zM64 48h1v1h-1zM39 49h1v1h-1zM42 49h1v1h-1zM44 49h1v1h-1zM47 49h1v1h-1zM49 49h1v1h-1zM52 49h1v1h-1zM54 49h1v1h-1zM57 49h1v1h-1zM22 50h1v1h-1zM74 50h1v1h-1zM22 51h1v1h-1zM74 51h1v1h-1zM42 52h1v1h-1zM44 52h1v1h-1zM47 52h1v1h-1zM49 52h1v1h-1zM52 52h1v1h-1zM54 52h1v1h-1zM59 52h1v1h-1zM32 53h1v1h-1zM64 53h1v1h-1zM29 54h1v1h-1zM34 54h1v1h-1zM39 54h1v1h-1zM44 54h1v1h-1zM47 54h1v1h-1zM49 54h1v1h-1zM52 54h1v1h-1zM57 54h1v1h-1zM62 54h1v1h-1zM67 54h1v1h-1zM22 55h1v1h-1zM74 55h1v1h-1zM0 56h1v1h-1zM17 56h1v1h-1zM22 56h1v1h-1zM74 56h1v1h-1zM37 57h1v1h-1zM42 57h1v1h-1zM47 57h1v1h-1zM49 57h1v1h-1zM54 57h1v1h-1zM59 57h1v1h-1zM32 58h1v1h-1zM64 58h1v1h-1zM3 59h2v1h-2zM8 59h2v1h-2zM13 59h2v1h-2zM19 59h1v1h-1zM24 59h1v1h-1zM29 59h1v1h-1zM34 59h1v1h-1zM39 59h1v1h-1zM44 59h1v1h-1zM52 59h1v1h-1zM57 59h1v1h-1zM62 59h1v1h-1zM67 59h1v1h-1zM72 59h1v1h-1zM77 59h1v1h-1zM22 60h1v1h-1zM74 60h1v1h-1zM0 61h1v1h-1zM17 61h1v1h-1zM22 61h1v1h-1zM74 61h1v1h-1zM37 62h1v1h-1zM42 62h1v1h-1zM54 62h1v1h-1zM59 62h1v1h-1zM32 63h1v1h-1zM64 63h1v1h-1zM3 64h2v1h-2zM8 64h2v1h-2zM13 64h2v1h-2zM18 64h1v1h-1zM23 64h1v1h-1zM28 64h1v1h-1zM33 64h1v1h-1zM38 64h1v1h-1zM43 64h1v1h-1zM48 64h1v1h-1zM53 64h1v1h-1zM58 64h1v1h-1zM63 64h1v1h-1zM68 64h1v1h-1zM73 64h1v1h-1zM78 64h1v1h-1zM22 65h1v1h-1zM74 65h1v1h-1zM0 66h1v1h-1zM17 66h1v1h-1zM22 66h1v1h-1zM74 66h1v1h-1zM37 67h1v1h-1zM42 67h1v1h-1zM54 67h1v1h-1zM59 67h1v1h-1zM32 68h1v1h-1zM64 68h1v1h-1zM22 70h1v1h-1zM74 70h1v1h-1zM0 71h1v1h-1zM5 71h1v1h-1zM12 71h1v1h-1zM17 71h1v1h-1zM22 71h1v1h-1zM74 71h1v1h-1zM37 72h1v1h-1zM42 72h1v1h-1zM59 72h1v1h-1zM32 73h1v1h-1zM64 73h1v1h-1zM1 74h1v1h-1zM6 74h1v1h-1zM11 74h1v1h-1zM16 74h1v1h-1zM21 74h1v1h-1zM25 74h2v1h-2zM30 74h2v1h-2zM35 74h2v1h-2zM40 74h2v1h-2zM45 74h2v1h-2zM50 74h2v1h-2zM55 74h2v1h-2zM60 74h2v1h-2zM65 74h2v1h-2zM70 74h2v1h-2zM75 74h1v1h-1zM22 75h1v1h-1zM74 75h1v1h-1zM0 76h1v1h-1zM5 76h1v1h-1zM12 76h1v1h-1zM17 76h1v1h-1zM22 76h1v1h-1zM37 77h1v1h-1zM59 77h1v1h-1zM32 78h1v1h-1zM37 78h1v1h-1zM64 78h1v1h-1z"/><path fill="#197a43" d="M1 0h1v1h-1zM16 0h1v1h-1zM21 0h1v1h-1zM26 0h1v1h-1zM31 0h1v1h-1zM36 0h1v1h-1zM41 0h1v1h-1zM45 0h2v1h-2zM50 0h2v1h-2zM55 0h1v1h-1zM60 0h1v1h-1zM65 0h1v1h-1zM70 0h1v1h-1zM75 0h1v1h-1zM0 1h1v1h-1zM2 2h1v1h-1zM15 2h1v1h-1zM20 2h1v1h-1zM25 2h1v1h-1zM71 2h1v1h-1zM76 2h1v1h-1zM42 3h1v1h-1zM47 3h1v1h-1zM54 3h1v1h-1zM42 4h1v1h-1zM54 4h1v1h-1zM30 5h1v1h-1zM35 5h1v1h-1zM40 5h1v1h-1zM45 5h2v1h-2zM50 5h2v1h-2zM56 5h1v1h-1zM61 5h1v1h-1zM66 5h1v1h-1zM22 6h1v1h-1zM20 7h1v1h-1zM25 7h1v1h-1zM30 7h1v1h-1zM35 7h1v1h-1zM61 7h1v1h-1zM66 7h1v1h-1zM71 7h1v1h-1zM76 7h1v1h-1zM42 8h1v1h-1zM54 8h1v1h-1zM42 9h1v1h-1zM54 9h1v1h-1zM20 10h1v1h-1zM25 10h1v1h-1zM30 10h1v1h-1zM35 10h1v1h-1zM61 10h1v1h-1zM66 10h1v1h-1zM71 10h1v1h-1zM76 10h1v1h-1zM22 11h1v1h-1zM30 12h1v1h-1zM35 12h1v1h-1zM40 12h1v1h-1zM45 12h1v1h-1zM50 12h2v1h-2zM56 12h1v1h-1zM61 12h1v1h-1zM66 12h1v1h-1zM42 13h1v1h-1zM54 13h1v1h-1zM42 14h1v1h-1zM47 14h1v1h-1zM54 14h1v1h-1zM2 15h1v1h-1zM15 15h1v1h-1zM20 15h1v1h-1zM25 15h1v1h-1zM71 15h1v1h-1zM76 15h1v1h-1zM0 16h1v1h-1zM21 17h1v1h-1zM26 17h1v1h-1zM31 17h1v1h-1zM36 17h1v1h-1zM41 17h1v1h-1zM45 17h2v1h-2zM50 17h2v1h-2zM55 17h1v1h-1zM60 17h1v1h-1zM65 17h1v1h-1zM70 17h1v1h-1zM75 17h1v1h-1zM42 18h1v1h-1zM54 18h1v1h-1zM59 18h1v1h-1zM42 19h1v1h-1zM47 19h1v1h-1zM49 19h1v1h-1zM54 19h1v1h-1zM2 20h1v1h-1zM7 20h1v1h-1zM10 20h1v1h-1zM15 20h1v1h-1zM20 20h1v1h-1zM76 20h1v1h-1zM0 21h1v1h-1zM17 21h1v1h-1zM6 22h1v1h-1zM11 22h1v1h-1zM37 23h1v1h-1zM42 23h1v1h-1zM59 23h1v1h-1zM47 24h1v1h-1zM49 24h1v1h-1zM54 24h1v1h-1zM2 25h1v1h-1zM7 25h1v1h-1zM10 25h1v1h-1zM15 25h1v1h-1zM0 26h1v1h-1zM17 26h1v1h-1zM37 28h1v1h-1zM59 28h1v1h-1zM44 29h1v1h-1zM47 29h1v1h-1zM49 29h1v1h-1zM52 29h1v1h-1zM5 30h1v1h-1zM7 30h1v1h-1zM10 30h1v1h-1zM12 30h1v1h-1zM0 31h1v1h-1zM17 31h1v1h-1zM37 33h1v1h-1zM59 33h1v1h-1zM39 34h1v1h-1zM44 34h1v1h-1zM47 34h1v1h-1zM49 34h1v1h-1zM52 34h1v1h-1zM57 34h1v1h-1zM5 35h1v1h-1zM7 35h1v1h-1zM10 35h1v1h-1zM12 35h1v1h-1zM0 36h1v1h-1zM17 36h1v1h-1zM23 37h1v1h-1zM28 37h1v1h-1zM33 37h1v1h-1zM38 37h1v1h-1zM43 37h1v1h-1zM48 37h1v1h-1zM53 37h1v1h-1zM58 37h1v1h-1zM63 37h1v1h-1zM68 37h1v1h-1zM73 37h1v1h-1zM37 38h1v1h-1zM59 38h1v1h-1zM34 39h1v1h-1zM39 39h1v1h-1zM44 39h1v1h-1zM52 39h1v1h-1zM57 39h1v1h-1zM62 39h1v1h-1zM5 40h1v1h-1zM12 40h1v1h-1zM0 41h1v1h-1zM17 41h1v1h-1zM3 42h2v1h-2zM8 42h2v1h-2zM13 42h2v1h-2zM18 42h2v1h-2zM23 42h1v1h-1zM73 42h1v1h-1zM77 42h2v1h-2zM37 43h1v1h-1zM59 43h1v1h-1zM29 44h1v1h-1zM34 44h1v1h-1zM39 44h1v1h-1zM57 44h1v1h-1zM62 44h1v1h-1zM67 44h1v1h-1zM0 45h1v1h-1zM5 45h1v1h-1zM12 45h1v1h-1zM17 45h1v1h-1zM0 46h1v1h-1zM5 46h1v1h-1zM17 46h1v1h-1zM3 47h1v1h-1zM14 47h1v1h-1zM19 47h1v1h-1zM24 47h1v1h-1zM29 47h1v1h-1zM34 47h1v1h-1zM62 47h1v1h-1zM67 47h1v1h-1zM72 47h1v1h-1zM77 47h1v1h-1zM37 48h1v1h-1zM59 48h1v1h-1zM19 49h1v1h-1zM24 49h1v1h-1zM29 49h1v1h-1zM34 49h1v1h-1zM62 49h1v1h-1zM67 49h1v1h-1zM72 49h1v1h-1zM77 49h1v1h-1zM0 50h1v1h-1zM5 50h1v1h-1zM12 50h1v1h-1zM17 50h1v1h-1zM0 51h1v1h-1zM5 51h1v1h-1zM12 51h1v1h-1zM17 51h1v1h-1zM29 52h1v1h-1zM34 52h1v1h-1zM39 52h1v1h-1zM57 52h1v1h-1zM62 52h1v1h-1zM67 52h1v1h-1zM37 53h1v1h-1zM59 53h1v1h-1zM3 54h2v1h-2zM8 54h2v1h-2zM13 54h2v1h-2zM18 54h2v1h-2zM24 54h1v1h-1zM72 54h1v1h-1zM77 54h2v1h-2zM0 55h1v1h-1zM17 55h1v1h-1zM5 56h1v1h-1zM12 56h1v1h-1zM34 57h1v1h-1zM39 57h1v1h-1zM44 57h1v1h-1zM52 57h1v1h-1zM57 57h1v1h-1zM62 57h1v1h-1zM37 58h1v1h-1zM59 58h1v1h-1zM18 59h1v1h-1zM23 59h1v1h-1zM28 59h1v1h-1zM33 59h1v1h-1zM38 59h1v1h-1zM43 59h1v1h-1zM48 59h1v1h-1zM53 59h1v1h-1zM58 59h1v1h-1zM63 59h1v1h-1zM68 59h1v1h-1zM73 59h1v1h-1zM78 59h1v1h-1zM0 60h1v1h-1zM17 60h1v1h-1zM5 61h1v1h-1zM7 61h1v1h-1zM10 61h1v1h-1zM12 61h1v1h-1zM39 62h1v1h-1zM44 62h1v1h-1zM47 62h1v1h-1zM49 62h1v1h-1zM52 62h1v1h-1zM57 62h1v1h-1zM37 63h1v1h-1zM59 63h1v1h-1zM0 65h1v1h-1zM17 65h1v1h-1zM5 66h1v1h-1zM7 66h1v1h-1zM10 66h1v1h-1zM12 66h1v1h-1zM44 67h1v1h-1zM47 67h1v1h-1zM49 67h1v1h-1zM52 67h1v1h-1zM37 68h1v1h-1zM59 68h1v1h-1zM0 70h1v1h-1zM17 70h1v1h-1zM2 71h1v1h-1zM7 71h1v1h-1zM10 71h1v1h-1zM15 71h1v1h-1zM47 72h1v1h-1zM49 72h1v1h-1zM54 72h1v1h-1zM37 73h1v1h-1zM42 73h1v1h-1zM59 73h1v1h-1zM0 75h1v1h-1zM17 75h1v1h-1zM2 76h1v1h-1zM7 76h1v1h-1zM10 76h1v1h-1zM15 76h1v1h-1zM20 76h1v1h-1zM76 76h1v1h-1zM42 77h1v1h-1zM47 77h1v1h-1zM49 77h1v1h-1zM54 77h1v1h-1zM42 78h1v1h-1zM54 78h1v1h-1zM59 78h1v1h-1z"/><path fill="#23804c" d="M6 0h1v1h-1zM11 0h1v1h-1zM17 1h1v1h-1zM30 2h1v1h-1zM35 2h1v1h-1zM40 2h1v1h-1zM56 2h1v1h-1zM61 2h1v1h-1zM66 2h1v1h-1zM44 3h1v1h-1zM49 3h1v1h-1zM52 3h1v1h-1zM47 4h1v1h-1zM49 4h1v1h-1zM21 5h1v1h-1zM26 5h1v1h-1zM31 5h1v1h-1zM36 5h1v1h-1zM41 5h1v1h-1zM55 5h1v1h-1zM60 5h1v1h-1zM65 5h1v1h-1zM70 5h1v1h-1zM75 5h1v1h-1zM0 6h1v1h-1zM17 6h1v1h-1zM40 7h1v1h-1zM45 7h2v1h-2zM50 7h2v1h-2zM55 7h2v1h-2zM44 8h1v1h-1zM47 8h1v1h-1zM49 8h1v1h-1zM52 8h1v1h-1zM44 9h1v1h-1zM47 9h1v1h-1zM49 9h1v1h-1zM52 9h1v1h-1zM40 10h2v1h-2zM45 10h2v1h-2zM50 10h2v1h-2zM55 10h2v1h-2zM0 11h1v1h-1zM17 11h1v1h-1zM26 12h1v1h-1zM31 12h1v1h-1zM36 12h1v1h-1zM41 12h1v1h-1zM46 12h1v1h-1zM55 12h1v1h-1zM60 12h1v1h-1zM65 12h1v1h-1zM70 12h1v1h-1zM75 12h1v1h-1zM47 13h1v1h-1zM49 13h1v1h-1zM44 14h1v1h-1zM49 14h1v1h-1zM52 14h1v1h-1zM30 15h1v1h-1zM35 15h1v1h-1zM40 15h1v1h-1zM56 15h1v1h-1zM61 15h1v1h-1zM66 15h1v1h-1zM17 16h1v1h-1zM1 17h1v1h-1zM6 17h1v1h-1zM11 17h1v1h-1zM16 17h1v1h-1zM47 18h1v1h-1zM49 18h1v1h-1zM44 19h1v1h-1zM52 19h1v1h-1zM57 19h1v1h-1zM25 20h1v1h-1zM30 20h1v1h-1zM66 20h1v1h-1zM71 20h1v1h-1zM5 21h1v1h-1zM47 23h1v1h-1zM49 23h1v1h-1zM54 23h1v1h-1zM39 24h1v1h-1zM44 24h1v1h-1zM52 24h1v1h-1zM57 24h1v1h-1zM20 25h1v1h-1zM25 25h1v1h-1zM71 25h1v1h-1zM76 25h1v1h-1zM5 26h1v1h-1zM12 26h1v1h-1zM42 28h1v1h-1zM54 28h1v1h-1zM34 29h1v1h-1zM39 29h1v1h-1zM57 29h1v1h-1zM62 29h1v1h-1zM2 30h1v1h-1zM15 30h1v1h-1zM20 30h1v1h-1zM76 30h1v1h-1zM5 31h1v1h-1zM12 31h1v1h-1zM42 33h1v1h-1zM54 33h1v1h-1zM29 34h1v1h-1zM34 34h1v1h-1zM62 34h1v1h-1zM67 34h1v1h-1zM2 35h1v1h-1zM15 35h1v1h-1zM5 36h1v1h-1zM12 36h1v1h-1zM42 38h1v1h-1zM54 38h1v1h-1zM24 39h1v1h-1zM29 39h1v1h-1zM67 39h1v1h-1zM72 39h1v1h-1zM77 39h1v1h-1zM2 40h1v1h-1zM7 40h1v1h-1zM10 40h1v1h-1zM15 40h1v1h-1zM5 41h1v1h-1zM10 41h1v1h-1zM12 41h1v1h-1zM28 42h1v1h-1zM33 42h1v1h-1zM38 42h1v1h-1zM43 42h1v1h-1zM48 42h1v1h-1zM53 42h1v1h-1zM58 42h1v1h-1zM63 42h1v1h-1zM68 42h1v1h-1zM42 43h1v1h-1zM54 43h1v1h-1zM3 44h1v1h-1zM8 44h2v1h-2zM14 44h1v1h-1zM19 44h1v1h-1zM24 44h1v1h-1zM72 44h1v1h-1zM77 44h1v1h-1zM7 45h1v1h-1zM10 45h1v1h-1zM7 46h1v1h-1zM10 46h1v1h-1zM12 46h1v1h-1zM4 47h1v1h-1zM8 47h2v1h-2zM13 47h1v1h-1zM18 47h1v1h-1zM23 47h1v1h-1zM73 47h1v1h-1zM78 47h1v1h-1zM42 48h1v1h-1zM54 48h1v1h-1zM3 49h2v1h-2zM8 49h2v1h-2zM13 49h2v1h-2zM18 49h1v1h-1zM23 49h1v1h-1zM73 49h1v1h-1zM78 49h1v1h-1zM7 50h1v1h-1zM10 50h1v1h-1zM7 51h1v1h-1zM10 51h1v1h-1zM3 52h1v1h-1zM8 52h2v1h-2zM14 52h1v1h-1zM19 52h1v1h-1zM24 52h1v1h-1zM72 52h1v1h-1zM77 52h1v1h-1zM42 53h1v1h-1zM54 53h1v1h-1zM23 54h1v1h-1zM28 54h1v1h-1zM33 54h1v1h-1zM38 54h1v1h-1zM43 54h1v1h-1zM48 54h1v1h-1zM53 54h1v1h-1zM58 54h1v1h-1zM63 54h1v1h-1zM68 54h1v1h-1zM73 54h1v1h-1zM5 55h1v1h-1zM7 55h1v1h-1zM10 55h1v1h-1zM12 55h1v1h-1zM2 56h1v1h-1zM7 56h1v1h-1zM10 56h1v1h-1zM15 56h1v1h-1zM19 57h1v1h-1zM24 57h1v1h-1zM29 57h1v1h-1zM67 57h1v1h-1zM72 57h1v1h-1zM77 57h1v1h-1zM42 58h1v1h-1zM54 58h1v1h-1zM5 60h1v1h-1zM12 60h1v1h-1zM2 61h1v1h-1zM15 61h1v1h-1zM29 62h1v1h-1zM34 62h1v1h-1zM62 62h1v1h-1zM67 62h1v1h-1zM42 63h1v1h-1zM54 63h1v1h-1zM5 65h1v1h-1zM12 65h1v1h-1zM2 66h1v1h-1zM15 66h1v1h-1zM20 66h1v1h-1zM76 66h1v1h-1zM34 67h1v1h-1zM39 67h1v1h-1zM57 67h1v1h-1zM62 67h1v1h-1zM42 68h1v1h-1zM54 68h1v1h-1zM5 70h1v1h-1zM12 70h1v1h-1zM20 71h1v1h-1zM25 71h1v1h-1zM71 71h1v1h-1zM76 71h1v1h-1zM39 72h1v1h-1zM44 72h1v1h-1zM52 72h1v1h-1zM57 72h1v1h-1zM47 73h1v1h-1zM49 73h1v1h-1zM54 73h1v1h-1zM5 75h1v1h-1zM12 75h1v1h-1zM25 76h1v1h-1zM30 76h1v1h-1zM66 76h1v1h-1zM71 76h1v1h-1zM39 77h1v1h-1zM44 77h1v1h-1zM52 77h1v1h-1zM57 77h1v1h-1zM47 78h1v1h-1zM49 78h1v1h-1z"/><path fill="#2e8654" d="M5 1h1v1h-1zM12 1h1v1h-1zM41 2h1v1h-1zM45 2h2v1h-2zM50 2h2v1h-2zM55 2h1v1h-1zM34 3h1v1h-1zM39 3h1v1h-1zM57 3h1v1h-1zM62 3h1v1h-1zM44 4h1v1h-1zM52 4h1v1h-1zM57 4h1v1h-1zM1 5h1v1h-1zM6 5h1v1h-1zM11 5h1v1h-1zM16 5h1v1h-1zM5 6h1v1h-1zM12 6h1v1h-1zM26 7h1v1h-1zM31 7h1v1h-1zM36 7h1v1h-1zM41 7h1v1h-1zM60 7h1v1h-1zM65 7h1v1h-1zM70 7h1v1h-1zM39 8h1v1h-1zM57 8h1v1h-1zM39 9h1v1h-1zM57 9h1v1h-1zM21 10h1v1h-1zM26 10h1v1h-1zM31 10h1v1h-1zM36 10h1v1h-1zM60 10h1v1h-1zM65 10h1v1h-1zM70 10h1v1h-1zM75 10h1v1h-1zM5 11h1v1h-1zM12 11h1v1h-1zM1 12h1v1h-1zM6 12h1v1h-1zM11 12h1v1h-1zM16 12h1v1h-1zM21 12h1v1h-1zM44 13h1v1h-1zM52 13h1v1h-1zM57 13h1v1h-1zM39 14h1v1h-1zM57 14h1v1h-1zM62 14h1v1h-1zM41 15h1v1h-1zM45 15h2v1h-2zM50 15h2v1h-2zM55 15h1v1h-1zM5 16h1v1h-1zM12 16h1v1h-1zM44 18h1v1h-1zM52 18h1v1h-1zM34 19h1v1h-1zM39 19h1v1h-1zM62 19h1v1h-1zM35 20h1v1h-1zM40 20h1v1h-1zM45 20h1v1h-1zM51 20h1v1h-1zM56 20h1v1h-1zM61 20h1v1h-1zM10 21h1v1h-1zM12 21h1v1h-1zM44 23h1v1h-1zM52 23h1v1h-1zM29 24h1v1h-1zM34 24h1v1h-1zM62 24h1v1h-1zM67 24h1v1h-1zM30 25h1v1h-1zM35 25h1v1h-1zM61 25h1v1h-1zM66 25h1v1h-1zM7 26h1v1h-1zM10 26h1v1h-1zM47 28h1v1h-1zM49 28h1v1h-1zM24 29h1v1h-1zM29 29h1v1h-1zM67 29h1v1h-1zM72 29h1v1h-1zM25 30h1v1h-1zM30 30h1v1h-1zM66 30h1v1h-1zM71 30h1v1h-1zM7 31h1v1h-1zM10 31h1v1h-1zM47 33h1v1h-1zM49 33h1v1h-1zM3 34h1v1h-1zM19 34h1v1h-1zM24 34h1v1h-1zM72 34h1v1h-1zM77 34h1v1h-1zM20 35h1v1h-1zM25 35h1v1h-1zM71 35h1v1h-1zM76 35h1v1h-1zM7 36h1v1h-1zM10 36h1v1h-1zM47 38h1v1h-1zM49 38h1v1h-1zM3 39h1v1h-1zM8 39h2v1h-2zM14 39h1v1h-1zM19 39h1v1h-1zM20 40h1v1h-1zM76 40h1v1h-1zM2 41h1v1h-1zM7 41h1v1h-1zM15 41h1v1h-1zM47 43h1v1h-1zM49 43h1v1h-1zM4 44h1v1h-1zM13 44h1v1h-1zM18 44h1v1h-1zM23 44h1v1h-1zM73 44h1v1h-1zM78 44h1v1h-1zM2 45h1v1h-1zM15 45h1v1h-1zM20 45h1v1h-1zM76 45h1v1h-1zM2 46h1v1h-1zM15 46h1v1h-1zM28 47h1v1h-1zM33 47h1v1h-1zM38 47h1v1h-1zM43 47h1v1h-1zM48 47h1v1h-1zM53 47h1v1h-1zM58 47h1v1h-1zM63 47h1v1h-1zM68 47h1v1h-1zM47 48h1v1h-1zM28 49h1v1h-1zM33 49h1v1h-1zM38 49h1v1h-1zM43 49h1v1h-1zM53 49h1v1h-1zM58 49h1v1h-1zM63 49h1v1h-1zM68 49h1v1h-1zM2 50h1v1h-1zM15 50h1v1h-1zM2 51h1v1h-1zM15 51h1v1h-1zM20 51h1v1h-1zM76 51h1v1h-1zM4 52h1v1h-1zM13 52h1v1h-1zM18 52h1v1h-1zM23 52h1v1h-1zM73 52h1v1h-1zM78 52h1v1h-1zM47 53h1v1h-1zM49 53h1v1h-1zM2 55h1v1h-1zM15 55h1v1h-1zM20 56h1v1h-1zM76 56h1v1h-1zM3 57h2v1h-2zM8 57h2v1h-2zM13 57h2v1h-2zM47 58h1v1h-1zM49 58h1v1h-1zM7 60h1v1h-1zM10 60h1v1h-1zM20 61h1v1h-1zM25 61h1v1h-1zM71 61h1v1h-1zM76 61h1v1h-1zM3 62h1v1h-1zM14 62h1v1h-1zM19 62h1v1h-1zM24 62h1v1h-1zM72 62h1v1h-1zM77 62h1v1h-1zM47 63h1v1h-1zM49 63h1v1h-1zM7 65h1v1h-1zM10 65h1v1h-1zM25 66h1v1h-1zM30 66h1v1h-1zM66 66h1v1h-1zM71 66h1v1h-1zM24 67h1v1h-1zM29 67h1v1h-1zM67 67h1v1h-1zM72 67h1v1h-1zM47 68h1v1h-1zM49 68h1v1h-1zM7 70h1v1h-1zM10 70h1v1h-1zM30 71h1v1h-1zM35 71h1v1h-1zM61 71h1v1h-1zM66 71h1v1h-1zM29 72h1v1h-1zM34 72h1v1h-1zM62 72h1v1h-1zM67 72h1v1h-1zM44 73h1v1h-1zM52 73h1v1h-1zM10 75h1v1h-1zM35 76h1v1h-1zM40 76h1v1h-1zM45 76h1v1h-1zM51 76h1v1h-1zM56 76h1v1h-1zM61 76h1v1h-1zM34 77h1v1h-1zM62 77h1v1h-1zM44 78h1v1h-1zM52 78h1v1h-1z"/><path fill="#388c5d" d="M7 1h1v1h-1zM10 1h1v1h-1zM26 2h1v1h-1zM31 2h1v1h-1zM36 2h1v1h-1zM60 2h1v1h-1zM65 2h1v1h-1zM70 2h1v1h-1zM29 3h1v1h-1zM67 3h1v1h-1zM34 4h1v1h-1zM39 4h1v1h-1zM62 4h1v1h-1zM7 6h1v1h-1zM10 6h1v1h-1zM1 7h1v1h-1zM6 7h1v1h-1zM11 7h1v1h-1zM16 7h1v1h-1zM21 7h1v1h-1zM75 7h1v1h-1zM34 8h1v1h-1zM62 8h1v1h-1zM34 9h1v1h-1zM62 9h1v1h-1zM1 10h1v1h-1zM6 10h1v1h-1zM11 10h1v1h-1zM16 10h1v1h-1zM7 11h1v1h-1zM10 11h1v1h-1zM34 13h1v1h-1zM39 13h1v1h-1zM62 13h1v1h-1zM29 14h1v1h-1zM34 14h1v1h-1zM67 14h1v1h-1zM26 15h1v1h-1zM31 15h1v1h-1zM36 15h1v1h-1zM60 15h1v1h-1zM65 15h1v1h-1zM70 15h1v1h-1zM75 15h1v1h-1zM7 16h1v1h-1zM10 16h1v1h-1zM39 18h1v1h-1zM57 18h1v1h-1zM24 19h1v1h-1zM29 19h1v1h-1zM67 19h1v1h-1zM72 19h1v1h-1zM36 20h1v1h-1zM41 20h1v1h-1zM46 20h1v1h-1zM50 20h1v1h-1zM55 20h1v1h-1zM60 20h1v1h-1zM7 21h1v1h-1zM39 23h1v1h-1zM57 23h1v1h-1zM19 24h1v1h-1zM24 24h1v1h-1zM72 24h1v1h-1zM77 24h1v1h-1zM40 25h1v1h-1zM45 25h2v1h-2zM50 25h2v1h-2zM56 25h1v1h-1zM2 26h1v1h-1zM15 26h1v1h-1zM44 28h1v1h-1zM52 28h1v1h-1zM57 28h1v1h-1zM3 29h1v1h-1zM14 29h1v1h-1zM19 29h1v1h-1zM77 29h1v1h-1zM35 30h1v1h-1zM40 30h1v1h-1zM56 30h1v1h-1zM61 30h1v1h-1zM2 31h1v1h-1zM15 31h1v1h-1zM44 33h1v1h-1zM52 33h1v1h-1zM4 34h1v1h-1zM8 34h2v1h-2zM13 34h2v1h-2zM30 35h1v1h-1zM35 35h1v1h-1zM61 35h1v1h-1zM66 35h1v1h-1zM2 36h1v1h-1zM15 36h1v1h-1zM20 36h1v1h-1zM44 38h1v1h-1zM52 38h1v1h-1zM4 39h1v1h-1zM13 39h1v1h-1zM18 39h1v1h-1zM23 39h1v1h-1zM73 39h1v1h-1zM78 39h1v1h-1zM25 40h1v1h-1zM30 40h1v1h-1zM66 40h1v1h-1zM71 40h1v1h-1zM20 41h1v1h-1zM76 41h1v1h-1zM52 43h1v1h-1zM28 44h1v1h-1zM33 44h1v1h-1zM38 44h1v1h-1zM58 44h1v1h-1zM63 44h1v1h-1zM68 44h1v1h-1zM25 45h1v1h-1zM71 45h1v1h-1zM20 46h1v1h-1zM25 46h1v1h-1zM76 46h1v1h-1zM49 48h1v1h-1zM48 49h1v1h-1zM20 50h1v1h-1zM25 50h1v1h-1zM71 50h1v1h-1zM76 50h1v1h-1zM25 51h1v1h-1zM71 51h1v1h-1zM28 52h1v1h-1zM33 52h1v1h-1zM38 52h1v1h-1zM43 52h1v1h-1zM53 52h1v1h-1zM58 52h1v1h-1zM63 52h1v1h-1zM68 52h1v1h-1zM52 53h1v1h-1zM20 55h1v1h-1zM76 55h1v1h-1zM25 56h1v1h-1zM30 56h1v1h-1zM66 56h1v1h-1zM71 56h1v1h-1zM18 57h1v1h-1zM23 57h1v1h-1zM28 57h1v1h-1zM73 57h1v1h-1zM78 57h1v1h-1zM44 58h1v1h-1zM52 58h1v1h-1zM2 60h1v1h-1zM15 60h1v1h-1zM20 60h1v1h-1zM30 61h1v1h-1zM35 61h1v1h-1zM61 61h1v1h-1zM66 61h1v1h-1zM4 62h1v1h-1zM8 62h2v1h-2zM13 62h1v1h-1zM44 63h1v1h-1zM52 63h1v1h-1zM2 65h1v1h-1zM15 65h1v1h-1zM35 66h1v1h-1zM40 66h1v1h-1zM56 66h1v1h-1zM61 66h1v1h-1zM3 67h1v1h-1zM14 67h1v1h-1zM19 67h1v1h-1zM77 67h1v1h-1zM44 68h1v1h-1zM52 68h1v1h-1zM2 70h1v1h-1zM15 70h1v1h-1zM40 71h1v1h-1zM45 71h1v1h-1zM50 71h2v1h-2zM56 71h1v1h-1zM19 72h1v1h-1zM24 72h1v1h-1zM72 72h1v1h-1zM77 72h1v1h-1zM39 73h1v1h-1zM57 73h1v1h-1zM7 75h1v1h-1zM15 75h1v1h-1zM41 76h1v1h-1zM46 76h1v1h-1zM50 76h1v1h-1zM55 76h1v1h-1zM24 77h1v1h-1zM29 77h1v1h-1zM67 77h1v1h-1zM72 77h1v1h-1zM39 78h1v1h-1zM57 78h1v1h-1z"/><path fill="#439265" d="M2 1h1v1h-1zM15 1h1v1h-1zM1 2h1v1h-1zM6 2h1v1h-1zM11 2h1v1h-1zM16 2h1v1h-1zM21 2h1v1h-1zM75 2h1v1h-1zM19 3h1v1h-1zM24 3h1v1h-1zM72 3h1v1h-1zM77 3h1v1h-1zM29 4h1v1h-1zM67 4h1v1h-1zM2 6h1v1h-1zM15 6h1v1h-1zM24 8h1v1h-1zM29 8h1v1h-1zM67 8h1v1h-1zM72 8h1v1h-1zM24 9h1v1h-1zM29 9h1v1h-1zM67 9h1v1h-1zM72 9h1v1h-1zM2 11h1v1h-1zM15 11h1v1h-1zM29 13h1v1h-1zM67 13h1v1h-1zM24 14h1v1h-1zM72 14h1v1h-1zM77 14h1v1h-1zM1 15h1v1h-1zM6 15h1v1h-1zM11 15h1v1h-1zM16 15h1v1h-1zM21 15h1v1h-1zM2 16h1v1h-1zM15 16h1v1h-1zM34 18h1v1h-1zM62 18h1v1h-1zM67 18h1v1h-1zM3 19h1v1h-1zM19 19h1v1h-1zM77 19h1v1h-1zM26 20h1v1h-1zM31 20h1v1h-1zM65 20h1v1h-1zM70 20h1v1h-1zM2 21h1v1h-1zM15 21h1v1h-1zM34 23h1v1h-1zM62 23h1v1h-1zM3 24h1v1h-1zM8 24h2v1h-2zM14 24h1v1h-1zM36 25h1v1h-1zM41 25h1v1h-1zM55 25h1v1h-1zM60 25h1v1h-1zM20 26h1v1h-1zM76 26h1v1h-1zM39 28h1v1h-1zM62 28h1v1h-1zM4 29h1v1h-1zM8 29h2v1h-2zM13 29h1v1h-1zM45 30h2v1h-2zM50 30h2v1h-2zM20 31h1v1h-1zM76 31h1v1h-1zM39 33h1v1h-1zM57 33h1v1h-1zM18 34h1v1h-1zM23 34h1v1h-1zM73 34h1v1h-1zM78 34h1v1h-1zM40 35h1v1h-1zM45 35h1v1h-1zM51 35h1v1h-1zM56 35h1v1h-1zM25 36h1v1h-1zM71 36h1v1h-1zM76 36h1v1h-1zM39 38h1v1h-1zM57 38h1v1h-1zM28 39h1v1h-1zM33 39h1v1h-1zM38 39h1v1h-1zM58 39h1v1h-1zM63 39h1v1h-1zM68 39h1v1h-1zM35 40h1v1h-1zM40 40h1v1h-1zM56 40h1v1h-1zM61 40h1v1h-1zM25 41h1v1h-1zM71 41h1v1h-1zM44 43h1v1h-1zM43 44h1v1h-1zM48 44h1v1h-1zM53 44h1v1h-1zM30 45h1v1h-1zM35 45h1v1h-1zM61 45h1v1h-1zM66 45h1v1h-1zM30 46h1v1h-1zM66 46h1v1h-1zM71 46h1v1h-1zM44 48h1v1h-1zM52 48h1v1h-1zM30 50h1v1h-1zM66 50h1v1h-1zM30 51h1v1h-1zM35 51h1v1h-1zM61 51h1v1h-1zM66 51h1v1h-1zM48 52h1v1h-1zM44 53h1v1h-1zM25 55h1v1h-1zM71 55h1v1h-1zM35 56h1v1h-1zM40 56h1v1h-1zM61 56h1v1h-1zM33 57h1v1h-1zM38 57h1v1h-1zM58 57h1v1h-1zM63 57h1v1h-1zM68 57h1v1h-1zM39 58h1v1h-1zM57 58h1v1h-1zM25 60h1v1h-1zM71 60h1v1h-1zM76 60h1v1h-1zM40 61h1v1h-1zM45 61h1v1h-1zM51 61h1v1h-1zM56 61h1v1h-1zM18 62h1v1h-1zM23 62h1v1h-1zM28 62h1v1h-1zM73 62h1v1h-1zM78 62h1v1h-1zM39 63h1v1h-1zM57 63h1v1h-1zM20 65h1v1h-1zM76 65h1v1h-1zM45 66h2v1h-2zM50 66h2v1h-2zM4 67h1v1h-1zM8 67h2v1h-2zM13 67h1v1h-1zM18 67h1v1h-1zM39 68h1v1h-1zM57 68h1v1h-1zM20 70h1v1h-1zM76 70h1v1h-1zM36 71h1v1h-1zM41 71h1v1h-1zM46 71h1v1h-1zM55 71h1v1h-1zM60 71h1v1h-1zM3 72h1v1h-1zM8 72h2v1h-2zM14 72h1v1h-1zM34 73h1v1h-1zM62 73h1v1h-1zM2 75h1v1h-1zM26 76h1v1h-1zM31 76h1v1h-1zM36 76h1v1h-1zM60 76h1v1h-1zM65 76h1v1h-1zM70 76h1v1h-1zM3 77h1v1h-1zM14 77h1v1h-1zM19 77h1v1h-1zM77 77h1v1h-1zM34 78h1v1h-1zM62 78h1v1h-1z"/><path fill="#4d986e" d="M20 1h1v1h-1zM76 1h1v1h-1zM3 3h1v1h-1zM14 3h1v1h-1zM24 4h1v1h-1zM72 4h1v1h-1zM20 6h1v1h-1zM76 6h1v1h-1zM19 8h1v1h-1zM77 8h1v1h-1zM19 9h1v1h-1zM77 9h1v1h-1zM20 11h1v1h-1zM76 11h1v1h-1zM24 13h1v1h-1zM72 13h1v1h-1zM3 14h1v1h-1zM14 14h1v1h-1zM19 14h1v1h-1zM20 16h1v1h-1zM76 16h1v1h-1zM24 18h1v1h-1zM29 18h1v1h-1zM72 18h1v1h-1zM8 19h2v1h-2zM14 19h1v1h-1zM1 20h1v1h-1zM6 20h1v1h-1zM11 20h1v1h-1zM16 20h1v1h-1zM21 20h1v1h-1zM75 20h1v1h-1zM20 21h1v1h-1zM76 21h1v1h-1zM29 23h1v1h-1zM67 23h1v1h-1zM4 24h1v1h-1zM13 24h1v1h-1zM18 24h1v1h-1zM78 24h1v1h-1zM26 25h1v1h-1zM31 25h1v1h-1zM65 25h1v1h-1zM70 25h1v1h-1zM25 26h1v1h-1zM71 26h1v1h-1zM34 28h1v1h-1zM67 28h1v1h-1zM18 29h1v1h-1zM23 29h1v1h-1zM73 29h1v1h-1zM78 29h1v1h-1zM36 30h1v1h-1zM41 30h1v1h-1zM55 30h1v1h-1zM60 30h1v1h-1zM25 31h1v1h-1zM71 31h1v1h-1zM34 33h1v1h-1zM62 33h1v1h-1zM28 34h1v1h-1zM33 34h1v1h-1zM38 34h1v1h-1zM58 34h1v1h-1zM63 34h1v1h-1zM68 34h1v1h-1zM46 35h1v1h-1zM50 35h1v1h-1zM55 35h1v1h-1zM30 36h1v1h-1zM66 36h1v1h-1zM34 38h1v1h-1zM62 38h1v1h-1zM43 39h1v1h-1zM48 39h1v1h-1zM53 39h1v1h-1zM45 40h1v1h-1zM51 40h1v1h-1zM30 41h1v1h-1zM66 41h1v1h-1zM39 43h1v1h-1zM57 43h1v1h-1zM40 45h1v1h-1zM56 45h1v1h-1zM35 46h1v1h-1zM61 46h1v1h-1zM39 48h1v1h-1zM57 48h1v1h-1zM35 50h1v1h-1zM61 50h1v1h-1zM40 51h1v1h-1zM56 51h1v1h-1zM39 53h1v1h-1zM57 53h1v1h-1zM30 55h1v1h-1zM35 55h1v1h-1zM66 55h1v1h-1zM45 56h1v1h-1zM51 56h1v1h-1zM56 56h1v1h-1zM43 57h1v1h-1zM48 57h1v1h-1zM53 57h1v1h-1zM34 58h1v1h-1zM62 58h1v1h-1zM30 60h1v1h-1zM66 60h1v1h-1zM46 61h1v1h-1zM50 61h1v1h-1zM33 62h1v1h-1zM38 62h1v1h-1zM58 62h1v1h-1zM63 62h1v1h-1zM68 62h1v1h-1zM34 63h1v1h-1zM62 63h1v1h-1zM25 65h1v1h-1zM71 65h1v1h-1zM36 66h1v1h-1zM41 66h1v1h-1zM55 66h1v1h-1zM60 66h1v1h-1zM23 67h1v1h-1zM28 67h1v1h-1zM68 67h1v1h-1zM73 67h1v1h-1zM78 67h1v1h-1zM34 68h1v1h-1zM62 68h1v1h-1zM67 68h1v1h-1zM25 70h1v1h-1zM71 70h1v1h-1zM26 71h1v1h-1zM31 71h1v1h-1zM65 71h1v1h-1zM70 71h1v1h-1zM4 72h1v1h-1zM13 72h1v1h-1zM18 72h1v1h-1zM78 72h1v1h-1zM29 73h1v1h-1zM67 73h1v1h-1zM20 75h1v1h-1zM76 75h1v1h-1zM1 76h1v1h-1zM6 76h1v1h-1zM11 76h1v1h-1zM16 76h1v1h-1zM21 76h1v1h-1zM75 76h1v1h-1zM8 77h2v1h-2zM24 78h1v1h-1zM29 78h1v1h-1zM67 78h1v1h-1zM72 78h1v1h-1z"/><path fill="#589e76" d="M25 1h1v1h-1zM71 1h1v1h-1zM4 3h1v1h-1zM8 3h2v1h-2zM13 3h1v1h-1zM3 4h1v1h-1zM19 4h1v1h-1zM77 4h1v1h-1zM25 6h1v1h-1zM3 8h1v1h-1zM8 8h2v1h-2zM14 8h1v1h-1zM3 9h1v1h-1zM8 9h1v1h-1zM14 9h1v1h-1zM3 13h1v1h-1zM14 13h1v1h-1zM19 13h1v1h-1zM77 13h1v1h-1zM8 14h2v1h-2zM13 14h1v1h-1zM25 16h1v1h-1zM71 16h1v1h-1zM19 18h1v1h-1zM77 18h1v1h-1zM4 19h1v1h-1zM13 19h1v1h-1zM18 19h1v1h-1zM78 19h1v1h-1zM25 21h1v1h-1zM71 21h1v1h-1zM24 23h1v1h-1zM72 23h1v1h-1zM23 24h1v1h-1zM73 24h1v1h-1zM1 25h1v1h-1zM6 25h1v1h-1zM16 25h1v1h-1zM21 25h1v1h-1zM75 25h1v1h-1zM30 26h1v1h-1zM66 26h1v1h-1zM29 28h1v1h-1zM72 28h1v1h-1zM28 29h1v1h-1zM33 29h1v1h-1zM38 29h1v1h-1zM63 29h1v1h-1zM68 29h1v1h-1zM26 30h1v1h-1zM31 30h1v1h-1zM65 30h1v1h-1zM70 30h1v1h-1zM30 31h1v1h-1zM66 31h1v1h-1zM29 33h1v1h-1zM67 33h1v1h-1zM43 34h1v1h-1zM48 34h1v1h-1zM53 34h1v1h-1zM36 35h1v1h-1zM41 35h1v1h-1zM60 35h1v1h-1zM35 36h1v1h-1zM61 36h1v1h-1zM29 38h1v1h-1zM67 38h1v1h-1zM41 40h1v1h-1zM46 40h1v1h-1zM50 40h1v1h-1zM55 40h1v1h-1zM35 41h1v1h-1zM40 41h1v1h-1zM56 41h1v1h-1zM61 41h1v1h-1zM34 43h1v1h-1zM62 43h1v1h-1zM45 45h2v1h-2zM50 45h2v1h-2zM40 46h1v1h-1zM45 46h1v1h-1zM56 46h1v1h-1zM34 48h1v1h-1zM62 48h1v1h-1zM40 50h1v1h-1zM45 50h1v1h-1zM51 50h1v1h-1zM56 50h1v1h-1zM45 51h1v1h-1zM50 51h2v1h-2zM34 53h1v1h-1zM62 53h1v1h-1zM40 55h1v1h-1zM56 55h1v1h-1zM61 55h1v1h-1zM41 56h1v1h-1zM46 56h1v1h-1zM50 56h1v1h-1zM55 56h1v1h-1zM67 58h1v1h-1zM35 60h1v1h-1zM61 60h1v1h-1zM36 61h1v1h-1zM41 61h1v1h-1zM55 61h1v1h-1zM60 61h1v1h-1zM43 62h1v1h-1zM48 62h1v1h-1zM53 62h1v1h-1zM29 63h1v1h-1zM67 63h1v1h-1zM30 65h1v1h-1zM66 65h1v1h-1zM26 66h1v1h-1zM31 66h1v1h-1zM65 66h1v1h-1zM70 66h1v1h-1zM33 67h1v1h-1zM38 67h1v1h-1zM58 67h1v1h-1zM63 67h1v1h-1zM29 68h1v1h-1zM72 68h1v1h-1zM30 70h1v1h-1zM66 70h1v1h-1zM1 71h1v1h-1zM16 71h1v1h-1zM21 71h1v1h-1zM75 71h1v1h-1zM23 72h1v1h-1zM28 72h1v1h-1zM68 72h1v1h-1zM73 72h1v1h-1zM24 73h1v1h-1zM72 73h1v1h-1zM25 75h1v1h-1zM71 75h1v1h-1zM4 77h1v1h-1zM13 77h1v1h-1zM18 77h1v1h-1zM78 77h1v1h-1zM19 78h1v1h-1zM77 78h1v1h-1z"/><path fill="#62a47f" d="M30 1h1v1h-1zM66 1h1v1h-1zM18 3h1v1h-1zM78 3h1v1h-1zM8 4h2v1h-2zM14 4h1v1h-1zM71 6h1v1h-1zM4 8h1v1h-1zM13 8h1v1h-1zM4 9h1v1h-1zM9 9h1v1h-1zM13 9h1v1h-1zM25 11h1v1h-1zM71 11h1v1h-1zM8 13h2v1h-2zM4 14h1v1h-1zM18 14h1v1h-1zM78 14h1v1h-1zM30 16h1v1h-1zM66 16h1v1h-1zM3 18h1v1h-1zM14 18h1v1h-1zM23 19h1v1h-1zM28 19h1v1h-1zM73 19h1v1h-1zM30 21h1v1h-1zM66 21h1v1h-1zM19 23h1v1h-1zM77 23h1v1h-1zM28 24h1v1h-1zM33 24h1v1h-1zM63 24h1v1h-1zM68 24h1v1h-1zM11 25h1v1h-1zM35 26h1v1h-1zM61 26h1v1h-1zM19 28h1v1h-1zM24 28h1v1h-1zM77 28h1v1h-1zM43 29h1v1h-1zM48 29h1v1h-1zM53 29h1v1h-1zM58 29h1v1h-1zM1 30h1v1h-1zM16 30h1v1h-1zM21 30h1v1h-1zM75 30h1v1h-1zM35 31h1v1h-1zM61 31h1v1h-1zM24 33h1v1h-1zM72 33h1v1h-1zM26 35h1v1h-1zM31 35h1v1h-1zM65 35h1v1h-1zM70 35h1v1h-1zM40 36h1v1h-1zM56 36h1v1h-1zM72 38h1v1h-1zM36 40h1v1h-1zM60 40h1v1h-1zM45 41h1v1h-1zM51 41h1v1h-1zM29 43h1v1h-1zM67 43h1v1h-1zM41 45h1v1h-1zM55 45h1v1h-1zM46 46h1v1h-1zM50 46h2v1h-2zM29 48h1v1h-1zM67 48h1v1h-1zM46 50h1v1h-1zM50 50h1v1h-1zM41 51h1v1h-1zM46 51h1v1h-1zM55 51h1v1h-1zM29 53h1v1h-1zM67 53h1v1h-1zM45 55h1v1h-1zM51 55h1v1h-1zM36 56h1v1h-1zM60 56h1v1h-1zM29 58h1v1h-1zM40 60h1v1h-1zM56 60h1v1h-1zM26 61h1v1h-1zM31 61h1v1h-1zM65 61h1v1h-1zM70 61h1v1h-1zM24 63h1v1h-1zM72 63h1v1h-1zM35 65h1v1h-1zM61 65h1v1h-1zM1 66h1v1h-1zM16 66h1v1h-1zM21 66h1v1h-1zM75 66h1v1h-1zM43 67h1v1h-1zM48 67h1v1h-1zM53 67h1v1h-1zM24 68h1v1h-1zM77 68h1v1h-1zM35 70h1v1h-1zM61 70h1v1h-1zM6 71h1v1h-1zM11 71h1v1h-1zM33 72h1v1h-1zM38 72h1v1h-1zM63 72h1v1h-1zM19 73h1v1h-1zM77 73h1v1h-1zM30 75h1v1h-1zM66 75h1v1h-1zM23 77h1v1h-1zM28 77h1v1h-1zM68 77h1v1h-1zM73 77h1v1h-1zM3 78h1v1h-1zM14 78h1v1h-1z"/><path fill="#6daa87" d="M35 1h1v1h-1zM61 1h1v1h-1zM23 3h1v1h-1zM28 3h1v1h-1zM68 3h1v1h-1zM73 3h1v1h-1zM4 4h1v1h-1zM13 4h1v1h-1zM30 6h1v1h-1zM66 6h1v1h-1zM18 8h1v1h-1zM78 8h1v1h-1zM18 9h1v1h-1zM78 9h1v1h-1zM30 11h1v1h-1zM66 11h1v1h-1zM4 13h1v1h-1zM13 13h1v1h-1zM23 14h1v1h-1zM28 14h1v1h-1zM73 14h1v1h-1zM35 16h1v1h-1zM61 16h1v1h-1zM8 18h2v1h-2zM33 19h1v1h-1zM63 19h1v1h-1zM68 19h1v1h-1zM35 21h1v1h-1zM61 21h1v1h-1zM3 23h1v1h-1zM14 23h1v1h-1zM38 24h1v1h-1zM43 24h1v1h-1zM53 24h1v1h-1zM58 24h1v1h-1zM40 26h1v1h-1zM56 26h1v1h-1zM3 28h1v1h-1zM14 28h1v1h-1zM6 30h1v1h-1zM11 30h1v1h-1zM40 31h1v1h-1zM56 31h1v1h-1zM19 33h1v1h-1zM77 33h1v1h-1zM1 35h1v1h-1zM16 35h1v1h-1zM21 35h1v1h-1zM75 35h1v1h-1zM45 36h1v1h-1zM51 36h1v1h-1zM24 38h1v1h-1zM26 40h1v1h-1zM31 40h1v1h-1zM65 40h1v1h-1zM70 40h1v1h-1zM46 41h1v1h-1zM50 41h1v1h-1zM24 43h1v1h-1zM72 43h1v1h-1zM36 45h1v1h-1zM60 45h1v1h-1zM65 45h1v1h-1zM41 46h1v1h-1zM55 46h1v1h-1zM41 50h1v1h-1zM55 50h1v1h-1zM36 51h1v1h-1zM60 51h1v1h-1zM24 53h1v1h-1zM72 53h1v1h-1zM46 55h1v1h-1zM50 55h1v1h-1zM26 56h1v1h-1zM31 56h1v1h-1zM65 56h1v1h-1zM70 56h1v1h-1zM24 58h1v1h-1zM72 58h1v1h-1zM45 60h1v1h-1zM51 60h1v1h-1zM1 61h1v1h-1zM16 61h1v1h-1zM21 61h1v1h-1zM75 61h1v1h-1zM19 63h1v1h-1zM77 63h1v1h-1zM40 65h1v1h-1zM45 65h1v1h-1zM56 65h1v1h-1zM6 66h1v1h-1zM11 66h1v1h-1zM3 68h1v1h-1zM19 68h1v1h-1zM40 70h1v1h-1zM56 70h1v1h-1zM43 72h1v1h-1zM53 72h1v1h-1zM58 72h1v1h-1zM3 73h1v1h-1zM14 73h1v1h-1zM35 75h1v1h-1zM61 75h1v1h-1zM33 77h1v1h-1zM63 77h1v1h-1zM8 78h2v1h-2z"/><path fill="#77b090" d="M40 1h1v1h-1zM33 3h1v1h-1zM63 3h1v1h-1zM18 4h1v1h-1zM78 4h1v1h-1zM35 6h1v1h-1zM61 6h1v1h-1zM23 8h1v1h-1zM28 8h1v1h-1zM68 8h1v1h-1zM73 8h1v1h-1zM23 9h1v1h-1zM28 9h1v1h-1zM68 9h1v1h-1zM73 9h1v1h-1zM35 11h1v1h-1zM61 11h1v1h-1zM18 13h1v1h-1zM23 13h1v1h-1zM78 13h1v1h-1zM33 14h1v1h-1zM63 14h1v1h-1zM68 14h1v1h-1zM40 16h1v1h-1zM4 18h1v1h-1zM13 18h1v1h-1zM38 19h1v1h-1zM43 19h1v1h-1zM53 19h1v1h-1zM58 19h1v1h-1zM40 21h1v1h-1zM56 21h1v1h-1zM8 23h2v1h-2zM13 23h1v1h-1zM48 24h1v1h-1zM45 26h1v1h-1zM51 26h1v1h-1zM8 28h2v1h-2zM45 31h1v1h-1zM50 31h2v1h-2zM3 33h1v1h-1zM14 33h1v1h-1zM6 35h1v1h-1zM11 35h1v1h-1zM46 36h1v1h-1zM50 36h1v1h-1zM19 38h1v1h-1zM77 38h1v1h-1zM1 40h1v1h-1zM16 40h1v1h-1zM21 40h1v1h-1zM75 40h1v1h-1zM41 41h1v1h-1zM55 41h1v1h-1zM19 43h1v1h-1zM77 43h1v1h-1zM26 45h1v1h-1zM31 45h1v1h-1zM70 45h1v1h-1zM36 46h1v1h-1zM60 46h1v1h-1zM24 48h1v1h-1zM72 48h1v1h-1zM31 50h1v1h-1zM36 50h1v1h-1zM60 50h1v1h-1zM65 50h1v1h-1zM26 51h1v1h-1zM31 51h1v1h-1zM65 51h1v1h-1zM70 51h1v1h-1zM19 53h1v1h-1zM77 53h1v1h-1zM41 55h1v1h-1zM55 55h1v1h-1zM21 56h1v1h-1zM75 56h1v1h-1zM19 58h1v1h-1zM77 58h1v1h-1zM46 60h1v1h-1zM50 60h1v1h-1zM6 61h1v1h-1zM11 61h1v1h-1zM3 63h1v1h-1zM14 63h1v1h-1zM50 65h2v1h-2zM8 68h2v1h-2zM14 68h1v1h-1zM45 70h1v1h-1zM51 70h1v1h-1zM48 72h1v1h-1zM8 73h2v1h-2zM40 75h1v1h-1zM56 75h1v1h-1zM38 77h1v1h-1zM43 77h1v1h-1zM53 77h1v1h-1zM58 77h1v1h-1zM4 78h1v1h-1zM13 78h1v1h-1z"/><path fill="#82b698" d="M56 1h1v1h-1zM38 3h1v1h-1zM43 3h1v1h-1zM53 3h1v1h-1zM58 3h1v1h-1zM23 4h1v1h-1zM28 4h1v1h-1zM68 4h1v1h-1zM73 4h1v1h-1zM40 6h1v1h-1zM56 6h1v1h-1zM33 8h1v1h-1zM63 8h1v1h-1zM33 9h1v1h-1zM63 9h1v1h-1zM40 11h1v1h-1zM56 11h1v1h-1zM28 13h1v1h-1zM68 13h1v1h-1zM73 13h1v1h-1zM38 14h1v1h-1zM43 14h1v1h-1zM58 14h1v1h-1zM56 16h1v1h-1zM18 18h1v1h-1zM23 18h1v1h-1zM73 18h1v1h-1zM78 18h1v1h-1zM48 19h1v1h-1zM45 21h1v1h-1zM51 21h1v1h-1zM4 23h1v1h-1zM18 23h1v1h-1zM78 23h1v1h-1zM46 26h1v1h-1zM50 26h1v1h-1zM4 28h1v1h-1zM13 28h1v1h-1zM46 31h1v1h-1zM55 31h1v1h-1zM8 33h2v1h-2zM41 36h1v1h-1zM55 36h1v1h-1zM60 36h1v1h-1zM3 38h1v1h-1zM14 38h1v1h-1zM6 40h1v1h-1zM11 40h1v1h-1zM36 41h1v1h-1zM60 41h1v1h-1zM65 41h1v1h-1zM3 43h1v1h-1zM14 43h1v1h-1zM21 45h1v1h-1zM75 45h1v1h-1zM26 46h1v1h-1zM31 46h1v1h-1zM65 46h1v1h-1zM70 46h1v1h-1zM19 48h1v1h-1zM77 48h1v1h-1zM26 50h1v1h-1zM70 50h1v1h-1zM21 51h1v1h-1zM75 51h1v1h-1zM3 53h1v1h-1zM31 55h1v1h-1zM36 55h1v1h-1zM60 55h1v1h-1zM65 55h1v1h-1zM1 56h1v1h-1zM6 56h1v1h-1zM11 56h1v1h-1zM16 56h1v1h-1zM3 58h1v1h-1zM14 58h1v1h-1zM36 60h1v1h-1zM41 60h1v1h-1zM55 60h1v1h-1zM60 60h1v1h-1zM8 63h2v1h-2zM41 65h1v1h-1zM46 65h1v1h-1zM55 65h1v1h-1zM4 68h1v1h-1zM13 68h1v1h-1zM46 70h1v1h-1zM50 70h1v1h-1zM4 73h1v1h-1zM13 73h1v1h-1zM18 73h1v1h-1zM45 75h1v1h-1zM51 75h1v1h-1zM48 77h1v1h-1zM18 78h1v1h-1zM23 78h1v1h-1zM78 78h1v1h-1z"/><path fill="#8cbda1" d="M45 1h1v1h-1zM51 1h1v1h-1zM48 3h1v1h-1zM33 4h1v1h-1zM63 4h1v1h-1zM45 6h1v1h-1zM51 6h1v1h-1zM38 8h1v1h-1zM43 8h1v1h-1zM58 8h1v1h-1zM38 9h1v1h-1zM58 9h1v1h-1zM45 11h1v1h-1zM51 11h1v1h-1zM33 13h1v1h-1zM63 13h1v1h-1zM48 14h1v1h-1zM53 14h1v1h-1zM45 16h1v1h-1zM51 16h1v1h-1zM28 18h1v1h-1zM68 18h1v1h-1zM46 21h1v1h-1zM50 21h1v1h-1zM23 23h1v1h-1zM73 23h1v1h-1zM41 26h1v1h-1zM55 26h1v1h-1zM18 28h1v1h-1zM78 28h1v1h-1zM36 31h1v1h-1zM41 31h1v1h-1zM60 31h1v1h-1zM4 33h1v1h-1zM13 33h1v1h-1zM31 36h1v1h-1zM36 36h1v1h-1zM65 36h1v1h-1zM8 38h2v1h-2zM26 41h1v1h-1zM31 41h1v1h-1zM70 41h1v1h-1zM8 43h1v1h-1zM1 45h1v1h-1zM6 45h1v1h-1zM11 45h1v1h-1zM16 45h1v1h-1zM21 46h1v1h-1zM75 46h1v1h-1zM3 48h1v1h-1zM14 48h1v1h-1zM21 50h1v1h-1zM75 50h1v1h-1zM1 51h1v1h-1zM6 51h1v1h-1zM11 51h1v1h-1zM16 51h1v1h-1zM14 53h1v1h-1zM26 55h1v1h-1zM70 55h1v1h-1zM8 58h2v1h-2zM31 60h1v1h-1zM65 60h1v1h-1zM4 63h1v1h-1zM13 63h1v1h-1zM36 65h1v1h-1zM60 65h1v1h-1zM18 68h1v1h-1zM78 68h1v1h-1zM41 70h1v1h-1zM55 70h1v1h-1zM23 73h1v1h-1zM73 73h1v1h-1zM78 73h1v1h-1zM46 75h1v1h-1zM50 75h1v1h-1zM28 78h1v1h-1zM68 78h1v1h-1zM73 78h1v1h-1z"/><path fill="#96c3aa" d="M46 1h1v1h-1zM50 1h1v1h-1zM38 4h1v1h-1zM58 4h1v1h-1zM50 6h1v1h-1zM48 8h1v1h-1zM53 8h1v1h-1zM43 9h1v1h-1zM48 9h1v1h-1zM53 9h1v1h-1zM50 11h1v1h-1zM38 13h1v1h-1zM58 13h1v1h-1zM46 16h1v1h-1zM50 16h1v1h-1zM33 18h1v1h-1zM63 18h1v1h-1zM41 21h1v1h-1zM55 21h1v1h-1zM28 23h1v1h-1zM68 23h1v1h-1zM36 26h1v1h-1zM60 26h1v1h-1zM23 28h1v1h-1zM73 28h1v1h-1zM31 31h1v1h-1zM65 31h1v1h-1zM18 33h1v1h-1zM78 33h1v1h-1zM26 36h1v1h-1zM70 36h1v1h-1zM4 38h1v1h-1zM13 38h1v1h-1zM21 41h1v1h-1zM75 41h1v1h-1zM9 43h1v1h-1zM1 46h1v1h-1zM16 46h1v1h-1zM8 48h2v1h-2zM1 50h1v1h-1zM6 50h1v1h-1zM11 50h1v1h-1zM16 50h1v1h-1zM8 53h2v1h-2zM21 55h1v1h-1zM75 55h1v1h-1zM4 58h1v1h-1zM13 58h1v1h-1zM26 60h1v1h-1zM70 60h1v1h-1zM18 63h1v1h-1zM78 63h1v1h-1zM31 65h1v1h-1zM65 65h1v1h-1zM23 68h1v1h-1zM73 68h1v1h-1zM36 70h1v1h-1zM60 70h1v1h-1zM28 73h1v1h-1zM68 73h1v1h-1zM41 75h1v1h-1zM55 75h1v1h-1zM33 78h1v1h-1zM63 78h1v1h-1z"/><path fill="#a1c9b2" d="M41 1h1v1h-1zM55 1h1v1h-1zM43 4h1v1h-1zM53 4h1v1h-1zM46 6h1v1h-1zM46 11h1v1h-1zM43 13h1v1h-1zM48 13h1v1h-1zM53 13h1v1h-1zM41 16h1v1h-1zM55 16h1v1h-1zM38 18h1v1h-1zM58 18h1v1h-1zM36 21h1v1h-1zM60 21h1v1h-1zM33 23h1v1h-1zM63 23h1v1h-1zM31 26h1v1h-1zM65 26h1v1h-1zM28 28h1v1h-1zM68 28h1v1h-1zM26 31h1v1h-1zM70 31h1v1h-1zM23 33h1v1h-1zM73 33h1v1h-1zM21 36h1v1h-1zM75 36h1v1h-1zM18 38h1v1h-1zM78 38h1v1h-1zM1 41h1v1h-1zM16 41h1v1h-1zM4 43h1v1h-1zM13 43h1v1h-1zM6 46h1v1h-1zM11 46h1v1h-1zM13 48h1v1h-1zM4 53h1v1h-1zM13 53h1v1h-1zM1 55h1v1h-1zM16 55h1v1h-1zM18 58h1v1h-1zM78 58h1v1h-1zM21 60h1v1h-1zM75 60h1v1h-1zM23 63h1v1h-1zM73 63h1v1h-1zM26 65h1v1h-1zM70 65h1v1h-1zM28 68h1v1h-1zM68 68h1v1h-1zM31 70h1v1h-1zM65 70h1v1h-1zM33 73h1v1h-1zM63 73h1v1h-1zM36 75h1v1h-1zM60 75h1v1h-1zM38 78h1v1h-1zM58 78h1v1h-1z"/><path fill="#abcfbb" d="M36 1h1v1h-1zM60 1h1v1h-1zM48 4h1v1h-1zM41 6h1v1h-1zM55 6h1v1h-1zM41 11h1v1h-1zM55 11h1v1h-1zM36 16h1v1h-1zM60 16h1v1h-1zM43 18h1v1h-1zM53 18h1v1h-1zM31 21h1v1h-1zM65 21h1v1h-1zM38 23h1v1h-1zM58 23h1v1h-1zM26 26h1v1h-1zM70 26h1v1h-1zM33 28h1v1h-1zM63 28h1v1h-1zM21 31h1v1h-1zM75 31h1v1h-1zM28 33h1v1h-1zM68 33h1v1h-1zM1 36h1v1h-1zM16 36h1v1h-1zM23 38h1v1h-1zM73 38h1v1h-1zM6 41h1v1h-1zM11 41h1v1h-1zM18 43h1v1h-1zM78 43h1v1h-1zM4 48h1v1h-1zM18 53h1v1h-1zM78 53h1v1h-1zM6 55h1v1h-1zM11 55h1v1h-1zM23 58h1v1h-1zM73 58h1v1h-1zM1 60h1v1h-1zM16 60h1v1h-1zM28 63h1v1h-1zM68 63h1v1h-1zM21 65h1v1h-1zM75 65h1v1h-1zM33 68h1v1h-1zM63 68h1v1h-1zM26 70h1v1h-1zM70 70h1v1h-1zM38 73h1v1h-1zM58 73h1v1h-1zM31 75h1v1h-1zM65 75h1v1h-1zM43 78h1v1h-1zM53 78h1v1h-1z"/><path fill="#b6d5c3" d="M31 1h1v1h-1zM65 1h1v1h-1zM36 6h1v1h-1zM60 6h1v1h-1zM36 11h1v1h-1zM60 11h1v1h-1zM31 16h1v1h-1zM65 16h1v1h-1zM48 18h1v1h-1zM26 21h1v1h-1zM70 21h1v1h-1zM43 23h1v1h-1zM53 23h1v1h-1zM21 26h1v1h-1zM75 26h1v1h-1zM38 28h1v1h-1zM58 28h1v1h-1zM1 31h1v1h-1zM16 31h1v1h-1zM33 33h1v1h-1zM63 33h1v1h-1zM6 36h1v1h-1zM11 36h1v1h-1zM28 38h1v1h-1zM68 38h1v1h-1zM23 43h1v1h-1zM73 43h1v1h-1zM18 48h1v1h-1zM78 48h1v1h-1zM23 53h1v1h-1zM73 53h1v1h-1zM28 58h1v1h-1zM68 58h1v1h-1zM6 60h1v1h-1zM11 60h1v1h-1zM33 63h1v1h-1zM63 63h1v1h-1zM1 65h1v1h-1zM16 65h1v1h-1zM38 68h1v1h-1zM58 68h1v1h-1zM21 70h1v1h-1zM75 70h1v1h-1zM43 73h1v1h-1zM53 73h1v1h-1zM26 75h1v1h-1zM70 75h1v1h-1zM48 78h1v1h-1z"/><path fill="#c0dbcc" d="M26 1h1v1h-1zM70 1h1v1h-1zM31 6h1v1h-1zM65 6h1v1h-1zM31 11h1v1h-1zM65 11h1v1h-1zM26 16h1v1h-1zM70 16h1v1h-1zM21 21h1v1h-1zM75 21h1v1h-1zM48 23h1v1h-1zM1 26h1v1h-1zM16 26h1v1h-1zM43 28h1v1h-1zM53 28h1v1h-1zM6 31h1v1h-1zM11 31h1v1h-1zM38 33h1v1h-1zM58 33h1v1h-1zM33 38h1v1h-1zM63 38h1v1h-1zM28 43h1v1h-1zM68 43h1v1h-1zM23 48h1v1h-1zM73 48h1v1h-1zM28 53h1v1h-1zM68 53h1v1h-1zM33 58h1v1h-1zM63 58h1v1h-1zM38 63h1v1h-1zM58 63h1v1h-1zM6 65h1v1h-1zM11 65h1v1h-1zM43 68h1v1h-1zM53 68h1v1h-1zM1 70h1v1h-1zM16 70h1v1h-1zM48 73h1v1h-1zM21 75h1v1h-1zM75 75h1v1h-1z"/><path fill="#cbe1d4" d="M21 1h1v1h-1zM75 1h1v1h-1zM26 6h1v1h-1zM70 6h1v1h-1zM26 11h1v1h-1zM70 11h1v1h-1zM21 16h1v1h-1zM75 16h1v1h-1zM1 21h1v1h-1zM16 21h1v1h-1zM6 26h1v1h-1zM11 26h1v1h-1zM48 28h1v1h-1zM43 33h1v1h-1zM53 33h1v1h-1zM38 38h1v1h-1zM58 38h1v1h-1zM33 43h1v1h-1zM63 43h1v1h-1zM28 48h1v1h-1zM68 48h1v1h-1zM33 53h1v1h-1zM63 53h1v1h-1zM38 58h1v1h-1zM43 63h1v1h-1zM53 63h1v1h-1zM48 68h1v1h-1zM6 70h1v1h-1zM11 70h1v1h-1zM1 75h1v1h-1zM16 75h1v1h-1z"/><path fill="#d5e7dd" d="M1 1h1v1h-1zM16 1h1v1h-1zM21 6h1v1h-1zM75 6h1v1h-1zM75 11h1v1h-1zM1 16h1v1h-1zM6 21h1v1h-1zM48 33h1v1h-1zM43 38h1v1h-1zM53 38h1v1h-1zM38 43h1v1h-1zM58 43h1v1h-1zM33 48h1v1h-1zM63 48h1v1h-1zM38 53h1v1h-1zM43 58h1v1h-1zM58 58h1v1h-1zM48 63h1v1h-1zM6 75h1v1h-1zM11 75h1v1h-1z"/><path fill="#e0ede5" d="M6 1h1v1h-1zM1 6h1v1h-1zM21 11h1v1h-1zM16 16h1v1h-1zM11 21h1v1h-1zM48 38h1v1h-1zM38 48h1v1h-1zM58 53h1v1h-1zM53 58h1v1h-1z"/><path fill="#eaf3ee" d="M11 1h1v1h-1zM16 6h1v1h-1zM1 11h1v1h-1zM16 11h1v1h-1zM6 16h1v1h-1zM11 16h1v1h-1zM43 43h1v1h-1zM53 43h1v1h-1zM58 48h1v1h-1zM43 53h1v1h-1zM53 53h1v1h-1zM48 58h1v1h-1z"/><path fill="#f5f9f6" d="M6 6h1v1h-1zM11 6h1v1h-1zM6 11h1v1h-1zM11 11h1v1h-1zM48 43h1v1h-1zM43 48h1v1h-1zM53 48h1v1h-1zM48 53h1v1h-1z"/><path fill="#ffffff" d="M48 48h1v1h-1z"/></pattern></defs><rect x="69" y="22" width="1" height="368.4" fill="#e9e9e9"/><rect x="70" y="22" width="1" height="368.4" fill="#f8f8f8"/><rect x="64" y="22" width="5" height="1" fill="#e6e6e6"/><rect x="64" y="74" width="5" height="1" fill="#e6e6e6"/><rect x="64" y="127" width="5" height="1" fill="#e6e6e6"/><rect x="64" y="179" width="5" height="1" fill="#e6e6e6"/><rect x="64" y="232" width="5" height="1" fill="#e6e6e6"/><rect x="64" y="285" width="5" height="1" fill="#e6e6e6"/><rect x="64" y="337" width="5" height="1" fill="#e6e6e6"/><rect x="64" y="390" width="5" height="1" fill="#e6e6e6"/><rect x="64" y="390" width="527" height="1" fill="#e3e3e3"/><rect x="64" y="389" width="527" height="1" fill="#fafafa"/><rect x="87.1" y="53.76" width="23.2" height="336.84" fill="url(#pg)"/><rect x="110.3" y="148.44" width="23.2" height="242.16" fill="url(#ps)"/><rect x="133.5" y="243.12" width="23.2" height="147.48" fill="url(#pd)"/><rect x="191.38" y="53.76" width="23.2" height="336.84" fill="url(#pg)"/><rect x="214.58" y="211.56" width="23.2" height="179.04" fill="url(#ps)"/><rect x="237.78" y="274.68" width="23.2" height="115.92" fill="url(#pd)"/><rect x="295.66" y="53.76" width="23.2" height="336.84" fill="url(#pg)"/><rect x="318.86" y="243.12" width="23.2" height="147.48" fill="url(#ps)"/><rect x="342.06" y="306.24" width="23.2" height="84.36" fill="url(#pd)"/><rect x="399.94" y="53.76" width="23.2" height="336.84" fill="url(#pg)"/><rect x="423.14" y="306.24" width="23.2" height="84.36" fill="url(#ps)"/><rect x="446.34" y="369.36" width="23.2" height="21.24" fill="url(#pd)"/><rect x="504.22" y="53.76" width="23.2" height="336.84" fill="url(#pg)"/><rect x="527.42" y="274.68" width="23.2" height="115.92" fill="url(#ps)"/><rect x="550.62" y="369.36" width="23.2" height="21.24" fill="url(#pd)"/><path d="M94.3,52.26H103.1M94.3,55.26H103.1M98.7,52.26V55.26" stroke="#000" stroke-width="1.6" fill="none"/><path d="M117.5,142.19H126.3M117.5,154.69H126.3M121.9,142.19V154.69" stroke="#000" stroke-width="1.6" fill="none"/><path d="M140.7,232.67H149.5M140.7,253.57H149.5M145.1,232.67V253.57" stroke="#000" stroke-width="1.6" fill="none"/><path d="M198.58,52.26H207.38M198.58,55.26H207.38M202.98,52.26V55.26" stroke="#000" stroke-width="1.6" fill="none"/><path d="M221.78,202.31H230.58M221.78,220.81H230.58M226.18,202.31V220.81" stroke="#000" stroke-width="1.6" fill="none"/><path d="M244.98,274.68H253.78M244.98,274.68H253.78M249.38,274.68V274.68" stroke="#000" stroke-width="1.6" fill="none"/><path d="M302.86,52.26H311.66M302.86,55.26H311.66M307.26,52.26V55.26" stroke="#000" stroke-width="1.6" fill="none"/><path d="M326.06,232.12H334.86M326.06,254.12H334.86M330.46,232.12V254.12" stroke="#000" stroke-width="1.6" fill="none"/><path d="M349.26,306.24H358.06M349.26,306.24H358.06M353.66,306.24V306.24" stroke="#000" stroke-width="1.6" fill="none"/><path d="M407.14,52.26H415.94M407.14,55.26H415.94M411.54,52.26V55.26" stroke="#000" stroke-width="1.6" fill="none"/><path d="M430.34,292.14H439.14M430.34,320.34H439.14M434.74,292.14V320.34" stroke="#000" stroke-width="1.6" fill="none"/><path d="M453.54,369.36H462.34M453.54,369.36H462.34M457.94,369.36V369.36" stroke="#000" stroke-width="1.6" fill="none"/><path d="M511.42,52.26H520.22M511.42,55.26H520.22M515.82,52.26V55.26" stroke="#000" stroke-width="1.6" fill="none"/><path d="M534.62,261.93H543.42M534.62,287.43H543.42M539.02,261.93V287.43" stroke="#000" stroke-width="1.6" fill="none"/><path d="M557.82,369.36H566.62M557.82,369.36H566.62M562.22,369.36V369.36" stroke="#000" stroke-width="1.6" fill="none"/><text transform="translate(43.09,31) scale(1.2212,1)" class="t">0</text><text transform="translate(38.06,83.75) scale(1.0098,1)" class="t">-5</text><text transform="translate(28.43,136.7) scale(1.0636,1)" class="t">-10</text><text transform="translate(28.46,189.25) scale(1.0193,1)" class="t">-15</text><text transform="translate(28.84,241.85) scale(1.0453,1)" class="t">-20</text><text transform="translate(28.87,294.15) scale(1.0014,1)" class="t">-25</text><text transform="translate(28.84,347.05) scale(1.0453,1)" class="t">-30</text><text transform="translate(28.76,399.3) scale(1.0103,1)" class="t">-35</text><text transform="translate(82.08,418.9) scale(1.0169,1)" class="t">1000 mg/L</text><text transform="translate(186.41,418.9) scale(1.0127,1)" class="t">3000 mg/L</text><text transform="translate(290.92,418.9) scale(1.0100,1)" class="t">5000 mg/L</text><text transform="translate(391,418.9) scale(1.0047,1)" class="t">10000 mg/L</text><text transform="translate(495.08,418.9) scale(1.0151,1)" class="t">15000 mg/L</text><text transform="translate(254.08,448.75) scale(0.9941,1)" class="t">Concentration, mg/L</text><text transform="translate(21.1,314.7) rotate(-90) scale(1.0055,1)" class="t">Temperature, oC</text><rect x="581" y="141.1" width="94.9" height="113.5" fill="#fff" stroke="#6793c8" stroke-width="2"/><rect x="600" y="155.9" width="10.2" height="10.2" fill="url(#pg)"/><text transform="translate(614.74,166.05) scale(0.9604,1)" class="t">Blank</text><rect x="600" y="193.9" width="10.2" height="10.2" fill="url(#ps)"/><text transform="translate(615,204.05) scale(0.9277,1)" class="t">TPO</text><rect x="600" y="231.9" width="10.2" height="10.2" fill="url(#pd)"/><text transform="translate(614.84,242.05) scale(0.9558,1)" class="t">NTPO</text></svg>
<div class="f" style="left:0;top:0;width:685px;height:1px;background:#979797"></div>
<div class="f" style="left:1px;top:1px;width:683px;height:1px;background:#d2d2d2"></div>
<div class="f" style="left:0;top:484px;width:685px;height:1px;background:#999"></div>
<div class="f" style="left:1px;top:483px;width:683px;height:1px;background:#d0d0d0"></div>
<div class="f" style="left:0;top:0;width:1px;height:485px;background:#989898"></div>
<div class="f" style="left:1px;top:1px;width:1px;height:483px;background:#ababab"></div>
<div class="f" style="left:684px;top:0;width:1px;height:485px;background:#959595"></div>
<div class="f" style="left:683px;top:1px;width:1px;height:483px;background:#c6c6c6"></div>
</body></html>
